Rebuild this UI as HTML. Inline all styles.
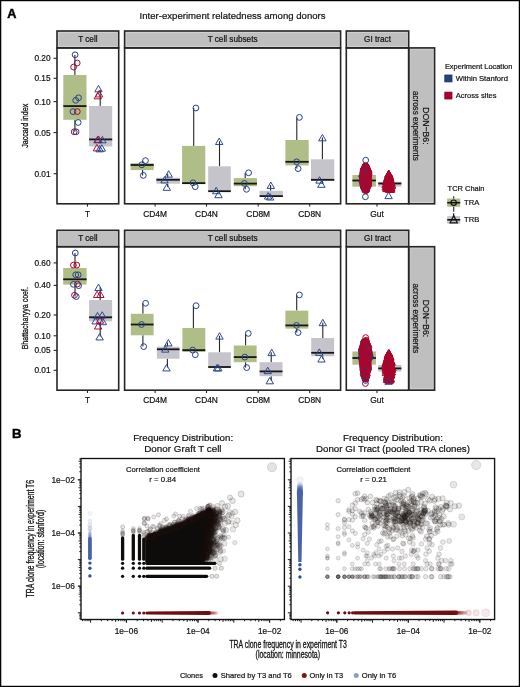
<!DOCTYPE html>
<html><head><meta charset="utf-8"><style>
html,body{margin:0;padding:0;background:#fff;}
svg{display:block;}
text{font-family:'Liberation Sans',sans-serif;}
.c0{fill:rgba(60,90,165,0.06);stroke:rgba(60,90,165,0.11);stroke-width:0.6}
.c1{fill:rgba(60,90,165,0.1);stroke:rgba(60,90,165,0.15);stroke-width:0.6}
.c2{fill:rgba(60,90,165,0.14);stroke:rgba(60,90,165,0.19);stroke-width:0.6}
.c3{fill:rgba(60,90,165,0.18);stroke:rgba(60,90,165,0.23);stroke-width:0.6}
.c4{fill:rgba(30,22,18,0.12);stroke:rgba(30,22,18,0.2);stroke-width:0.6}
.c5{fill:rgba(30,22,18,0.1);stroke:rgba(30,22,18,0.3);stroke-width:0.7}
.c6{fill:rgba(30,22,18,0.12);stroke:rgba(30,22,18,0.3);stroke-width:0.7}
.c7{fill:rgba(30,22,18,0.14);stroke:rgba(30,22,18,0.28);stroke-width:0.6}
.c8{fill:rgba(30,22,18,0.1);stroke:rgba(30,22,18,0.26);stroke-width:0.6}
.c9{fill:rgba(30,22,18,0.12);stroke:rgba(30,22,18,0.3);stroke-width:0.6}
.c10{fill:rgba(30,22,18,0.1);stroke:rgba(30,22,18,0.22);stroke-width:0.6}
.c11{fill:rgba(30,22,18,0.06);stroke:rgba(30,22,18,0.2);stroke-width:0.6}
.c12{fill:rgba(30,22,18,0.1);stroke:rgba(30,22,18,0.3);stroke-width:0.6}
.c13{fill:rgba(30,22,18,0.12);stroke:rgba(30,22,18,0.16);stroke-width:0.8}
.c14{fill:rgba(60,90,165,0.07);stroke:rgba(60,90,165,0.09);stroke-width:0.6}
.c15{fill:rgba(160,40,50,0.15);stroke:rgba(160,40,50,0.2);stroke-width:0.6}
.c16{fill:rgba(160,40,50,0.12);stroke:rgba(160,40,50,0.17);stroke-width:0.6}
.c17{fill:rgba(160,40,50,0.1);stroke:rgba(160,40,50,0.15);stroke-width:0.6}
.c18{fill:rgba(30,22,18,0.1);stroke:rgba(30,22,18,0.28);stroke-width:0.6}
.c19{fill:rgba(30,22,18,0.35);stroke:rgba(30,22,18,0.5);stroke-width:0.7}
.c20{fill:rgba(30,22,18,0.1);stroke:rgba(30,22,18,0.18);stroke-width:0.7}
</style></head><body>
<svg width="520" height="687" viewBox="0 0 520 687" style="font-family:'Liberation Sans',sans-serif;will-change:transform">
<rect x="0.65" y="0.6" width="518.75" height="685.8" fill="#fff" stroke="#000" stroke-width="1.25"/>
<text x="7.3" y="18" font-size="12.7" text-anchor="start" font-weight="bold" fill="#000" stroke="#000" stroke-width="0.45">A</text>
<text x="139.6" y="18.8" font-size="9.6" text-anchor="start" font-weight="normal" fill="#111" textLength="186" lengthAdjust="spacingAndGlyphs" stroke="#111" stroke-width="0.2">Inter-experiment relatedness among donors</text>
<rect x="57" y="31" width="61.7" height="16.9" fill="#bfbfbf"/>
<rect x="58.3" y="32.3" width="59.1" height="14.3" fill="none" stroke="#d8d8d8" stroke-width="0.8"/>
<rect x="57" y="31" width="61.7" height="16.9" fill="none" stroke="#262626" stroke-width="1.6"/>
<text x="87.85" y="42.3" font-size="8.2" text-anchor="middle" font-weight="normal" fill="#111"  stroke="#111" stroke-width="0.2">T cell</text>
<rect x="124.6" y="31" width="216" height="16.9" fill="#bfbfbf"/>
<rect x="125.9" y="32.3" width="213.4" height="14.3" fill="none" stroke="#d8d8d8" stroke-width="0.8"/>
<rect x="124.6" y="31" width="216" height="16.9" fill="none" stroke="#262626" stroke-width="1.6"/>
<text x="232.6" y="42.3" font-size="8.2" text-anchor="middle" font-weight="normal" fill="#111"  stroke="#111" stroke-width="0.2">T cell subsets</text>
<rect x="346.3" y="31" width="62.4" height="16.9" fill="#bfbfbf"/>
<rect x="347.6" y="32.3" width="59.8" height="14.3" fill="none" stroke="#d8d8d8" stroke-width="0.8"/>
<rect x="346.3" y="31" width="62.4" height="16.9" fill="none" stroke="#262626" stroke-width="1.6"/>
<text x="377.5" y="42.3" font-size="8.2" text-anchor="middle" font-weight="normal" fill="#111"  stroke="#111" stroke-width="0.2">GI tract</text>
<rect x="408.7" y="47.9" width="25.9" height="155.9" fill="#bfbfbf"/>
<rect x="410" y="49.2" width="23.3" height="153.3" fill="none" stroke="#d8d8d8" stroke-width="0.8"/>
<rect x="408.7" y="47.9" width="25.9" height="155.9" fill="none" stroke="#262626" stroke-width="1.6"/>
<text transform="translate(423.4,125.85) rotate(90)" font-size="9.3" text-anchor="middle" fill="#111" stroke="#111" stroke-width="0.2" textLength="37.4" lengthAdjust="spacingAndGlyphs">DON−B6:</text>
<text transform="translate(412.8,125.85) rotate(90)" font-size="8.3" text-anchor="middle" fill="#111" stroke="#111" stroke-width="0.2" textLength="69.8" lengthAdjust="spacingAndGlyphs">across experiments</text>
<rect x="57" y="230.3" width="61.7" height="16.4" fill="#bfbfbf"/>
<rect x="58.3" y="231.6" width="59.1" height="13.8" fill="none" stroke="#d8d8d8" stroke-width="0.8"/>
<rect x="57" y="230.3" width="61.7" height="16.4" fill="none" stroke="#262626" stroke-width="1.6"/>
<text x="87.85" y="241.4" font-size="8.2" text-anchor="middle" font-weight="normal" fill="#111"  stroke="#111" stroke-width="0.2">T cell</text>
<rect x="124.6" y="230.3" width="216" height="16.4" fill="#bfbfbf"/>
<rect x="125.9" y="231.6" width="213.4" height="13.8" fill="none" stroke="#d8d8d8" stroke-width="0.8"/>
<rect x="124.6" y="230.3" width="216" height="16.4" fill="none" stroke="#262626" stroke-width="1.6"/>
<text x="232.6" y="241.4" font-size="8.2" text-anchor="middle" font-weight="normal" fill="#111"  stroke="#111" stroke-width="0.2">T cell subsets</text>
<rect x="346.3" y="230.3" width="62.4" height="16.4" fill="#bfbfbf"/>
<rect x="347.6" y="231.6" width="59.8" height="13.8" fill="none" stroke="#d8d8d8" stroke-width="0.8"/>
<rect x="346.3" y="230.3" width="62.4" height="16.4" fill="none" stroke="#262626" stroke-width="1.6"/>
<text x="377.5" y="241.4" font-size="8.2" text-anchor="middle" font-weight="normal" fill="#111"  stroke="#111" stroke-width="0.2">GI tract</text>
<rect x="408.7" y="246.7" width="25.9" height="143.5" fill="#bfbfbf"/>
<rect x="410" y="248" width="23.3" height="140.9" fill="none" stroke="#d8d8d8" stroke-width="0.8"/>
<rect x="408.7" y="246.7" width="25.9" height="143.5" fill="none" stroke="#262626" stroke-width="1.6"/>
<text transform="translate(423.4,318.45) rotate(90)" font-size="9.3" text-anchor="middle" fill="#111" stroke="#111" stroke-width="0.2" textLength="37.4" lengthAdjust="spacingAndGlyphs">DON−B6:</text>
<text transform="translate(412.8,318.45) rotate(90)" font-size="8.3" text-anchor="middle" fill="#111" stroke="#111" stroke-width="0.2" textLength="69.8" lengthAdjust="spacingAndGlyphs">across experiments</text>
<text x="50.6" y="61.2" font-size="8.3" text-anchor="end" font-weight="normal" fill="#111"  stroke="#111" stroke-width="0.2">0.20</text>
<line x1="53.6" y1="58.3" x2="57" y2="58.3" stroke="#262626" stroke-width="1.1"/>
<text x="50.6" y="81.2" font-size="8.3" text-anchor="end" font-weight="normal" fill="#111"  stroke="#111" stroke-width="0.2">0.15</text>
<line x1="53.6" y1="78.3" x2="57" y2="78.3" stroke="#262626" stroke-width="1.1"/>
<text x="50.6" y="104.5" font-size="8.3" text-anchor="end" font-weight="normal" fill="#111"  stroke="#111" stroke-width="0.2">0.10</text>
<line x1="53.6" y1="101.6" x2="57" y2="101.6" stroke="#262626" stroke-width="1.1"/>
<text x="50.6" y="135.5" font-size="8.3" text-anchor="end" font-weight="normal" fill="#111"  stroke="#111" stroke-width="0.2">0.05</text>
<line x1="53.6" y1="132.6" x2="57" y2="132.6" stroke="#262626" stroke-width="1.1"/>
<text x="50.6" y="176.6" font-size="8.3" text-anchor="end" font-weight="normal" fill="#111"  stroke="#111" stroke-width="0.2">0.01</text>
<line x1="53.6" y1="173.7" x2="57" y2="173.7" stroke="#262626" stroke-width="1.1"/>
<text x="50.6" y="265.8" font-size="8.3" text-anchor="end" font-weight="normal" fill="#111"  stroke="#111" stroke-width="0.2">0.60</text>
<line x1="53.6" y1="262.9" x2="57" y2="262.9" stroke="#262626" stroke-width="1.1"/>
<text x="50.6" y="288.3" font-size="8.3" text-anchor="end" font-weight="normal" fill="#111"  stroke="#111" stroke-width="0.2">0.40</text>
<line x1="53.6" y1="285.4" x2="57" y2="285.4" stroke="#262626" stroke-width="1.1"/>
<text x="50.6" y="317.9" font-size="8.3" text-anchor="end" font-weight="normal" fill="#111"  stroke="#111" stroke-width="0.2">0.20</text>
<line x1="53.6" y1="315" x2="57" y2="315" stroke="#262626" stroke-width="1.1"/>
<text x="50.6" y="338.7" font-size="8.3" text-anchor="end" font-weight="normal" fill="#111"  stroke="#111" stroke-width="0.2">0.10</text>
<line x1="53.6" y1="335.8" x2="57" y2="335.8" stroke="#262626" stroke-width="1.1"/>
<text x="50.6" y="353.3" font-size="8.3" text-anchor="end" font-weight="normal" fill="#111"  stroke="#111" stroke-width="0.2">0.05</text>
<line x1="53.6" y1="350.4" x2="57" y2="350.4" stroke="#262626" stroke-width="1.1"/>
<text x="50.6" y="373.2" font-size="8.3" text-anchor="end" font-weight="normal" fill="#111"  stroke="#111" stroke-width="0.2">0.01</text>
<line x1="53.6" y1="370.3" x2="57" y2="370.3" stroke="#262626" stroke-width="1.1"/>
<text transform="translate(28.4,125.8) rotate(-90)" font-size="9.8" text-anchor="middle" fill="#111" stroke="#111" stroke-width="0.3" textLength="44.0" lengthAdjust="spacingAndGlyphs">Jaccard index</text>
<text transform="translate(28.4,318.2) rotate(-90)" font-size="9.8" text-anchor="middle" fill="#111" stroke="#111" stroke-width="0.3" textLength="62.3" lengthAdjust="spacingAndGlyphs">Bhattacharyya coef.</text>
<text x="87.5" y="217.3" font-size="8.4" text-anchor="middle" font-weight="normal" fill="#111"  stroke="#111" stroke-width="0.2">T</text>
<line x1="87.5" y1="203.8" x2="87.5" y2="206.6" stroke="#262626" stroke-width="1.1"/>
<text x="155.1" y="217.3" font-size="8.4" text-anchor="middle" font-weight="normal" fill="#111"  stroke="#111" stroke-width="0.2">CD4M</text>
<line x1="155.1" y1="203.8" x2="155.1" y2="206.6" stroke="#262626" stroke-width="1.1"/>
<text x="206.5" y="217.3" font-size="8.4" text-anchor="middle" font-weight="normal" fill="#111"  stroke="#111" stroke-width="0.2">CD4N</text>
<line x1="206.5" y1="203.8" x2="206.5" y2="206.6" stroke="#262626" stroke-width="1.1"/>
<text x="258.2" y="217.3" font-size="8.4" text-anchor="middle" font-weight="normal" fill="#111"  stroke="#111" stroke-width="0.2">CD8M</text>
<line x1="258.2" y1="203.8" x2="258.2" y2="206.6" stroke="#262626" stroke-width="1.1"/>
<text x="309.7" y="217.3" font-size="8.4" text-anchor="middle" font-weight="normal" fill="#111"  stroke="#111" stroke-width="0.2">CD8N</text>
<line x1="309.7" y1="203.8" x2="309.7" y2="206.6" stroke="#262626" stroke-width="1.1"/>
<text x="377" y="217.3" font-size="8.4" text-anchor="middle" font-weight="normal" fill="#111"  stroke="#111" stroke-width="0.2">Gut</text>
<line x1="377" y1="203.8" x2="377" y2="206.6" stroke="#262626" stroke-width="1.1"/>
<text x="87.5" y="402.9" font-size="8.4" text-anchor="middle" font-weight="normal" fill="#111"  stroke="#111" stroke-width="0.2">T</text>
<line x1="87.5" y1="390.2" x2="87.5" y2="393" stroke="#262626" stroke-width="1.1"/>
<text x="155.1" y="402.9" font-size="8.4" text-anchor="middle" font-weight="normal" fill="#111"  stroke="#111" stroke-width="0.2">CD4M</text>
<line x1="155.1" y1="390.2" x2="155.1" y2="393" stroke="#262626" stroke-width="1.1"/>
<text x="206.5" y="402.9" font-size="8.4" text-anchor="middle" font-weight="normal" fill="#111"  stroke="#111" stroke-width="0.2">CD4N</text>
<line x1="206.5" y1="390.2" x2="206.5" y2="393" stroke="#262626" stroke-width="1.1"/>
<text x="258.2" y="402.9" font-size="8.4" text-anchor="middle" font-weight="normal" fill="#111"  stroke="#111" stroke-width="0.2">CD8M</text>
<line x1="258.2" y1="390.2" x2="258.2" y2="393" stroke="#262626" stroke-width="1.1"/>
<text x="309.7" y="402.9" font-size="8.4" text-anchor="middle" font-weight="normal" fill="#111"  stroke="#111" stroke-width="0.2">CD8N</text>
<line x1="309.7" y1="390.2" x2="309.7" y2="393" stroke="#262626" stroke-width="1.1"/>
<text x="377" y="402.9" font-size="8.4" text-anchor="middle" font-weight="normal" fill="#111"  stroke="#111" stroke-width="0.2">Gut</text>
<line x1="377" y1="390.2" x2="377" y2="393" stroke="#262626" stroke-width="1.1"/>
<line x1="74.9" y1="55" x2="74.9" y2="75" stroke="#262626" stroke-width="1.1"/>
<line x1="74.9" y1="119.8" x2="74.9" y2="131.8" stroke="#262626" stroke-width="1.1"/>
<rect x="63.3" y="75" width="23.2" height="44.8" fill="#afbd86"/>
<line x1="63.3" y1="106.1" x2="86.5" y2="106.1" stroke="#161616" stroke-width="1.8"/>
<circle cx="75.1" cy="54.8" r="2.9" fill="none" stroke="#24418a" stroke-width="1.0"/>
<circle cx="77.2" cy="63" r="2.9" fill="none" stroke="#a9062c" stroke-width="1.0"/>
<circle cx="73.6" cy="67.1" r="2.9" fill="none" stroke="#a9062c" stroke-width="1.0"/>
<circle cx="78.5" cy="97.8" r="2.9" fill="none" stroke="#24418a" stroke-width="1.0"/>
<circle cx="75.7" cy="100.3" r="2.9" fill="none" stroke="#24418a" stroke-width="1.0"/>
<circle cx="73" cy="111.6" r="2.9" fill="none" stroke="#24418a" stroke-width="1.0"/>
<circle cx="77.3" cy="111.6" r="2.9" fill="none" stroke="#a9062c" stroke-width="1.0"/>
<circle cx="78.2" cy="122.5" r="2.9" fill="none" stroke="#24418a" stroke-width="1.0"/>
<circle cx="74.2" cy="131.8" r="2.9" fill="none" stroke="#a9062c" stroke-width="1.0"/>
<circle cx="76.1" cy="131.8" r="2.9" fill="none" stroke="#24418a" stroke-width="1.0"/>
<line x1="100.2" y1="90" x2="100.2" y2="106" stroke="#262626" stroke-width="1.1"/>
<line x1="100.2" y1="146.5" x2="100.2" y2="148.5" stroke="#262626" stroke-width="1.1"/>
<rect x="89.1" y="106" width="23.1" height="40.5" fill="#c6c4cb"/>
<line x1="89.1" y1="139.4" x2="112.2" y2="139.4" stroke="#161616" stroke-width="1.8"/>
<polygon points="98.5,85.43 102.2,91.83 94.8,91.83" fill="none" stroke="#24418a" stroke-width="0.95" stroke-linejoin="miter"/>
<polygon points="99.1,90.53 102.8,96.93 95.4,96.93" fill="none" stroke="#a9062c" stroke-width="0.95" stroke-linejoin="miter"/>
<polygon points="97.8,92.43 101.5,98.83 94.1,98.83" fill="none" stroke="#a9062c" stroke-width="0.95" stroke-linejoin="miter"/>
<polygon points="97.5,136.43 101.2,142.83 93.8,142.83" fill="none" stroke="#24418a" stroke-width="0.95" stroke-linejoin="miter"/>
<polygon points="98.5,135.93 102.2,142.33 94.8,142.33" fill="none" stroke="#a9062c" stroke-width="0.95" stroke-linejoin="miter"/>
<polygon points="102.4,136.43 106.1,142.83 98.7,142.83" fill="none" stroke="#24418a" stroke-width="0.95" stroke-linejoin="miter"/>
<polygon points="96.9,144.43 100.6,150.83 93.2,150.83" fill="none" stroke="#a9062c" stroke-width="0.95" stroke-linejoin="miter"/>
<polygon points="99.6,145.43 103.3,151.83 95.9,151.83" fill="none" stroke="#24418a" stroke-width="0.95" stroke-linejoin="miter"/>
<polygon points="101.8,144.73 105.5,151.13 98.1,151.13" fill="none" stroke="#24418a" stroke-width="0.95" stroke-linejoin="miter"/>
<line x1="142.6" y1="160.6" x2="142.6" y2="163.2" stroke="#262626" stroke-width="1.1"/>
<line x1="142.6" y1="170.1" x2="142.6" y2="175.4" stroke="#262626" stroke-width="1.1"/>
<rect x="130.6" y="163.2" width="23.1" height="6.9" fill="#afbd86"/>
<line x1="130.6" y1="165" x2="153.7" y2="165" stroke="#161616" stroke-width="1.8"/>
<circle cx="145.5" cy="160.6" r="2.9" fill="none" stroke="#24418a" stroke-width="1.0"/>
<circle cx="141.8" cy="164.8" r="2.9" fill="none" stroke="#24418a" stroke-width="1.0"/>
<circle cx="143.3" cy="175.4" r="2.9" fill="none" stroke="#24418a" stroke-width="1.0"/>
<line x1="167.7" y1="173.8" x2="167.7" y2="177.7" stroke="#262626" stroke-width="1.1"/>
<line x1="167.7" y1="183.7" x2="167.7" y2="187" stroke="#262626" stroke-width="1.1"/>
<rect x="156.4" y="177.7" width="23.5" height="6" fill="#c6c4cb"/>
<line x1="156.4" y1="179.8" x2="179.9" y2="179.8" stroke="#161616" stroke-width="1.8"/>
<polygon points="168.7,170.73 172.4,177.13 165,177.13" fill="none" stroke="#24418a" stroke-width="0.95" stroke-linejoin="miter"/>
<polygon points="164.5,176.53 168.2,182.93 160.8,182.93" fill="none" stroke="#24418a" stroke-width="0.95" stroke-linejoin="miter"/>
<polygon points="166.8,183.93 170.5,190.33 163.1,190.33" fill="none" stroke="#24418a" stroke-width="0.95" stroke-linejoin="miter"/>
<line x1="193.7" y1="108" x2="193.7" y2="145.9" stroke="#262626" stroke-width="1.1"/>
<rect x="182.1" y="145.9" width="23.2" height="38.3" fill="#afbd86"/>
<line x1="182.1" y1="183.1" x2="205.3" y2="183.1" stroke="#161616" stroke-width="1.8"/>
<circle cx="195.9" cy="108" r="2.9" fill="none" stroke="#24418a" stroke-width="1.0"/>
<circle cx="193" cy="182.8" r="2.9" fill="none" stroke="#24418a" stroke-width="1.0"/>
<circle cx="195.2" cy="186.7" r="2.9" fill="none" stroke="#24418a" stroke-width="1.0"/>
<line x1="219.5" y1="141.2" x2="219.5" y2="166.3" stroke="#262626" stroke-width="1.1"/>
<rect x="208.2" y="166.3" width="22.6" height="25.3" fill="#c6c4cb"/>
<line x1="208.2" y1="191.2" x2="230.8" y2="191.2" stroke="#161616" stroke-width="1.8"/>
<polygon points="219.2,138.13 222.9,144.53 215.5,144.53" fill="none" stroke="#24418a" stroke-width="0.95" stroke-linejoin="miter"/>
<polygon points="216.2,187.33 219.9,193.73 212.5,193.73" fill="none" stroke="#24418a" stroke-width="0.95" stroke-linejoin="miter"/>
<polygon points="218.5,191.33 222.2,197.73 214.8,197.73" fill="none" stroke="#24418a" stroke-width="0.95" stroke-linejoin="miter"/>
<line x1="245.2" y1="172.8" x2="245.2" y2="178.1" stroke="#262626" stroke-width="1.1"/>
<line x1="245.2" y1="186.2" x2="245.2" y2="189.3" stroke="#262626" stroke-width="1.1"/>
<rect x="233.8" y="178.1" width="23.1" height="8.1" fill="#afbd86"/>
<line x1="233.8" y1="183.6" x2="256.9" y2="183.6" stroke="#161616" stroke-width="1.8"/>
<circle cx="248.6" cy="172.8" r="2.9" fill="none" stroke="#24418a" stroke-width="1.0"/>
<circle cx="244.4" cy="183.4" r="2.9" fill="none" stroke="#24418a" stroke-width="1.0"/>
<circle cx="246.5" cy="189.3" r="2.9" fill="none" stroke="#24418a" stroke-width="1.0"/>
<line x1="270.6" y1="185.1" x2="270.6" y2="190.8" stroke="#262626" stroke-width="1.1"/>
<rect x="259.6" y="190.8" width="23.3" height="5.9" fill="#c6c4cb"/>
<line x1="259.6" y1="196.1" x2="282.9" y2="196.1" stroke="#161616" stroke-width="1.8"/>
<polygon points="270.8,182.03 274.5,188.43 267.1,188.43" fill="none" stroke="#24418a" stroke-width="0.95" stroke-linejoin="miter"/>
<polygon points="268.1,192.63 271.8,199.03 264.4,199.03" fill="none" stroke="#24418a" stroke-width="0.95" stroke-linejoin="miter"/>
<polygon points="270.2,193.63 273.9,200.03 266.5,200.03" fill="none" stroke="#24418a" stroke-width="0.95" stroke-linejoin="miter"/>
<line x1="296.8" y1="117.4" x2="296.8" y2="140" stroke="#262626" stroke-width="1.1"/>
<line x1="296.8" y1="165.4" x2="296.8" y2="168.6" stroke="#262626" stroke-width="1.1"/>
<rect x="285.4" y="140" width="23.3" height="25.4" fill="#afbd86"/>
<line x1="285.4" y1="161.8" x2="308.7" y2="161.8" stroke="#161616" stroke-width="1.8"/>
<circle cx="299.4" cy="117.4" r="2.9" fill="none" stroke="#24418a" stroke-width="1.0"/>
<circle cx="296.6" cy="161.8" r="2.9" fill="none" stroke="#24418a" stroke-width="1.0"/>
<circle cx="298.1" cy="168.6" r="2.9" fill="none" stroke="#24418a" stroke-width="1.0"/>
<line x1="322.4" y1="137.5" x2="322.4" y2="159.3" stroke="#262626" stroke-width="1.1"/>
<line x1="322.4" y1="180.9" x2="322.4" y2="184" stroke="#262626" stroke-width="1.1"/>
<rect x="311" y="159.3" width="23.3" height="21.6" fill="#c6c4cb"/>
<line x1="311" y1="179.8" x2="334.3" y2="179.8" stroke="#161616" stroke-width="1.8"/>
<polygon points="322.4,134.43 326.1,140.83 318.7,140.83" fill="none" stroke="#24418a" stroke-width="0.95" stroke-linejoin="miter"/>
<polygon points="319.5,176.73 323.2,183.13 315.8,183.13" fill="none" stroke="#24418a" stroke-width="0.95" stroke-linejoin="miter"/>
<polygon points="321.4,180.93 325.1,187.33 317.7,187.33" fill="none" stroke="#24418a" stroke-width="0.95" stroke-linejoin="miter"/>
<rect x="352.4" y="175" width="23.5" height="11.7" fill="#afbd86"/>
<line x1="352.4" y1="180.5" x2="375.9" y2="180.5" stroke="#161616" stroke-width="1.8"/>
<circle cx="365.7" cy="160.2" r="2.9" fill="none" stroke="#24418a" stroke-width="1.0"/>
<circle cx="365.4" cy="196.8" r="2.9" fill="none" stroke="#24418a" stroke-width="1.0"/>
<circle cx="365.09" cy="180" r="2.9" fill="none" stroke="#24418a" stroke-width="1.0"/>
<circle cx="363.19" cy="180.16" r="2.9" fill="none" stroke="#24418a" stroke-width="1.0"/>
<circle cx="367.97" cy="185.93" r="2.9" fill="none" stroke="#24418a" stroke-width="1.0"/>
<circle cx="362.78" cy="182.01" r="2.9" fill="none" stroke="#24418a" stroke-width="1.0"/>
<circle cx="364.23" cy="178.76" r="2.9" fill="none" stroke="#24418a" stroke-width="1.0"/>
<circle cx="368.98" cy="172.12" r="2.9" fill="none" stroke="#24418a" stroke-width="1.0"/>
<circle cx="364.74" cy="190.42" r="2.9" fill="none" stroke="#24418a" stroke-width="1.0"/>
<circle cx="366.37" cy="187.07" r="2.9" fill="none" stroke="#24418a" stroke-width="1.0"/>
<circle cx="363.88" cy="175.35" r="2.9" fill="none" stroke="#24418a" stroke-width="1.0"/>
<circle cx="365.34" cy="182.54" r="2.9" fill="none" stroke="#24418a" stroke-width="1.0"/>
<circle cx="367.04" cy="182.8" r="2.9" fill="none" stroke="#24418a" stroke-width="1.0"/>
<circle cx="367.2" cy="169.26" r="2.9" fill="none" stroke="#24418a" stroke-width="1.0"/>
<circle cx="366.9" cy="190.07" r="2.9" fill="none" stroke="#24418a" stroke-width="1.0"/>
<circle cx="361.79" cy="181.03" r="2.9" fill="none" stroke="#24418a" stroke-width="1.0"/>
<circle cx="364.93" cy="166.1" r="2.9" fill="none" stroke="#24418a" stroke-width="1.0"/>
<circle cx="364.93" cy="189.05" r="2.9" fill="none" stroke="#24418a" stroke-width="1.0"/>
<circle cx="369.04" cy="174.97" r="2.9" fill="none" stroke="#24418a" stroke-width="1.0"/>
<circle cx="366.09" cy="173.7" r="2.9" fill="none" stroke="#24418a" stroke-width="1.0"/>
<circle cx="362.03" cy="176.68" r="2.9" fill="none" stroke="#24418a" stroke-width="1.0"/>
<circle cx="368.64" cy="180.32" r="2.9" fill="none" stroke="#24418a" stroke-width="1.0"/>
<circle cx="363.99" cy="169.83" r="2.9" fill="none" stroke="#24418a" stroke-width="1.0"/>
<circle cx="361.8" cy="176.12" r="2.9" fill="none" stroke="#24418a" stroke-width="1.0"/>
<circle cx="368.4" cy="178.17" r="2.9" fill="none" stroke="#24418a" stroke-width="1.0"/>
<circle cx="365.99" cy="182.12" r="2.9" fill="none" stroke="#24418a" stroke-width="1.0"/>
<circle cx="363.38" cy="186.95" r="2.9" fill="none" stroke="#24418a" stroke-width="1.0"/>
<circle cx="364.63" cy="179.9" r="2.9" fill="none" stroke="#24418a" stroke-width="1.0"/>
<circle cx="362.39" cy="180.73" r="2.9" fill="none" stroke="#24418a" stroke-width="1.0"/>
<circle cx="362.71" cy="185" r="2.9" fill="none" stroke="#24418a" stroke-width="1.0"/>
<circle cx="367.68" cy="170.08" r="2.9" fill="none" stroke="#24418a" stroke-width="1.0"/>
<circle cx="365.45" cy="189.22" r="2.9" fill="none" stroke="#24418a" stroke-width="1.0"/>
<circle cx="363.55" cy="176.14" r="2.9" fill="none" stroke="#24418a" stroke-width="1.0"/>
<circle cx="366.58" cy="172.73" r="2.9" fill="none" stroke="#24418a" stroke-width="1.0"/>
<circle cx="363.21" cy="170.37" r="2.9" fill="none" stroke="#24418a" stroke-width="1.0"/>
<circle cx="362.86" cy="177.17" r="2.9" fill="none" stroke="#24418a" stroke-width="1.0"/>
<circle cx="368.46" cy="181.89" r="2.9" fill="none" stroke="#24418a" stroke-width="1.0"/>
<circle cx="365.55" cy="185.05" r="2.9" fill="none" stroke="#24418a" stroke-width="1.0"/>
<circle cx="365.16" cy="174.52" r="2.9" fill="none" stroke="#24418a" stroke-width="1.0"/>
<circle cx="366.15" cy="166.12" r="2.9" fill="none" stroke="#24418a" stroke-width="1.0"/>
<circle cx="364.25" cy="174.13" r="2.9" fill="none" stroke="#24418a" stroke-width="1.0"/>
<circle cx="365.48" cy="167.96" r="2.9" fill="none" stroke="#24418a" stroke-width="1.0"/>
<circle cx="366.12" cy="177.08" r="2.9" fill="none" stroke="#a9062c" stroke-width="1.0"/>
<circle cx="365.6" cy="188.64" r="2.9" fill="none" stroke="#a9062c" stroke-width="1.0"/>
<circle cx="366.32" cy="178.44" r="2.9" fill="none" stroke="#a9062c" stroke-width="1.0"/>
<circle cx="365.76" cy="170.52" r="2.9" fill="none" stroke="#a9062c" stroke-width="1.0"/>
<circle cx="367.8" cy="181.43" r="2.9" fill="none" stroke="#a9062c" stroke-width="1.0"/>
<circle cx="365.08" cy="168.31" r="2.9" fill="none" stroke="#a9062c" stroke-width="1.0"/>
<circle cx="366.64" cy="168.22" r="2.9" fill="none" stroke="#a9062c" stroke-width="1.0"/>
<circle cx="362.58" cy="182.99" r="2.9" fill="none" stroke="#a9062c" stroke-width="1.0"/>
<circle cx="366.25" cy="190.06" r="2.9" fill="none" stroke="#a9062c" stroke-width="1.0"/>
<circle cx="366.53" cy="182.02" r="2.9" fill="none" stroke="#a9062c" stroke-width="1.0"/>
<circle cx="363.35" cy="169.86" r="2.9" fill="none" stroke="#a9062c" stroke-width="1.0"/>
<circle cx="362.57" cy="178.95" r="2.9" fill="none" stroke="#a9062c" stroke-width="1.0"/>
<circle cx="364.34" cy="170.66" r="2.9" fill="none" stroke="#a9062c" stroke-width="1.0"/>
<circle cx="365.65" cy="166.74" r="2.9" fill="none" stroke="#a9062c" stroke-width="1.0"/>
<circle cx="368.11" cy="176.79" r="2.9" fill="none" stroke="#a9062c" stroke-width="1.0"/>
<circle cx="366.7" cy="178.72" r="2.9" fill="none" stroke="#a9062c" stroke-width="1.0"/>
<circle cx="366.85" cy="178.24" r="2.9" fill="none" stroke="#a9062c" stroke-width="1.0"/>
<circle cx="364.13" cy="177.2" r="2.9" fill="none" stroke="#a9062c" stroke-width="1.0"/>
<circle cx="366.03" cy="190.44" r="2.9" fill="none" stroke="#a9062c" stroke-width="1.0"/>
<circle cx="366.82" cy="186.59" r="2.9" fill="none" stroke="#a9062c" stroke-width="1.0"/>
<circle cx="363.95" cy="173.72" r="2.9" fill="none" stroke="#a9062c" stroke-width="1.0"/>
<circle cx="363.02" cy="173.08" r="2.9" fill="none" stroke="#a9062c" stroke-width="1.0"/>
<circle cx="365.09" cy="184.77" r="2.9" fill="none" stroke="#a9062c" stroke-width="1.0"/>
<circle cx="365.1" cy="186.74" r="2.9" fill="none" stroke="#a9062c" stroke-width="1.0"/>
<circle cx="366.38" cy="189.47" r="2.9" fill="none" stroke="#a9062c" stroke-width="1.0"/>
<circle cx="365.52" cy="166.01" r="2.9" fill="none" stroke="#a9062c" stroke-width="1.0"/>
<circle cx="365.6" cy="188.3" r="2.9" fill="none" stroke="#a9062c" stroke-width="1.0"/>
<circle cx="365.57" cy="190.02" r="2.9" fill="none" stroke="#a9062c" stroke-width="1.0"/>
<circle cx="366.03" cy="167.79" r="2.9" fill="none" stroke="#a9062c" stroke-width="1.0"/>
<circle cx="364.33" cy="185.07" r="2.9" fill="none" stroke="#a9062c" stroke-width="1.0"/>
<circle cx="365.21" cy="168.14" r="2.9" fill="none" stroke="#a9062c" stroke-width="1.0"/>
<circle cx="366.15" cy="189.62" r="2.9" fill="none" stroke="#a9062c" stroke-width="1.0"/>
<circle cx="364.74" cy="168.89" r="2.9" fill="none" stroke="#a9062c" stroke-width="1.0"/>
<circle cx="364.24" cy="168.48" r="2.9" fill="none" stroke="#a9062c" stroke-width="1.0"/>
<circle cx="363.83" cy="185.53" r="2.9" fill="none" stroke="#a9062c" stroke-width="1.0"/>
<circle cx="365.32" cy="179.7" r="2.9" fill="none" stroke="#a9062c" stroke-width="1.0"/>
<circle cx="366.92" cy="170.67" r="2.9" fill="none" stroke="#a9062c" stroke-width="1.0"/>
<circle cx="366.29" cy="169.21" r="2.9" fill="none" stroke="#a9062c" stroke-width="1.0"/>
<circle cx="365.4" cy="168.85" r="2.9" fill="none" stroke="#a9062c" stroke-width="1.0"/>
<circle cx="364.44" cy="171.22" r="2.9" fill="none" stroke="#a9062c" stroke-width="1.0"/>
<circle cx="366.17" cy="189.79" r="2.9" fill="none" stroke="#a9062c" stroke-width="1.0"/>
<circle cx="368.16" cy="173.45" r="2.9" fill="none" stroke="#a9062c" stroke-width="1.0"/>
<circle cx="365.12" cy="171.16" r="2.9" fill="none" stroke="#a9062c" stroke-width="1.0"/>
<circle cx="366.44" cy="186.93" r="2.9" fill="none" stroke="#a9062c" stroke-width="1.0"/>
<circle cx="367.32" cy="168.46" r="2.9" fill="none" stroke="#a9062c" stroke-width="1.0"/>
<circle cx="364.37" cy="171.22" r="2.9" fill="none" stroke="#a9062c" stroke-width="1.0"/>
<circle cx="364.67" cy="184.93" r="2.9" fill="none" stroke="#a9062c" stroke-width="1.0"/>
<circle cx="363.01" cy="173.26" r="2.9" fill="none" stroke="#a9062c" stroke-width="1.0"/>
<circle cx="365.95" cy="168.21" r="2.9" fill="none" stroke="#a9062c" stroke-width="1.0"/>
<circle cx="366.29" cy="171.95" r="2.9" fill="none" stroke="#a9062c" stroke-width="1.0"/>
<circle cx="365.37" cy="175.11" r="2.9" fill="none" stroke="#a9062c" stroke-width="1.0"/>
<circle cx="365.67" cy="189.5" r="2.9" fill="none" stroke="#a9062c" stroke-width="1.0"/>
<circle cx="368.32" cy="180.08" r="2.9" fill="none" stroke="#a9062c" stroke-width="1.0"/>
<circle cx="363.9" cy="170.48" r="2.9" fill="none" stroke="#a9062c" stroke-width="1.0"/>
<circle cx="366.83" cy="188.26" r="2.9" fill="none" stroke="#a9062c" stroke-width="1.0"/>
<circle cx="363.89" cy="172.11" r="2.9" fill="none" stroke="#a9062c" stroke-width="1.0"/>
<circle cx="368.5" cy="184.12" r="2.9" fill="none" stroke="#a9062c" stroke-width="1.0"/>
<circle cx="368.1" cy="170.82" r="2.9" fill="none" stroke="#a9062c" stroke-width="1.0"/>
<circle cx="366.15" cy="187.61" r="2.9" fill="none" stroke="#a9062c" stroke-width="1.0"/>
<circle cx="362.91" cy="176.33" r="2.9" fill="none" stroke="#a9062c" stroke-width="1.0"/>
<circle cx="366.46" cy="166.95" r="2.9" fill="none" stroke="#a9062c" stroke-width="1.0"/>
<circle cx="366.87" cy="171.84" r="2.9" fill="none" stroke="#a9062c" stroke-width="1.0"/>
<circle cx="367.62" cy="172.3" r="2.9" fill="none" stroke="#a9062c" stroke-width="1.0"/>
<circle cx="364.22" cy="180.61" r="2.9" fill="none" stroke="#a9062c" stroke-width="1.0"/>
<circle cx="366.83" cy="170.3" r="2.9" fill="none" stroke="#a9062c" stroke-width="1.0"/>
<circle cx="365.03" cy="167.69" r="2.9" fill="none" stroke="#a9062c" stroke-width="1.0"/>
<circle cx="368.21" cy="179.7" r="2.9" fill="none" stroke="#a9062c" stroke-width="1.0"/>
<circle cx="364.12" cy="181.05" r="2.9" fill="none" stroke="#a9062c" stroke-width="1.0"/>
<circle cx="364.73" cy="188.48" r="2.9" fill="none" stroke="#a9062c" stroke-width="1.0"/>
<circle cx="365.46" cy="166.41" r="2.9" fill="none" stroke="#a9062c" stroke-width="1.0"/>
<circle cx="362.6" cy="176.92" r="2.9" fill="none" stroke="#a9062c" stroke-width="1.0"/>
<circle cx="365.03" cy="170.32" r="2.9" fill="none" stroke="#a9062c" stroke-width="1.0"/>
<circle cx="363.07" cy="180.02" r="2.9" fill="none" stroke="#a9062c" stroke-width="1.0"/>
<circle cx="368.42" cy="174.87" r="2.9" fill="none" stroke="#a9062c" stroke-width="1.0"/>
<circle cx="365.89" cy="190.02" r="2.9" fill="none" stroke="#a9062c" stroke-width="1.0"/>
<circle cx="366.28" cy="182.93" r="2.9" fill="none" stroke="#a9062c" stroke-width="1.0"/>
<circle cx="363.66" cy="169.44" r="2.9" fill="none" stroke="#a9062c" stroke-width="1.0"/>
<circle cx="366.14" cy="166.44" r="2.9" fill="none" stroke="#a9062c" stroke-width="1.0"/>
<circle cx="368.81" cy="183.17" r="2.9" fill="none" stroke="#a9062c" stroke-width="1.0"/>
<circle cx="365.86" cy="166.52" r="2.9" fill="none" stroke="#a9062c" stroke-width="1.0"/>
<circle cx="367.33" cy="177.81" r="2.9" fill="none" stroke="#a9062c" stroke-width="1.0"/>
<circle cx="368.96" cy="173.81" r="2.9" fill="none" stroke="#a9062c" stroke-width="1.0"/>
<circle cx="365.82" cy="167.84" r="2.9" fill="none" stroke="#a9062c" stroke-width="1.0"/>
<circle cx="368.25" cy="184.06" r="2.9" fill="none" stroke="#a9062c" stroke-width="1.0"/>
<circle cx="367" cy="184.06" r="2.9" fill="none" stroke="#a9062c" stroke-width="1.0"/>
<circle cx="368.12" cy="185.44" r="2.9" fill="none" stroke="#a9062c" stroke-width="1.0"/>
<circle cx="366.97" cy="174.62" r="2.9" fill="none" stroke="#a9062c" stroke-width="1.0"/>
<circle cx="367.11" cy="188.07" r="2.9" fill="none" stroke="#a9062c" stroke-width="1.0"/>
<circle cx="367.74" cy="176.22" r="2.9" fill="none" stroke="#a9062c" stroke-width="1.0"/>
<circle cx="366.06" cy="187.16" r="2.9" fill="none" stroke="#a9062c" stroke-width="1.0"/>
<circle cx="364.86" cy="181.31" r="2.9" fill="none" stroke="#a9062c" stroke-width="1.0"/>
<circle cx="366.48" cy="180.28" r="2.9" fill="none" stroke="#a9062c" stroke-width="1.0"/>
<circle cx="366.08" cy="167.96" r="2.9" fill="none" stroke="#a9062c" stroke-width="1.0"/>
<circle cx="366.01" cy="190.34" r="2.9" fill="none" stroke="#a9062c" stroke-width="1.0"/>
<circle cx="364.98" cy="183.84" r="2.9" fill="none" stroke="#a9062c" stroke-width="1.0"/>
<circle cx="366.22" cy="184.01" r="2.9" fill="none" stroke="#a9062c" stroke-width="1.0"/>
<circle cx="368.09" cy="176.79" r="2.9" fill="none" stroke="#a9062c" stroke-width="1.0"/>
<circle cx="366.42" cy="168.05" r="2.9" fill="none" stroke="#a9062c" stroke-width="1.0"/>
<circle cx="365.84" cy="166.73" r="2.9" fill="none" stroke="#a9062c" stroke-width="1.0"/>
<circle cx="363.79" cy="177.78" r="2.9" fill="none" stroke="#a9062c" stroke-width="1.0"/>
<circle cx="365.68" cy="183.11" r="2.9" fill="none" stroke="#a9062c" stroke-width="1.0"/>
<circle cx="368.72" cy="181.06" r="2.9" fill="none" stroke="#a9062c" stroke-width="1.0"/>
<circle cx="362.81" cy="172.27" r="2.9" fill="none" stroke="#a9062c" stroke-width="1.0"/>
<circle cx="366.83" cy="173.38" r="2.9" fill="none" stroke="#a9062c" stroke-width="1.0"/>
<circle cx="363.92" cy="170.96" r="2.9" fill="none" stroke="#a9062c" stroke-width="1.0"/>
<circle cx="366.28" cy="188.19" r="2.9" fill="none" stroke="#a9062c" stroke-width="1.0"/>
<circle cx="368.46" cy="176.83" r="2.9" fill="none" stroke="#a9062c" stroke-width="1.0"/>
<circle cx="366.8" cy="174.01" r="2.9" fill="none" stroke="#a9062c" stroke-width="1.0"/>
<circle cx="365.33" cy="170.86" r="2.9" fill="none" stroke="#a9062c" stroke-width="1.0"/>
<circle cx="368.06" cy="185.75" r="2.9" fill="none" stroke="#a9062c" stroke-width="1.0"/>
<circle cx="365.19" cy="187.57" r="2.9" fill="none" stroke="#a9062c" stroke-width="1.0"/>
<circle cx="364.39" cy="180.29" r="2.9" fill="none" stroke="#a9062c" stroke-width="1.0"/>
<circle cx="365.68" cy="169.34" r="2.9" fill="none" stroke="#a9062c" stroke-width="1.0"/>
<circle cx="367.58" cy="186.51" r="2.9" fill="none" stroke="#a9062c" stroke-width="1.0"/>
<circle cx="368.68" cy="183.42" r="2.9" fill="none" stroke="#a9062c" stroke-width="1.0"/>
<circle cx="363.68" cy="172.78" r="2.9" fill="none" stroke="#a9062c" stroke-width="1.0"/>
<circle cx="364.11" cy="177.04" r="2.9" fill="none" stroke="#a9062c" stroke-width="1.0"/>
<circle cx="365.23" cy="171.24" r="2.9" fill="none" stroke="#a9062c" stroke-width="1.0"/>
<circle cx="365.66" cy="181.33" r="2.9" fill="none" stroke="#a9062c" stroke-width="1.0"/>
<circle cx="367.9" cy="173.73" r="2.9" fill="none" stroke="#a9062c" stroke-width="1.0"/>
<circle cx="365.64" cy="190.06" r="2.9" fill="none" stroke="#a9062c" stroke-width="1.0"/>
<circle cx="364.48" cy="167.83" r="2.9" fill="none" stroke="#a9062c" stroke-width="1.0"/>
<circle cx="363.55" cy="187.38" r="2.9" fill="none" stroke="#a9062c" stroke-width="1.0"/>
<circle cx="366.17" cy="183.36" r="2.9" fill="none" stroke="#a9062c" stroke-width="1.0"/>
<circle cx="367.57" cy="173.57" r="2.9" fill="none" stroke="#a9062c" stroke-width="1.0"/>
<circle cx="365.29" cy="166.47" r="2.9" fill="none" stroke="#a9062c" stroke-width="1.0"/>
<circle cx="362.34" cy="177.14" r="2.9" fill="none" stroke="#a9062c" stroke-width="1.0"/>
<circle cx="364.26" cy="186.33" r="2.9" fill="none" stroke="#a9062c" stroke-width="1.0"/>
<circle cx="363.71" cy="169.45" r="2.9" fill="none" stroke="#a9062c" stroke-width="1.0"/>
<circle cx="365.32" cy="181.41" r="2.9" fill="none" stroke="#a9062c" stroke-width="1.0"/>
<circle cx="366.81" cy="181.43" r="2.9" fill="none" stroke="#a9062c" stroke-width="1.0"/>
<circle cx="368.31" cy="185.78" r="2.9" fill="none" stroke="#a9062c" stroke-width="1.0"/>
<circle cx="363.63" cy="182.77" r="2.9" fill="none" stroke="#a9062c" stroke-width="1.0"/>
<circle cx="363.43" cy="177.64" r="2.9" fill="none" stroke="#a9062c" stroke-width="1.0"/>
<circle cx="365.68" cy="166.26" r="2.9" fill="none" stroke="#a9062c" stroke-width="1.0"/>
<circle cx="363.58" cy="183.5" r="2.9" fill="none" stroke="#a9062c" stroke-width="1.0"/>
<circle cx="364.76" cy="172.67" r="2.9" fill="none" stroke="#a9062c" stroke-width="1.0"/>
<circle cx="365.84" cy="183.08" r="2.9" fill="none" stroke="#a9062c" stroke-width="1.0"/>
<circle cx="367.54" cy="181.05" r="2.9" fill="none" stroke="#a9062c" stroke-width="1.0"/>
<circle cx="367.75" cy="175.64" r="2.9" fill="none" stroke="#a9062c" stroke-width="1.0"/>
<circle cx="364.21" cy="188.2" r="2.9" fill="none" stroke="#a9062c" stroke-width="1.0"/>
<circle cx="366.32" cy="188.85" r="2.9" fill="none" stroke="#a9062c" stroke-width="1.0"/>
<circle cx="365.51" cy="169.18" r="2.9" fill="none" stroke="#a9062c" stroke-width="1.0"/>
<circle cx="368.64" cy="181.33" r="2.9" fill="none" stroke="#a9062c" stroke-width="1.0"/>
<circle cx="366.18" cy="175.23" r="2.9" fill="none" stroke="#a9062c" stroke-width="1.0"/>
<circle cx="367.03" cy="187.54" r="2.9" fill="none" stroke="#a9062c" stroke-width="1.0"/>
<circle cx="365.61" cy="189.13" r="2.9" fill="none" stroke="#a9062c" stroke-width="1.0"/>
<circle cx="363.58" cy="181.96" r="2.9" fill="none" stroke="#a9062c" stroke-width="1.0"/>
<circle cx="367.78" cy="183.69" r="2.9" fill="none" stroke="#a9062c" stroke-width="1.0"/>
<circle cx="367.27" cy="181.72" r="2.9" fill="none" stroke="#a9062c" stroke-width="1.0"/>
<circle cx="367.9" cy="171.23" r="2.9" fill="none" stroke="#a9062c" stroke-width="1.0"/>
<circle cx="366.29" cy="190.02" r="2.9" fill="none" stroke="#a9062c" stroke-width="1.0"/>
<circle cx="367.77" cy="179.16" r="2.9" fill="none" stroke="#a9062c" stroke-width="1.0"/>
<circle cx="368.38" cy="173.85" r="2.9" fill="none" stroke="#a9062c" stroke-width="1.0"/>
<circle cx="364.91" cy="186.97" r="2.9" fill="none" stroke="#a9062c" stroke-width="1.0"/>
<circle cx="365.53" cy="168.03" r="2.9" fill="none" stroke="#a9062c" stroke-width="1.0"/>
<circle cx="367.61" cy="179.48" r="2.9" fill="none" stroke="#a9062c" stroke-width="1.0"/>
<circle cx="362.36" cy="177.94" r="2.9" fill="none" stroke="#a9062c" stroke-width="1.0"/>
<circle cx="363.23" cy="185.82" r="2.9" fill="none" stroke="#a9062c" stroke-width="1.0"/>
<circle cx="363.82" cy="185.6" r="2.9" fill="none" stroke="#a9062c" stroke-width="1.0"/>
<circle cx="367.62" cy="174.21" r="2.9" fill="none" stroke="#a9062c" stroke-width="1.0"/>
<circle cx="364.16" cy="169.44" r="2.9" fill="none" stroke="#a9062c" stroke-width="1.0"/>
<circle cx="367.29" cy="178.65" r="2.9" fill="none" stroke="#a9062c" stroke-width="1.0"/>
<circle cx="366.72" cy="186.58" r="2.9" fill="none" stroke="#a9062c" stroke-width="1.0"/>
<circle cx="365.68" cy="189.17" r="2.9" fill="none" stroke="#a9062c" stroke-width="1.0"/>
<circle cx="364.77" cy="189.25" r="2.9" fill="none" stroke="#a9062c" stroke-width="1.0"/>
<circle cx="365.85" cy="171.42" r="2.9" fill="none" stroke="#a9062c" stroke-width="1.0"/>
<circle cx="367.13" cy="173.11" r="2.9" fill="none" stroke="#a9062c" stroke-width="1.0"/>
<circle cx="365.86" cy="181.65" r="2.9" fill="none" stroke="#a9062c" stroke-width="1.0"/>
<circle cx="366.02" cy="186.67" r="2.9" fill="none" stroke="#a9062c" stroke-width="1.0"/>
<circle cx="366.69" cy="172.35" r="0.7" fill="#24418a"/>
<circle cx="367.9" cy="182.76" r="0.7" fill="#24418a"/>
<circle cx="364.46" cy="170.55" r="0.7" fill="#24418a"/>
<circle cx="364.61" cy="169.61" r="0.7" fill="#24418a"/>
<circle cx="363.55" cy="183.98" r="0.7" fill="#24418a"/>
<circle cx="363.84" cy="179.02" r="0.7" fill="#24418a"/>
<circle cx="365.31" cy="173.22" r="0.7" fill="#24418a"/>
<circle cx="366.22" cy="186.52" r="0.7" fill="#24418a"/>
<circle cx="365.61" cy="166.35" r="0.7" fill="#24418a"/>
<circle cx="367.17" cy="169.59" r="0.7" fill="#24418a"/>
<rect x="378.2" y="181.8" width="23.2" height="4.9" fill="#c6c4cb"/>
<line x1="378.2" y1="183.5" x2="401.4" y2="183.5" stroke="#161616" stroke-width="1.8"/>
<polygon points="388.6,192.23 392.3,198.63 384.9,198.63" fill="none" stroke="#24418a" stroke-width="0.95" stroke-linejoin="miter"/>
<polygon points="389.62,177.78 393.32,184.18 385.92,184.18" fill="none" stroke="#a9062c" stroke-width="0.95" stroke-linejoin="miter"/>
<polygon points="386.16,180.83 389.86,187.23 382.46,187.23" fill="none" stroke="#a9062c" stroke-width="0.95" stroke-linejoin="miter"/>
<polygon points="388.79,170.4 392.49,176.8 385.09,176.8" fill="none" stroke="#a9062c" stroke-width="0.95" stroke-linejoin="miter"/>
<polygon points="389.73,174.59 393.43,180.99 386.03,180.99" fill="none" stroke="#a9062c" stroke-width="0.95" stroke-linejoin="miter"/>
<polygon points="389.54,181.21 393.24,187.61 385.84,187.61" fill="none" stroke="#a9062c" stroke-width="0.95" stroke-linejoin="miter"/>
<polygon points="389.8,179.11 393.5,185.51 386.1,185.51" fill="none" stroke="#a9062c" stroke-width="0.95" stroke-linejoin="miter"/>
<polygon points="388.71,172.54 392.41,178.94 385.01,178.94" fill="none" stroke="#a9062c" stroke-width="0.95" stroke-linejoin="miter"/>
<polygon points="389.52,172.81 393.22,179.21 385.82,179.21" fill="none" stroke="#a9062c" stroke-width="0.95" stroke-linejoin="miter"/>
<polygon points="389,171.17 392.7,177.57 385.3,177.57" fill="none" stroke="#a9062c" stroke-width="0.95" stroke-linejoin="miter"/>
<polygon points="388.95,171.42 392.65,177.82 385.25,177.82" fill="none" stroke="#a9062c" stroke-width="0.95" stroke-linejoin="miter"/>
<polygon points="388.45,175.59 392.15,181.99 384.75,181.99" fill="none" stroke="#a9062c" stroke-width="0.95" stroke-linejoin="miter"/>
<polygon points="385.61,183.63 389.31,190.03 381.91,190.03" fill="none" stroke="#a9062c" stroke-width="0.95" stroke-linejoin="miter"/>
<polygon points="389.08,171.2 392.78,177.6 385.38,177.6" fill="none" stroke="#a9062c" stroke-width="0.95" stroke-linejoin="miter"/>
<polygon points="386.5,178.32 390.2,184.72 382.8,184.72" fill="none" stroke="#a9062c" stroke-width="0.95" stroke-linejoin="miter"/>
<polygon points="390.69,185.93 394.39,192.33 386.99,192.33" fill="none" stroke="#a9062c" stroke-width="0.95" stroke-linejoin="miter"/>
<polygon points="388.71,172.02 392.41,178.42 385.01,178.42" fill="none" stroke="#a9062c" stroke-width="0.95" stroke-linejoin="miter"/>
<polygon points="388.52,172.38 392.22,178.78 384.82,178.78" fill="none" stroke="#a9062c" stroke-width="0.95" stroke-linejoin="miter"/>
<polygon points="386.46,180.11 390.16,186.51 382.76,186.51" fill="none" stroke="#a9062c" stroke-width="0.95" stroke-linejoin="miter"/>
<polygon points="385.55,181.31 389.25,187.71 381.85,187.71" fill="none" stroke="#a9062c" stroke-width="0.95" stroke-linejoin="miter"/>
<polygon points="389.39,172.95 393.09,179.35 385.69,179.35" fill="none" stroke="#a9062c" stroke-width="0.95" stroke-linejoin="miter"/>
<polygon points="388.44,176.6 392.14,183 384.74,183" fill="none" stroke="#a9062c" stroke-width="0.95" stroke-linejoin="miter"/>
<polygon points="388.65,179.71 392.35,186.11 384.95,186.11" fill="none" stroke="#a9062c" stroke-width="0.95" stroke-linejoin="miter"/>
<polygon points="386.81,176.35 390.51,182.75 383.11,182.75" fill="none" stroke="#a9062c" stroke-width="0.95" stroke-linejoin="miter"/>
<polygon points="392.13,181.78 395.83,188.18 388.43,188.18" fill="none" stroke="#a9062c" stroke-width="0.95" stroke-linejoin="miter"/>
<polygon points="389.52,185.76 393.22,192.16 385.82,192.16" fill="none" stroke="#a9062c" stroke-width="0.95" stroke-linejoin="miter"/>
<polygon points="388.26,175.9 391.96,182.3 384.56,182.3" fill="none" stroke="#a9062c" stroke-width="0.95" stroke-linejoin="miter"/>
<polygon points="390.06,181.2 393.76,187.6 386.36,187.6" fill="none" stroke="#a9062c" stroke-width="0.95" stroke-linejoin="miter"/>
<polygon points="388.47,172.04 392.17,178.44 384.77,178.44" fill="none" stroke="#a9062c" stroke-width="0.95" stroke-linejoin="miter"/>
<polygon points="388.85,176.01 392.55,182.41 385.15,182.41" fill="none" stroke="#a9062c" stroke-width="0.95" stroke-linejoin="miter"/>
<polygon points="388.8,183.11 392.5,189.51 385.1,189.51" fill="none" stroke="#a9062c" stroke-width="0.95" stroke-linejoin="miter"/>
<polygon points="388.9,170.68 392.6,177.08 385.2,177.08" fill="none" stroke="#a9062c" stroke-width="0.95" stroke-linejoin="miter"/>
<polygon points="388.89,177.07 392.59,183.47 385.19,183.47" fill="none" stroke="#a9062c" stroke-width="0.95" stroke-linejoin="miter"/>
<polygon points="388.62,173.76 392.32,180.16 384.92,180.16" fill="none" stroke="#a9062c" stroke-width="0.95" stroke-linejoin="miter"/>
<polygon points="389.96,176.41 393.66,182.81 386.26,182.81" fill="none" stroke="#a9062c" stroke-width="0.95" stroke-linejoin="miter"/>
<polygon points="388.86,171.86 392.56,178.26 385.16,178.26" fill="none" stroke="#a9062c" stroke-width="0.95" stroke-linejoin="miter"/>
<polygon points="389.18,173.06 392.88,179.46 385.48,179.46" fill="none" stroke="#a9062c" stroke-width="0.95" stroke-linejoin="miter"/>
<polygon points="388.71,170.82 392.41,177.22 385.01,177.22" fill="none" stroke="#a9062c" stroke-width="0.95" stroke-linejoin="miter"/>
<polygon points="389.32,175.7 393.02,182.1 385.62,182.1" fill="none" stroke="#a9062c" stroke-width="0.95" stroke-linejoin="miter"/>
<polygon points="388.78,171.06 392.48,177.46 385.08,177.46" fill="none" stroke="#a9062c" stroke-width="0.95" stroke-linejoin="miter"/>
<polygon points="388.3,173.55 392,179.95 384.6,179.95" fill="none" stroke="#a9062c" stroke-width="0.95" stroke-linejoin="miter"/>
<polygon points="391.21,177.8 394.91,184.2 387.51,184.2" fill="none" stroke="#a9062c" stroke-width="0.95" stroke-linejoin="miter"/>
<polygon points="391.22,177.88 394.92,184.28 387.52,184.28" fill="none" stroke="#a9062c" stroke-width="0.95" stroke-linejoin="miter"/>
<polygon points="389.58,172.9 393.28,179.3 385.88,179.3" fill="none" stroke="#a9062c" stroke-width="0.95" stroke-linejoin="miter"/>
<polygon points="387.56,176.02 391.26,182.42 383.86,182.42" fill="none" stroke="#a9062c" stroke-width="0.95" stroke-linejoin="miter"/>
<polygon points="391.7,182.13 395.4,188.53 388,188.53" fill="none" stroke="#a9062c" stroke-width="0.95" stroke-linejoin="miter"/>
<polygon points="388.78,170.34 392.48,176.74 385.08,176.74" fill="none" stroke="#a9062c" stroke-width="0.95" stroke-linejoin="miter"/>
<polygon points="387.7,182.49 391.4,188.89 384,188.89" fill="none" stroke="#a9062c" stroke-width="0.95" stroke-linejoin="miter"/>
<polygon points="387.5,174.07 391.2,180.47 383.8,180.47" fill="none" stroke="#a9062c" stroke-width="0.95" stroke-linejoin="miter"/>
<polygon points="388.85,170.87 392.55,177.27 385.15,177.27" fill="none" stroke="#a9062c" stroke-width="0.95" stroke-linejoin="miter"/>
<polygon points="390.93,185.87 394.63,192.27 387.23,192.27" fill="none" stroke="#a9062c" stroke-width="0.95" stroke-linejoin="miter"/>
<polygon points="386.15,178.24 389.85,184.64 382.45,184.64" fill="none" stroke="#a9062c" stroke-width="0.95" stroke-linejoin="miter"/>
<polygon points="389.82,175.36 393.52,181.76 386.12,181.76" fill="none" stroke="#a9062c" stroke-width="0.95" stroke-linejoin="miter"/>
<polygon points="389.73,183.46 393.43,189.86 386.03,189.86" fill="none" stroke="#a9062c" stroke-width="0.95" stroke-linejoin="miter"/>
<polygon points="388.87,173.88 392.57,180.28 385.17,180.28" fill="none" stroke="#a9062c" stroke-width="0.95" stroke-linejoin="miter"/>
<polygon points="389.47,177.82 393.17,184.22 385.77,184.22" fill="none" stroke="#a9062c" stroke-width="0.95" stroke-linejoin="miter"/>
<polygon points="390.08,174.41 393.78,180.81 386.38,180.81" fill="none" stroke="#a9062c" stroke-width="0.95" stroke-linejoin="miter"/>
<polygon points="386.83,184.45 390.53,190.85 383.13,190.85" fill="none" stroke="#a9062c" stroke-width="0.95" stroke-linejoin="miter"/>
<polygon points="389.99,174.86 393.69,181.26 386.29,181.26" fill="none" stroke="#a9062c" stroke-width="0.95" stroke-linejoin="miter"/>
<polygon points="390.15,174.66 393.85,181.06 386.45,181.06" fill="none" stroke="#a9062c" stroke-width="0.95" stroke-linejoin="miter"/>
<polygon points="389.92,178.42 393.62,184.82 386.22,184.82" fill="none" stroke="#a9062c" stroke-width="0.95" stroke-linejoin="miter"/>
<polygon points="386.74,181.44 390.44,187.84 383.04,187.84" fill="none" stroke="#a9062c" stroke-width="0.95" stroke-linejoin="miter"/>
<polygon points="388.03,174.76 391.73,181.16 384.33,181.16" fill="none" stroke="#a9062c" stroke-width="0.95" stroke-linejoin="miter"/>
<polygon points="390.22,181.1 393.92,187.5 386.52,187.5" fill="none" stroke="#a9062c" stroke-width="0.95" stroke-linejoin="miter"/>
<polygon points="389.36,172.33 393.06,178.73 385.66,178.73" fill="none" stroke="#a9062c" stroke-width="0.95" stroke-linejoin="miter"/>
<polygon points="387.6,176.92 391.3,183.32 383.9,183.32" fill="none" stroke="#a9062c" stroke-width="0.95" stroke-linejoin="miter"/>
<polygon points="391.1,177.15 394.8,183.55 387.4,183.55" fill="none" stroke="#a9062c" stroke-width="0.95" stroke-linejoin="miter"/>
<polygon points="389.58,179.13 393.28,185.53 385.88,185.53" fill="none" stroke="#a9062c" stroke-width="0.95" stroke-linejoin="miter"/>
<polygon points="391.29,184.86 394.99,191.26 387.59,191.26" fill="none" stroke="#a9062c" stroke-width="0.95" stroke-linejoin="miter"/>
<polygon points="388.23,182.32 391.93,188.72 384.53,188.72" fill="none" stroke="#a9062c" stroke-width="0.95" stroke-linejoin="miter"/>
<polygon points="391.43,179.59 395.13,185.99 387.73,185.99" fill="none" stroke="#a9062c" stroke-width="0.95" stroke-linejoin="miter"/>
<polygon points="389.35,182.78 393.05,189.18 385.65,189.18" fill="none" stroke="#a9062c" stroke-width="0.95" stroke-linejoin="miter"/>
<polygon points="388.3,175.76 392,182.16 384.6,182.16" fill="none" stroke="#a9062c" stroke-width="0.95" stroke-linejoin="miter"/>
<polygon points="389.25,181.93 392.95,188.33 385.55,188.33" fill="none" stroke="#a9062c" stroke-width="0.95" stroke-linejoin="miter"/>
<polygon points="388.84,170.5 392.54,176.9 385.14,176.9" fill="none" stroke="#a9062c" stroke-width="0.95" stroke-linejoin="miter"/>
<polygon points="390.48,184.6 394.18,191 386.78,191" fill="none" stroke="#a9062c" stroke-width="0.95" stroke-linejoin="miter"/>
<polygon points="391.17,184.5 394.87,190.9 387.47,190.9" fill="none" stroke="#a9062c" stroke-width="0.95" stroke-linejoin="miter"/>
<polygon points="390.52,178.74 394.22,185.14 386.82,185.14" fill="none" stroke="#a9062c" stroke-width="0.95" stroke-linejoin="miter"/>
<polygon points="387.12,176.27 390.82,182.67 383.42,182.67" fill="none" stroke="#a9062c" stroke-width="0.95" stroke-linejoin="miter"/>
<polygon points="388.07,175.85 391.77,182.25 384.37,182.25" fill="none" stroke="#a9062c" stroke-width="0.95" stroke-linejoin="miter"/>
<polygon points="389.77,185.08 393.47,191.48 386.07,191.48" fill="none" stroke="#a9062c" stroke-width="0.95" stroke-linejoin="miter"/>
<polygon points="389.53,178.84 393.23,185.24 385.83,185.24" fill="none" stroke="#a9062c" stroke-width="0.95" stroke-linejoin="miter"/>
<polygon points="388.85,172.22 392.55,178.62 385.15,178.62" fill="none" stroke="#a9062c" stroke-width="0.95" stroke-linejoin="miter"/>
<polygon points="388.03,181.37 391.73,187.77 384.33,187.77" fill="none" stroke="#a9062c" stroke-width="0.95" stroke-linejoin="miter"/>
<polygon points="388.55,174.14 392.25,180.54 384.85,180.54" fill="none" stroke="#a9062c" stroke-width="0.95" stroke-linejoin="miter"/>
<polygon points="389.46,175.38 393.16,181.78 385.76,181.78" fill="none" stroke="#a9062c" stroke-width="0.95" stroke-linejoin="miter"/>
<polygon points="388.17,172.49 391.87,178.89 384.47,178.89" fill="none" stroke="#a9062c" stroke-width="0.95" stroke-linejoin="miter"/>
<polygon points="389.47,175.2 393.17,181.6 385.77,181.6" fill="none" stroke="#a9062c" stroke-width="0.95" stroke-linejoin="miter"/>
<polygon points="389.91,182.31 393.61,188.71 386.21,188.71" fill="none" stroke="#a9062c" stroke-width="0.95" stroke-linejoin="miter"/>
<polygon points="388.11,185.09 391.81,191.49 384.41,191.49" fill="none" stroke="#a9062c" stroke-width="0.95" stroke-linejoin="miter"/>
<polygon points="388.8,170.7 392.5,177.1 385.1,177.1" fill="none" stroke="#a9062c" stroke-width="0.95" stroke-linejoin="miter"/>
<polygon points="387.23,177.29 390.93,183.69 383.53,183.69" fill="none" stroke="#a9062c" stroke-width="0.95" stroke-linejoin="miter"/>
<polygon points="387.63,180.84 391.33,187.24 383.93,187.24" fill="none" stroke="#a9062c" stroke-width="0.95" stroke-linejoin="miter"/>
<polygon points="388.35,174.02 392.05,180.42 384.65,180.42" fill="none" stroke="#a9062c" stroke-width="0.95" stroke-linejoin="miter"/>
<polygon points="386.35,185.24 390.05,191.64 382.65,191.64" fill="none" stroke="#a9062c" stroke-width="0.95" stroke-linejoin="miter"/>
<polygon points="387.93,175.96 391.63,182.36 384.23,182.36" fill="none" stroke="#a9062c" stroke-width="0.95" stroke-linejoin="miter"/>
<polygon points="388.65,173.43 392.35,179.83 384.95,179.83" fill="none" stroke="#a9062c" stroke-width="0.95" stroke-linejoin="miter"/>
<polygon points="389.81,173.74 393.51,180.14 386.11,180.14" fill="none" stroke="#a9062c" stroke-width="0.95" stroke-linejoin="miter"/>
<polygon points="389.9,178.2 393.6,184.6 386.2,184.6" fill="none" stroke="#a9062c" stroke-width="0.95" stroke-linejoin="miter"/>
<polygon points="388.74,172.81 392.44,179.21 385.04,179.21" fill="none" stroke="#a9062c" stroke-width="0.95" stroke-linejoin="miter"/>
<polygon points="391.12,179.88 394.82,186.28 387.42,186.28" fill="none" stroke="#a9062c" stroke-width="0.95" stroke-linejoin="miter"/>
<polygon points="388.69,174.21 392.39,180.61 384.99,180.61" fill="none" stroke="#a9062c" stroke-width="0.95" stroke-linejoin="miter"/>
<polygon points="390.96,183.82 394.66,190.22 387.26,190.22" fill="none" stroke="#a9062c" stroke-width="0.95" stroke-linejoin="miter"/>
<polygon points="388.89,173.85 392.59,180.25 385.19,180.25" fill="none" stroke="#a9062c" stroke-width="0.95" stroke-linejoin="miter"/>
<polygon points="388.07,182.34 391.77,188.74 384.37,188.74" fill="none" stroke="#a9062c" stroke-width="0.95" stroke-linejoin="miter"/>
<polygon points="390,180.94 393.7,187.34 386.3,187.34" fill="none" stroke="#a9062c" stroke-width="0.95" stroke-linejoin="miter"/>
<polygon points="389.04,185.69 392.74,192.09 385.34,192.09" fill="none" stroke="#a9062c" stroke-width="0.95" stroke-linejoin="miter"/>
<polygon points="387.7,181.06 391.4,187.46 384,187.46" fill="none" stroke="#a9062c" stroke-width="0.95" stroke-linejoin="miter"/>
<polygon points="387.54,181.87 391.24,188.27 383.84,188.27" fill="none" stroke="#a9062c" stroke-width="0.95" stroke-linejoin="miter"/>
<polygon points="388.03,178.18 391.73,184.58 384.33,184.58" fill="none" stroke="#a9062c" stroke-width="0.95" stroke-linejoin="miter"/>
<polygon points="387.57,175.12 391.27,181.52 383.87,181.52" fill="none" stroke="#a9062c" stroke-width="0.95" stroke-linejoin="miter"/>
<polygon points="388.91,173.82 392.61,180.22 385.21,180.22" fill="none" stroke="#a9062c" stroke-width="0.95" stroke-linejoin="miter"/>
<polygon points="387.55,174.24 391.25,180.64 383.85,180.64" fill="none" stroke="#a9062c" stroke-width="0.95" stroke-linejoin="miter"/>
<polygon points="387.34,183.01 391.04,189.41 383.64,189.41" fill="none" stroke="#a9062c" stroke-width="0.95" stroke-linejoin="miter"/>
<polygon points="389.3,185.12 393,191.52 385.6,191.52" fill="none" stroke="#a9062c" stroke-width="0.95" stroke-linejoin="miter"/>
<polygon points="390.4,176.42 394.1,182.82 386.7,182.82" fill="none" stroke="#a9062c" stroke-width="0.95" stroke-linejoin="miter"/>
<polygon points="387.77,184.5 391.47,190.9 384.07,190.9" fill="none" stroke="#a9062c" stroke-width="0.95" stroke-linejoin="miter"/>
<polygon points="388.99,172.23 392.69,178.63 385.29,178.63" fill="none" stroke="#a9062c" stroke-width="0.95" stroke-linejoin="miter"/>
<polygon points="389.52,183.63 393.22,190.03 385.82,190.03" fill="none" stroke="#a9062c" stroke-width="0.95" stroke-linejoin="miter"/>
<polygon points="388.2,182.7 391.9,189.1 384.5,189.1" fill="none" stroke="#a9062c" stroke-width="0.95" stroke-linejoin="miter"/>
<polygon points="387.17,180.06 390.87,186.46 383.47,186.46" fill="none" stroke="#a9062c" stroke-width="0.95" stroke-linejoin="miter"/>
<polygon points="388.26,176.7 391.96,183.1 384.56,183.1" fill="none" stroke="#a9062c" stroke-width="0.95" stroke-linejoin="miter"/>
<polygon points="388.37,176.35 392.07,182.75 384.67,182.75" fill="none" stroke="#a9062c" stroke-width="0.95" stroke-linejoin="miter"/>
<polygon points="386.56,183.07 390.26,189.47 382.86,189.47" fill="none" stroke="#a9062c" stroke-width="0.95" stroke-linejoin="miter"/>
<polygon points="388.25,173.49 391.95,179.89 384.55,179.89" fill="none" stroke="#a9062c" stroke-width="0.95" stroke-linejoin="miter"/>
<polygon points="388.9,185.67 392.6,192.07 385.2,192.07" fill="none" stroke="#a9062c" stroke-width="0.95" stroke-linejoin="miter"/>
<polygon points="388.99,171.07 392.69,177.47 385.29,177.47" fill="none" stroke="#a9062c" stroke-width="0.95" stroke-linejoin="miter"/>
<polygon points="390.78,184.12 394.48,190.52 387.08,190.52" fill="none" stroke="#a9062c" stroke-width="0.95" stroke-linejoin="miter"/>
<polygon points="389.73,175.94 393.43,182.34 386.03,182.34" fill="none" stroke="#a9062c" stroke-width="0.95" stroke-linejoin="miter"/>
<polygon points="387.58,175.09 391.28,181.49 383.88,181.49" fill="none" stroke="#a9062c" stroke-width="0.95" stroke-linejoin="miter"/>
<polygon points="390.9,183.99 394.6,190.39 387.2,190.39" fill="none" stroke="#a9062c" stroke-width="0.95" stroke-linejoin="miter"/>
<polygon points="389.67,173.59 393.37,179.99 385.97,179.99" fill="none" stroke="#a9062c" stroke-width="0.95" stroke-linejoin="miter"/>
<polygon points="388.75,170.62 392.45,177.02 385.05,177.02" fill="none" stroke="#a9062c" stroke-width="0.95" stroke-linejoin="miter"/>
<polygon points="388.75,170.44 392.45,176.84 385.05,176.84" fill="none" stroke="#a9062c" stroke-width="0.95" stroke-linejoin="miter"/>
<polygon points="389.18,172.83 392.88,179.23 385.48,179.23" fill="none" stroke="#a9062c" stroke-width="0.95" stroke-linejoin="miter"/>
<polygon points="387.79,174.95 391.49,181.35 384.09,181.35" fill="none" stroke="#a9062c" stroke-width="0.95" stroke-linejoin="miter"/>
<polygon points="388.42,173.16 392.12,179.56 384.72,179.56" fill="none" stroke="#a9062c" stroke-width="0.95" stroke-linejoin="miter"/>
<polygon points="389.48,183.94 393.18,190.34 385.78,190.34" fill="none" stroke="#a9062c" stroke-width="0.95" stroke-linejoin="miter"/>
<polygon points="389.01,171.86 392.71,178.26 385.31,178.26" fill="none" stroke="#a9062c" stroke-width="0.95" stroke-linejoin="miter"/>
<polygon points="388.49,178.76 392.19,185.16 384.79,185.16" fill="none" stroke="#a9062c" stroke-width="0.95" stroke-linejoin="miter"/>
<polygon points="389.69,178.62 393.39,185.02 385.99,185.02" fill="none" stroke="#a9062c" stroke-width="0.95" stroke-linejoin="miter"/>
<polygon points="388.84,182.96 392.54,189.36 385.14,189.36" fill="none" stroke="#a9062c" stroke-width="0.95" stroke-linejoin="miter"/>
<polygon points="388.57,180.34 392.27,186.74 384.87,186.74" fill="none" stroke="#a9062c" stroke-width="0.95" stroke-linejoin="miter"/>
<polygon points="388.01,180.31 391.71,186.71 384.31,186.71" fill="none" stroke="#a9062c" stroke-width="0.95" stroke-linejoin="miter"/>
<polygon points="388.88,176.83 392.58,183.23 385.18,183.23" fill="none" stroke="#a9062c" stroke-width="0.95" stroke-linejoin="miter"/>
<polygon points="387.21,181.6 390.91,188 383.51,188" fill="none" stroke="#a9062c" stroke-width="0.95" stroke-linejoin="miter"/>
<polygon points="388.76,184.94 392.46,191.34 385.06,191.34" fill="none" stroke="#a9062c" stroke-width="0.95" stroke-linejoin="miter"/>
<polygon points="390.04,183.83 393.74,190.23 386.34,190.23" fill="none" stroke="#a9062c" stroke-width="0.95" stroke-linejoin="miter"/>
<polygon points="389.67,185.44 393.37,191.84 385.97,191.84" fill="none" stroke="#a9062c" stroke-width="0.95" stroke-linejoin="miter"/>
<polygon points="388.36,177.02 392.06,183.42 384.66,183.42" fill="none" stroke="#a9062c" stroke-width="0.95" stroke-linejoin="miter"/>
<polygon points="390.52,179.89 394.22,186.29 386.82,186.29" fill="none" stroke="#a9062c" stroke-width="0.95" stroke-linejoin="miter"/>
<line x1="75" y1="253" x2="75" y2="268" stroke="#262626" stroke-width="1.1"/>
<line x1="75" y1="284.6" x2="75" y2="296.6" stroke="#262626" stroke-width="1.1"/>
<rect x="63.2" y="268" width="23.4" height="16.6" fill="#afbd86"/>
<line x1="63.2" y1="279.3" x2="86.6" y2="279.3" stroke="#161616" stroke-width="1.8"/>
<circle cx="75.3" cy="253" r="2.9" fill="none" stroke="#24418a" stroke-width="1.0"/>
<circle cx="73.4" cy="265.1" r="2.9" fill="none" stroke="#a9062c" stroke-width="1.0"/>
<circle cx="76.7" cy="265.1" r="2.9" fill="none" stroke="#a9062c" stroke-width="1.0"/>
<circle cx="75.7" cy="274.8" r="2.9" fill="none" stroke="#24418a" stroke-width="1.0"/>
<circle cx="78.2" cy="274.8" r="2.9" fill="none" stroke="#24418a" stroke-width="1.0"/>
<circle cx="73.4" cy="284.3" r="2.9" fill="none" stroke="#24418a" stroke-width="1.0"/>
<circle cx="77.5" cy="284" r="2.9" fill="none" stroke="#a9062c" stroke-width="1.0"/>
<circle cx="78.6" cy="285.7" r="2.9" fill="none" stroke="#24418a" stroke-width="1.0"/>
<circle cx="74.5" cy="295.2" r="2.9" fill="none" stroke="#a9062c" stroke-width="1.0"/>
<circle cx="76.3" cy="296.6" r="2.9" fill="none" stroke="#24418a" stroke-width="1.0"/>
<line x1="100.2" y1="287.2" x2="100.2" y2="300" stroke="#262626" stroke-width="1.1"/>
<line x1="100.2" y1="321.4" x2="100.2" y2="336.6" stroke="#262626" stroke-width="1.1"/>
<rect x="89.1" y="300" width="23" height="21.4" fill="#c6c4cb"/>
<line x1="89.1" y1="317.3" x2="112.1" y2="317.3" stroke="#161616" stroke-width="1.8"/>
<polygon points="98.5,284.13 102.2,290.53 94.8,290.53" fill="none" stroke="#24418a" stroke-width="0.95" stroke-linejoin="miter"/>
<polygon points="97.1,291.13 100.8,297.53 93.4,297.53" fill="none" stroke="#a9062c" stroke-width="0.95" stroke-linejoin="miter"/>
<polygon points="100.4,291.13 104.1,297.53 96.7,297.53" fill="none" stroke="#a9062c" stroke-width="0.95" stroke-linejoin="miter"/>
<polygon points="97.5,312.43 101.2,318.83 93.8,318.83" fill="none" stroke="#24418a" stroke-width="0.95" stroke-linejoin="miter"/>
<polygon points="102.2,311.73 105.9,318.13 98.5,318.13" fill="none" stroke="#24418a" stroke-width="0.95" stroke-linejoin="miter"/>
<polygon points="95.6,317.53 99.3,323.93 91.9,323.93" fill="none" stroke="#24418a" stroke-width="0.95" stroke-linejoin="miter"/>
<polygon points="100,316.83 103.7,323.23 96.3,323.23" fill="none" stroke="#a9062c" stroke-width="0.95" stroke-linejoin="miter"/>
<polygon points="102.9,318.33 106.6,324.73 99.2,324.73" fill="none" stroke="#24418a" stroke-width="0.95" stroke-linejoin="miter"/>
<polygon points="98.1,322.63 101.8,329.03 94.4,329.03" fill="none" stroke="#a9062c" stroke-width="0.95" stroke-linejoin="miter"/>
<polygon points="99.6,333.53 103.3,339.93 95.9,339.93" fill="none" stroke="#24418a" stroke-width="0.95" stroke-linejoin="miter"/>
<line x1="142.9" y1="303.3" x2="142.9" y2="313.8" stroke="#262626" stroke-width="1.1"/>
<line x1="142.9" y1="335.3" x2="142.9" y2="346.6" stroke="#262626" stroke-width="1.1"/>
<rect x="130.8" y="313.8" width="22.8" height="21.5" fill="#afbd86"/>
<line x1="130.8" y1="324.5" x2="153.6" y2="324.5" stroke="#161616" stroke-width="1.8"/>
<circle cx="145.6" cy="303.3" r="2.9" fill="none" stroke="#24418a" stroke-width="1.0"/>
<circle cx="141.5" cy="324.5" r="2.9" fill="none" stroke="#24418a" stroke-width="1.0"/>
<circle cx="143.7" cy="346.6" r="2.9" fill="none" stroke="#24418a" stroke-width="1.0"/>
<line x1="167.4" y1="342.6" x2="167.4" y2="346.6" stroke="#262626" stroke-width="1.1"/>
<line x1="167.4" y1="358.7" x2="167.4" y2="367.6" stroke="#262626" stroke-width="1.1"/>
<rect x="156.9" y="346.6" width="22.6" height="12.1" fill="#c6c4cb"/>
<line x1="156.9" y1="349.3" x2="179.5" y2="349.3" stroke="#161616" stroke-width="1.8"/>
<polygon points="168.4,339.53 172.1,345.93 164.7,345.93" fill="none" stroke="#24418a" stroke-width="0.95" stroke-linejoin="miter"/>
<polygon points="165.2,345.73 168.9,352.13 161.5,352.13" fill="none" stroke="#24418a" stroke-width="0.95" stroke-linejoin="miter"/>
<polygon points="166.5,364.53 170.2,370.93 162.8,370.93" fill="none" stroke="#24418a" stroke-width="0.95" stroke-linejoin="miter"/>
<line x1="193.4" y1="305.7" x2="193.4" y2="328" stroke="#262626" stroke-width="1.1"/>
<rect x="182.4" y="328" width="22.9" height="24" fill="#afbd86"/>
<line x1="182.4" y1="350.1" x2="205.3" y2="350.1" stroke="#161616" stroke-width="1.8"/>
<circle cx="196.1" cy="305.7" r="2.9" fill="none" stroke="#24418a" stroke-width="1.0"/>
<circle cx="192.6" cy="350.1" r="2.9" fill="none" stroke="#24418a" stroke-width="1.0"/>
<circle cx="195.3" cy="354.7" r="2.9" fill="none" stroke="#24418a" stroke-width="1.0"/>
<line x1="219.5" y1="335.8" x2="219.5" y2="352.3" stroke="#262626" stroke-width="1.1"/>
<rect x="208.2" y="352.3" width="22.6" height="15.8" fill="#c6c4cb"/>
<line x1="208.2" y1="367" x2="230.8" y2="367" stroke="#161616" stroke-width="1.8"/>
<polygon points="219.5,332.73 223.2,339.13 215.8,339.13" fill="none" stroke="#24418a" stroke-width="0.95" stroke-linejoin="miter"/>
<polygon points="216.9,364.53 220.6,370.93 213.2,370.93" fill="none" stroke="#24418a" stroke-width="0.95" stroke-linejoin="miter"/>
<polygon points="218.3,364.53 222,370.93 214.6,370.93" fill="none" stroke="#24418a" stroke-width="0.95" stroke-linejoin="miter"/>
<line x1="245.6" y1="333.4" x2="245.6" y2="345.5" stroke="#262626" stroke-width="1.1"/>
<line x1="245.6" y1="362.2" x2="245.6" y2="367.6" stroke="#262626" stroke-width="1.1"/>
<rect x="233.8" y="345.5" width="22.8" height="16.7" fill="#afbd86"/>
<line x1="233.8" y1="357.1" x2="256.6" y2="357.1" stroke="#161616" stroke-width="1.8"/>
<circle cx="248.3" cy="333.4" r="2.9" fill="none" stroke="#24418a" stroke-width="1.0"/>
<circle cx="244.8" cy="357.1" r="2.9" fill="none" stroke="#24418a" stroke-width="1.0"/>
<circle cx="246.7" cy="367.6" r="2.9" fill="none" stroke="#24418a" stroke-width="1.0"/>
<line x1="271.2" y1="352.3" x2="271.2" y2="362.2" stroke="#262626" stroke-width="1.1"/>
<line x1="271.2" y1="376.2" x2="271.2" y2="380.5" stroke="#262626" stroke-width="1.1"/>
<rect x="259.6" y="362.2" width="22.9" height="14" fill="#c6c4cb"/>
<line x1="259.6" y1="371.4" x2="282.5" y2="371.4" stroke="#161616" stroke-width="1.8"/>
<polygon points="271.7,349.23 275.4,355.63 268,355.63" fill="none" stroke="#24418a" stroke-width="0.95" stroke-linejoin="miter"/>
<polygon points="267.7,367.23 271.4,373.63 264,373.63" fill="none" stroke="#24418a" stroke-width="0.95" stroke-linejoin="miter"/>
<polygon points="269.8,377.43 273.5,383.83 266.1,383.83" fill="none" stroke="#24418a" stroke-width="0.95" stroke-linejoin="miter"/>
<line x1="296.7" y1="294.9" x2="296.7" y2="310.6" stroke="#262626" stroke-width="1.1"/>
<line x1="296.7" y1="328.6" x2="296.7" y2="332.6" stroke="#262626" stroke-width="1.1"/>
<rect x="285.4" y="310.6" width="22.9" height="18" fill="#afbd86"/>
<line x1="285.4" y1="325.4" x2="308.3" y2="325.4" stroke="#161616" stroke-width="1.8"/>
<circle cx="299.4" cy="294.9" r="2.9" fill="none" stroke="#24418a" stroke-width="1.0"/>
<circle cx="296.5" cy="325.4" r="2.9" fill="none" stroke="#24418a" stroke-width="1.0"/>
<circle cx="298.1" cy="332.6" r="2.9" fill="none" stroke="#24418a" stroke-width="1.0"/>
<line x1="322.8" y1="322.4" x2="322.8" y2="338" stroke="#262626" stroke-width="1.1"/>
<line x1="322.8" y1="356.3" x2="322.8" y2="358.7" stroke="#262626" stroke-width="1.1"/>
<rect x="311.2" y="338" width="22.9" height="18.3" fill="#c6c4cb"/>
<line x1="311.2" y1="352.8" x2="334.1" y2="352.8" stroke="#161616" stroke-width="1.8"/>
<polygon points="322.8,319.33 326.5,325.73 319.1,325.73" fill="none" stroke="#24418a" stroke-width="0.95" stroke-linejoin="miter"/>
<polygon points="319.3,348.93 323,355.33 315.6,355.33" fill="none" stroke="#24418a" stroke-width="0.95" stroke-linejoin="miter"/>
<polygon points="321.5,355.63 325.2,362.03 317.8,362.03" fill="none" stroke="#24418a" stroke-width="0.95" stroke-linejoin="miter"/>
<rect x="352.4" y="351.5" width="23.5" height="13.2" fill="#afbd86"/>
<line x1="352.4" y1="358" x2="375.9" y2="358" stroke="#161616" stroke-width="1.8"/>
<circle cx="366.32" cy="375.41" r="2.9" fill="none" stroke="#24418a" stroke-width="1.0"/>
<circle cx="368.09" cy="370.13" r="2.9" fill="none" stroke="#24418a" stroke-width="1.0"/>
<circle cx="366.72" cy="350.87" r="2.9" fill="none" stroke="#24418a" stroke-width="1.0"/>
<circle cx="367.15" cy="375.39" r="2.9" fill="none" stroke="#24418a" stroke-width="1.0"/>
<circle cx="362.64" cy="362.77" r="2.9" fill="none" stroke="#24418a" stroke-width="1.0"/>
<circle cx="370.14" cy="356.64" r="2.9" fill="none" stroke="#24418a" stroke-width="1.0"/>
<circle cx="364.33" cy="344.92" r="2.9" fill="none" stroke="#24418a" stroke-width="1.0"/>
<circle cx="365.32" cy="377.1" r="2.9" fill="none" stroke="#24418a" stroke-width="1.0"/>
<circle cx="363.97" cy="348.93" r="2.9" fill="none" stroke="#24418a" stroke-width="1.0"/>
<circle cx="364.78" cy="375.53" r="2.9" fill="none" stroke="#24418a" stroke-width="1.0"/>
<circle cx="366.7" cy="357.24" r="2.9" fill="none" stroke="#24418a" stroke-width="1.0"/>
<circle cx="365.45" cy="371.61" r="2.9" fill="none" stroke="#24418a" stroke-width="1.0"/>
<circle cx="365.92" cy="344.1" r="2.9" fill="none" stroke="#24418a" stroke-width="1.0"/>
<circle cx="363.76" cy="342.33" r="2.9" fill="none" stroke="#24418a" stroke-width="1.0"/>
<circle cx="367.08" cy="348.23" r="2.9" fill="none" stroke="#24418a" stroke-width="1.0"/>
<circle cx="367.27" cy="351.77" r="2.9" fill="none" stroke="#24418a" stroke-width="1.0"/>
<circle cx="362.52" cy="347.21" r="2.9" fill="none" stroke="#24418a" stroke-width="1.0"/>
<circle cx="366.28" cy="341.89" r="2.9" fill="none" stroke="#24418a" stroke-width="1.0"/>
<circle cx="364.07" cy="373.65" r="2.9" fill="none" stroke="#24418a" stroke-width="1.0"/>
<circle cx="361.24" cy="350.03" r="2.9" fill="none" stroke="#24418a" stroke-width="1.0"/>
<circle cx="363.93" cy="365.5" r="2.9" fill="none" stroke="#24418a" stroke-width="1.0"/>
<circle cx="366.6" cy="346.2" r="2.9" fill="none" stroke="#24418a" stroke-width="1.0"/>
<circle cx="365.06" cy="363.79" r="2.9" fill="none" stroke="#24418a" stroke-width="1.0"/>
<circle cx="366.56" cy="346.81" r="2.9" fill="none" stroke="#24418a" stroke-width="1.0"/>
<circle cx="364.91" cy="362.12" r="2.9" fill="none" stroke="#24418a" stroke-width="1.0"/>
<circle cx="368.85" cy="347.26" r="2.9" fill="none" stroke="#24418a" stroke-width="1.0"/>
<circle cx="366.46" cy="373.8" r="2.9" fill="none" stroke="#24418a" stroke-width="1.0"/>
<circle cx="365.73" cy="378.85" r="2.9" fill="none" stroke="#24418a" stroke-width="1.0"/>
<circle cx="361.89" cy="354.1" r="2.9" fill="none" stroke="#24418a" stroke-width="1.0"/>
<circle cx="365.66" cy="364.09" r="2.9" fill="none" stroke="#24418a" stroke-width="1.0"/>
<circle cx="370.13" cy="357.58" r="2.9" fill="none" stroke="#24418a" stroke-width="1.0"/>
<circle cx="363.43" cy="372.9" r="2.9" fill="none" stroke="#24418a" stroke-width="1.0"/>
<circle cx="363.14" cy="374.6" r="2.9" fill="none" stroke="#24418a" stroke-width="1.0"/>
<circle cx="364.06" cy="365.76" r="2.9" fill="none" stroke="#24418a" stroke-width="1.0"/>
<circle cx="368.64" cy="368.73" r="2.9" fill="none" stroke="#24418a" stroke-width="1.0"/>
<circle cx="367.89" cy="361.15" r="2.9" fill="none" stroke="#24418a" stroke-width="1.0"/>
<circle cx="366.32" cy="343.07" r="2.9" fill="none" stroke="#24418a" stroke-width="1.0"/>
<circle cx="365.19" cy="345.47" r="2.9" fill="none" stroke="#24418a" stroke-width="1.0"/>
<circle cx="361.49" cy="353.67" r="2.9" fill="none" stroke="#24418a" stroke-width="1.0"/>
<circle cx="362.78" cy="369.4" r="2.9" fill="none" stroke="#24418a" stroke-width="1.0"/>
<circle cx="361.78" cy="350.78" r="2.9" fill="none" stroke="#24418a" stroke-width="1.0"/>
<circle cx="363.97" cy="366.17" r="2.9" fill="none" stroke="#24418a" stroke-width="1.0"/>
<circle cx="363.33" cy="342.68" r="2.9" fill="none" stroke="#24418a" stroke-width="1.0"/>
<circle cx="365.56" cy="349.35" r="2.9" fill="none" stroke="#24418a" stroke-width="1.0"/>
<circle cx="364.06" cy="341.46" r="2.9" fill="none" stroke="#24418a" stroke-width="1.0"/>
<circle cx="365.71" cy="366.33" r="2.9" fill="none" stroke="#24418a" stroke-width="1.0"/>
<circle cx="364.1" cy="346.13" r="2.9" fill="none" stroke="#24418a" stroke-width="1.0"/>
<circle cx="363.88" cy="345.79" r="2.9" fill="none" stroke="#24418a" stroke-width="1.0"/>
<circle cx="362.85" cy="355.75" r="2.9" fill="none" stroke="#24418a" stroke-width="1.0"/>
<circle cx="363.25" cy="348.51" r="2.9" fill="none" stroke="#24418a" stroke-width="1.0"/>
<circle cx="366.02" cy="352.45" r="2.9" fill="none" stroke="#24418a" stroke-width="1.0"/>
<circle cx="366.2" cy="374.67" r="2.9" fill="none" stroke="#24418a" stroke-width="1.0"/>
<circle cx="360.83" cy="358.04" r="2.9" fill="none" stroke="#24418a" stroke-width="1.0"/>
<circle cx="366.59" cy="348.17" r="2.9" fill="none" stroke="#24418a" stroke-width="1.0"/>
<circle cx="368.76" cy="356.39" r="2.9" fill="none" stroke="#24418a" stroke-width="1.0"/>
<circle cx="364.61" cy="375.54" r="2.9" fill="none" stroke="#24418a" stroke-width="1.0"/>
<circle cx="363.6" cy="354.85" r="2.9" fill="none" stroke="#24418a" stroke-width="1.0"/>
<circle cx="362.47" cy="366.71" r="2.9" fill="none" stroke="#24418a" stroke-width="1.0"/>
<circle cx="368.99" cy="351.5" r="2.9" fill="none" stroke="#24418a" stroke-width="1.0"/>
<circle cx="369.92" cy="355.18" r="2.9" fill="none" stroke="#24418a" stroke-width="1.0"/>
<circle cx="366.68" cy="347.27" r="2.9" fill="none" stroke="#a9062c" stroke-width="1.0"/>
<circle cx="365.37" cy="365.13" r="2.9" fill="none" stroke="#a9062c" stroke-width="1.0"/>
<circle cx="367.51" cy="349.21" r="2.9" fill="none" stroke="#a9062c" stroke-width="1.0"/>
<circle cx="365.55" cy="371.7" r="2.9" fill="none" stroke="#a9062c" stroke-width="1.0"/>
<circle cx="363.46" cy="360.19" r="2.9" fill="none" stroke="#a9062c" stroke-width="1.0"/>
<circle cx="365.39" cy="341.12" r="2.9" fill="none" stroke="#a9062c" stroke-width="1.0"/>
<circle cx="362.52" cy="363.24" r="2.9" fill="none" stroke="#a9062c" stroke-width="1.0"/>
<circle cx="364.32" cy="371.16" r="2.9" fill="none" stroke="#a9062c" stroke-width="1.0"/>
<circle cx="362.26" cy="349.84" r="2.9" fill="none" stroke="#a9062c" stroke-width="1.0"/>
<circle cx="365.8" cy="378.91" r="2.9" fill="none" stroke="#a9062c" stroke-width="1.0"/>
<circle cx="365.88" cy="374.25" r="2.9" fill="none" stroke="#a9062c" stroke-width="1.0"/>
<circle cx="365.05" cy="342.29" r="2.9" fill="none" stroke="#a9062c" stroke-width="1.0"/>
<circle cx="362.5" cy="359.91" r="2.9" fill="none" stroke="#a9062c" stroke-width="1.0"/>
<circle cx="365.23" cy="377.17" r="2.9" fill="none" stroke="#a9062c" stroke-width="1.0"/>
<circle cx="367.43" cy="346.88" r="2.9" fill="none" stroke="#a9062c" stroke-width="1.0"/>
<circle cx="367.89" cy="345.75" r="2.9" fill="none" stroke="#a9062c" stroke-width="1.0"/>
<circle cx="365.91" cy="358.22" r="2.9" fill="none" stroke="#a9062c" stroke-width="1.0"/>
<circle cx="365.38" cy="354.03" r="2.9" fill="none" stroke="#a9062c" stroke-width="1.0"/>
<circle cx="362.49" cy="348.1" r="2.9" fill="none" stroke="#a9062c" stroke-width="1.0"/>
<circle cx="364.6" cy="373.9" r="2.9" fill="none" stroke="#a9062c" stroke-width="1.0"/>
<circle cx="364.15" cy="370.65" r="2.9" fill="none" stroke="#a9062c" stroke-width="1.0"/>
<circle cx="366.18" cy="377.81" r="2.9" fill="none" stroke="#a9062c" stroke-width="1.0"/>
<circle cx="366.81" cy="369.68" r="2.9" fill="none" stroke="#a9062c" stroke-width="1.0"/>
<circle cx="367.1" cy="363.07" r="2.9" fill="none" stroke="#a9062c" stroke-width="1.0"/>
<circle cx="365.37" cy="345.65" r="2.9" fill="none" stroke="#a9062c" stroke-width="1.0"/>
<circle cx="364.32" cy="372.43" r="2.9" fill="none" stroke="#a9062c" stroke-width="1.0"/>
<circle cx="366.47" cy="376.08" r="2.9" fill="none" stroke="#a9062c" stroke-width="1.0"/>
<circle cx="364.45" cy="356.56" r="2.9" fill="none" stroke="#a9062c" stroke-width="1.0"/>
<circle cx="364.61" cy="358.15" r="2.9" fill="none" stroke="#a9062c" stroke-width="1.0"/>
<circle cx="365.35" cy="378.8" r="2.9" fill="none" stroke="#a9062c" stroke-width="1.0"/>
<circle cx="364.52" cy="342.02" r="2.9" fill="none" stroke="#a9062c" stroke-width="1.0"/>
<circle cx="368.21" cy="368.29" r="2.9" fill="none" stroke="#a9062c" stroke-width="1.0"/>
<circle cx="365.43" cy="359.85" r="2.9" fill="none" stroke="#a9062c" stroke-width="1.0"/>
<circle cx="367.3" cy="361.92" r="2.9" fill="none" stroke="#a9062c" stroke-width="1.0"/>
<circle cx="366.26" cy="349.44" r="2.9" fill="none" stroke="#a9062c" stroke-width="1.0"/>
<circle cx="366.38" cy="362.15" r="2.9" fill="none" stroke="#a9062c" stroke-width="1.0"/>
<circle cx="363.38" cy="347.87" r="2.9" fill="none" stroke="#a9062c" stroke-width="1.0"/>
<circle cx="368.83" cy="354.23" r="2.9" fill="none" stroke="#a9062c" stroke-width="1.0"/>
<circle cx="366.26" cy="354.17" r="2.9" fill="none" stroke="#a9062c" stroke-width="1.0"/>
<circle cx="362.41" cy="352.65" r="2.9" fill="none" stroke="#a9062c" stroke-width="1.0"/>
<circle cx="366.65" cy="343.49" r="2.9" fill="none" stroke="#a9062c" stroke-width="1.0"/>
<circle cx="364.92" cy="370.53" r="2.9" fill="none" stroke="#a9062c" stroke-width="1.0"/>
<circle cx="366.54" cy="366.97" r="2.9" fill="none" stroke="#a9062c" stroke-width="1.0"/>
<circle cx="366.84" cy="375.15" r="2.9" fill="none" stroke="#a9062c" stroke-width="1.0"/>
<circle cx="369.32" cy="356.47" r="2.9" fill="none" stroke="#a9062c" stroke-width="1.0"/>
<circle cx="365.67" cy="377.53" r="2.9" fill="none" stroke="#a9062c" stroke-width="1.0"/>
<circle cx="365.47" cy="374.56" r="2.9" fill="none" stroke="#a9062c" stroke-width="1.0"/>
<circle cx="363.53" cy="355.27" r="2.9" fill="none" stroke="#a9062c" stroke-width="1.0"/>
<circle cx="364.4" cy="374.29" r="2.9" fill="none" stroke="#a9062c" stroke-width="1.0"/>
<circle cx="366.66" cy="343.63" r="2.9" fill="none" stroke="#a9062c" stroke-width="1.0"/>
<circle cx="365.42" cy="370.41" r="2.9" fill="none" stroke="#a9062c" stroke-width="1.0"/>
<circle cx="363.79" cy="372.81" r="2.9" fill="none" stroke="#a9062c" stroke-width="1.0"/>
<circle cx="363.94" cy="350.8" r="2.9" fill="none" stroke="#a9062c" stroke-width="1.0"/>
<circle cx="362.93" cy="356.94" r="2.9" fill="none" stroke="#a9062c" stroke-width="1.0"/>
<circle cx="364.89" cy="343.64" r="2.9" fill="none" stroke="#a9062c" stroke-width="1.0"/>
<circle cx="366.91" cy="375.17" r="2.9" fill="none" stroke="#a9062c" stroke-width="1.0"/>
<circle cx="365.39" cy="369.34" r="2.9" fill="none" stroke="#a9062c" stroke-width="1.0"/>
<circle cx="368.86" cy="350.58" r="2.9" fill="none" stroke="#a9062c" stroke-width="1.0"/>
<circle cx="367.22" cy="360.97" r="2.9" fill="none" stroke="#a9062c" stroke-width="1.0"/>
<circle cx="364.79" cy="342.08" r="2.9" fill="none" stroke="#a9062c" stroke-width="1.0"/>
<circle cx="366.62" cy="372.85" r="2.9" fill="none" stroke="#a9062c" stroke-width="1.0"/>
<circle cx="365.82" cy="374.5" r="2.9" fill="none" stroke="#a9062c" stroke-width="1.0"/>
<circle cx="366.13" cy="357.19" r="2.9" fill="none" stroke="#a9062c" stroke-width="1.0"/>
<circle cx="364.8" cy="373.27" r="2.9" fill="none" stroke="#a9062c" stroke-width="1.0"/>
<circle cx="363.83" cy="361.3" r="2.9" fill="none" stroke="#a9062c" stroke-width="1.0"/>
<circle cx="363.16" cy="370.19" r="2.9" fill="none" stroke="#a9062c" stroke-width="1.0"/>
<circle cx="368.16" cy="367.04" r="2.9" fill="none" stroke="#a9062c" stroke-width="1.0"/>
<circle cx="365.71" cy="341.89" r="2.9" fill="none" stroke="#a9062c" stroke-width="1.0"/>
<circle cx="367.71" cy="365.47" r="2.9" fill="none" stroke="#a9062c" stroke-width="1.0"/>
<circle cx="363.82" cy="363.2" r="2.9" fill="none" stroke="#a9062c" stroke-width="1.0"/>
<circle cx="369.08" cy="356.41" r="2.9" fill="none" stroke="#a9062c" stroke-width="1.0"/>
<circle cx="364.47" cy="375.41" r="2.9" fill="none" stroke="#a9062c" stroke-width="1.0"/>
<circle cx="363.63" cy="344.6" r="2.9" fill="none" stroke="#a9062c" stroke-width="1.0"/>
<circle cx="365.38" cy="341.96" r="2.9" fill="none" stroke="#a9062c" stroke-width="1.0"/>
<circle cx="367.67" cy="346.35" r="2.9" fill="none" stroke="#a9062c" stroke-width="1.0"/>
<circle cx="363.19" cy="365.9" r="2.9" fill="none" stroke="#a9062c" stroke-width="1.0"/>
<circle cx="364.2" cy="361.47" r="2.9" fill="none" stroke="#a9062c" stroke-width="1.0"/>
<circle cx="363.31" cy="359.77" r="2.9" fill="none" stroke="#a9062c" stroke-width="1.0"/>
<circle cx="363.53" cy="347.31" r="2.9" fill="none" stroke="#a9062c" stroke-width="1.0"/>
<circle cx="367.14" cy="355.36" r="2.9" fill="none" stroke="#a9062c" stroke-width="1.0"/>
<circle cx="362.2" cy="361.9" r="2.9" fill="none" stroke="#a9062c" stroke-width="1.0"/>
<circle cx="367.59" cy="368.01" r="2.9" fill="none" stroke="#a9062c" stroke-width="1.0"/>
<circle cx="366.87" cy="370.42" r="2.9" fill="none" stroke="#a9062c" stroke-width="1.0"/>
<circle cx="365.46" cy="341.3" r="2.9" fill="none" stroke="#a9062c" stroke-width="1.0"/>
<circle cx="366.45" cy="343.41" r="2.9" fill="none" stroke="#a9062c" stroke-width="1.0"/>
<circle cx="366.84" cy="347.66" r="2.9" fill="none" stroke="#a9062c" stroke-width="1.0"/>
<circle cx="366.94" cy="350.61" r="2.9" fill="none" stroke="#a9062c" stroke-width="1.0"/>
<circle cx="361.93" cy="352.92" r="2.9" fill="none" stroke="#a9062c" stroke-width="1.0"/>
<circle cx="364.01" cy="355.78" r="2.9" fill="none" stroke="#a9062c" stroke-width="1.0"/>
<circle cx="364.91" cy="375.23" r="2.9" fill="none" stroke="#a9062c" stroke-width="1.0"/>
<circle cx="365.88" cy="360.12" r="2.9" fill="none" stroke="#a9062c" stroke-width="1.0"/>
<circle cx="364.66" cy="377.03" r="2.9" fill="none" stroke="#a9062c" stroke-width="1.0"/>
<circle cx="365.56" cy="363.84" r="2.9" fill="none" stroke="#a9062c" stroke-width="1.0"/>
<circle cx="367.96" cy="368.91" r="2.9" fill="none" stroke="#a9062c" stroke-width="1.0"/>
<circle cx="367.06" cy="352.79" r="2.9" fill="none" stroke="#a9062c" stroke-width="1.0"/>
<circle cx="365.96" cy="360.98" r="2.9" fill="none" stroke="#a9062c" stroke-width="1.0"/>
<circle cx="366.64" cy="343.42" r="2.9" fill="none" stroke="#a9062c" stroke-width="1.0"/>
<circle cx="365.27" cy="378.12" r="2.9" fill="none" stroke="#a9062c" stroke-width="1.0"/>
<circle cx="369.35" cy="353.09" r="2.9" fill="none" stroke="#a9062c" stroke-width="1.0"/>
<circle cx="363.37" cy="345.09" r="2.9" fill="none" stroke="#a9062c" stroke-width="1.0"/>
<circle cx="366.73" cy="343.79" r="2.9" fill="none" stroke="#a9062c" stroke-width="1.0"/>
<circle cx="365.25" cy="369.88" r="2.9" fill="none" stroke="#a9062c" stroke-width="1.0"/>
<circle cx="362.36" cy="364.61" r="2.9" fill="none" stroke="#a9062c" stroke-width="1.0"/>
<circle cx="365.14" cy="365.5" r="2.9" fill="none" stroke="#a9062c" stroke-width="1.0"/>
<circle cx="364.66" cy="360.66" r="2.9" fill="none" stroke="#a9062c" stroke-width="1.0"/>
<circle cx="363.36" cy="356.26" r="2.9" fill="none" stroke="#a9062c" stroke-width="1.0"/>
<circle cx="365.29" cy="342.86" r="2.9" fill="none" stroke="#a9062c" stroke-width="1.0"/>
<circle cx="366.98" cy="350.39" r="2.9" fill="none" stroke="#a9062c" stroke-width="1.0"/>
<circle cx="366.42" cy="372.06" r="2.9" fill="none" stroke="#a9062c" stroke-width="1.0"/>
<circle cx="363.44" cy="358.33" r="2.9" fill="none" stroke="#a9062c" stroke-width="1.0"/>
<circle cx="365.4" cy="355.65" r="2.9" fill="none" stroke="#a9062c" stroke-width="1.0"/>
<circle cx="368.47" cy="365.01" r="2.9" fill="none" stroke="#a9062c" stroke-width="1.0"/>
<circle cx="365.41" cy="344.25" r="2.9" fill="none" stroke="#a9062c" stroke-width="1.0"/>
<circle cx="367.19" cy="359.69" r="2.9" fill="none" stroke="#a9062c" stroke-width="1.0"/>
<circle cx="366.36" cy="374.84" r="2.9" fill="none" stroke="#a9062c" stroke-width="1.0"/>
<circle cx="367.17" cy="364.82" r="2.9" fill="none" stroke="#a9062c" stroke-width="1.0"/>
<circle cx="367.67" cy="366.39" r="2.9" fill="none" stroke="#a9062c" stroke-width="1.0"/>
<circle cx="366.55" cy="367.56" r="2.9" fill="none" stroke="#a9062c" stroke-width="1.0"/>
<circle cx="368.52" cy="350.32" r="2.9" fill="none" stroke="#a9062c" stroke-width="1.0"/>
<circle cx="366.39" cy="355.67" r="2.9" fill="none" stroke="#a9062c" stroke-width="1.0"/>
<circle cx="367.35" cy="372.34" r="2.9" fill="none" stroke="#a9062c" stroke-width="1.0"/>
<circle cx="364.82" cy="378.59" r="2.9" fill="none" stroke="#a9062c" stroke-width="1.0"/>
<circle cx="364.03" cy="352.88" r="2.9" fill="none" stroke="#a9062c" stroke-width="1.0"/>
<circle cx="362.73" cy="355.87" r="2.9" fill="none" stroke="#a9062c" stroke-width="1.0"/>
<circle cx="362.45" cy="362.02" r="2.9" fill="none" stroke="#a9062c" stroke-width="1.0"/>
<circle cx="368.96" cy="352.5" r="2.9" fill="none" stroke="#a9062c" stroke-width="1.0"/>
<circle cx="365.31" cy="369.21" r="2.9" fill="none" stroke="#a9062c" stroke-width="1.0"/>
<circle cx="367.8" cy="345.11" r="2.9" fill="none" stroke="#a9062c" stroke-width="1.0"/>
<circle cx="363.83" cy="367.75" r="2.9" fill="none" stroke="#a9062c" stroke-width="1.0"/>
<circle cx="366.6" cy="353.74" r="2.9" fill="none" stroke="#a9062c" stroke-width="1.0"/>
<circle cx="364.09" cy="366.9" r="2.9" fill="none" stroke="#a9062c" stroke-width="1.0"/>
<circle cx="365.14" cy="377.15" r="2.9" fill="none" stroke="#a9062c" stroke-width="1.0"/>
<circle cx="368.04" cy="350.66" r="2.9" fill="none" stroke="#a9062c" stroke-width="1.0"/>
<circle cx="366.6" cy="346.83" r="2.9" fill="none" stroke="#a9062c" stroke-width="1.0"/>
<circle cx="366.15" cy="348.6" r="2.9" fill="none" stroke="#a9062c" stroke-width="1.0"/>
<circle cx="364.57" cy="351.54" r="2.9" fill="none" stroke="#a9062c" stroke-width="1.0"/>
<circle cx="365.43" cy="376.75" r="2.9" fill="none" stroke="#a9062c" stroke-width="1.0"/>
<circle cx="366.41" cy="357.6" r="2.9" fill="none" stroke="#a9062c" stroke-width="1.0"/>
<circle cx="363" cy="351.66" r="2.9" fill="none" stroke="#a9062c" stroke-width="1.0"/>
<circle cx="363.72" cy="355.62" r="2.9" fill="none" stroke="#a9062c" stroke-width="1.0"/>
<circle cx="368.5" cy="348.16" r="2.9" fill="none" stroke="#a9062c" stroke-width="1.0"/>
<circle cx="366.33" cy="342.31" r="2.9" fill="none" stroke="#a9062c" stroke-width="1.0"/>
<circle cx="365.97" cy="376.52" r="2.9" fill="none" stroke="#a9062c" stroke-width="1.0"/>
<circle cx="365.5" cy="341.72" r="2.9" fill="none" stroke="#a9062c" stroke-width="1.0"/>
<circle cx="365.8" cy="342.49" r="2.9" fill="none" stroke="#a9062c" stroke-width="1.0"/>
<circle cx="364.02" cy="367.62" r="2.9" fill="none" stroke="#a9062c" stroke-width="1.0"/>
<circle cx="365.55" cy="341.29" r="2.9" fill="none" stroke="#a9062c" stroke-width="1.0"/>
<circle cx="364.62" cy="344.59" r="2.9" fill="none" stroke="#a9062c" stroke-width="1.0"/>
<circle cx="368.58" cy="358.26" r="2.9" fill="none" stroke="#a9062c" stroke-width="1.0"/>
<circle cx="362.65" cy="355.06" r="2.9" fill="none" stroke="#a9062c" stroke-width="1.0"/>
<circle cx="366.94" cy="371.09" r="2.9" fill="none" stroke="#a9062c" stroke-width="1.0"/>
<circle cx="362.12" cy="361.12" r="2.9" fill="none" stroke="#a9062c" stroke-width="1.0"/>
<circle cx="364.87" cy="348.13" r="2.9" fill="none" stroke="#a9062c" stroke-width="1.0"/>
<circle cx="363.51" cy="361.97" r="2.9" fill="none" stroke="#a9062c" stroke-width="1.0"/>
<circle cx="366.98" cy="371.49" r="2.9" fill="none" stroke="#a9062c" stroke-width="1.0"/>
<circle cx="366.45" cy="376.16" r="2.9" fill="none" stroke="#a9062c" stroke-width="1.0"/>
<circle cx="365.65" cy="341.67" r="2.9" fill="none" stroke="#a9062c" stroke-width="1.0"/>
<circle cx="367.16" cy="344.06" r="2.9" fill="none" stroke="#a9062c" stroke-width="1.0"/>
<circle cx="366.82" cy="369.38" r="2.9" fill="none" stroke="#a9062c" stroke-width="1.0"/>
<circle cx="362.63" cy="348.16" r="2.9" fill="none" stroke="#a9062c" stroke-width="1.0"/>
<circle cx="365.94" cy="371.98" r="2.9" fill="none" stroke="#a9062c" stroke-width="1.0"/>
<circle cx="365.31" cy="364.57" r="2.9" fill="none" stroke="#a9062c" stroke-width="1.0"/>
<circle cx="364.8" cy="371.4" r="2.9" fill="none" stroke="#a9062c" stroke-width="1.0"/>
<circle cx="364.39" cy="351.25" r="2.9" fill="none" stroke="#a9062c" stroke-width="1.0"/>
<circle cx="366.49" cy="352.32" r="2.9" fill="none" stroke="#a9062c" stroke-width="1.0"/>
<circle cx="364.19" cy="374.83" r="2.9" fill="none" stroke="#a9062c" stroke-width="1.0"/>
<circle cx="365.54" cy="343.57" r="2.9" fill="none" stroke="#a9062c" stroke-width="1.0"/>
<circle cx="363.66" cy="366.76" r="2.9" fill="none" stroke="#a9062c" stroke-width="1.0"/>
<circle cx="362.17" cy="351.25" r="2.9" fill="none" stroke="#a9062c" stroke-width="1.0"/>
<circle cx="365.49" cy="342.41" r="2.9" fill="none" stroke="#a9062c" stroke-width="1.0"/>
<circle cx="366.41" cy="366.87" r="2.9" fill="none" stroke="#a9062c" stroke-width="1.0"/>
<circle cx="363.07" cy="347.01" r="2.9" fill="none" stroke="#a9062c" stroke-width="1.0"/>
<circle cx="365.59" cy="376.37" r="2.9" fill="none" stroke="#a9062c" stroke-width="1.0"/>
<circle cx="366.99" cy="356.52" r="2.9" fill="none" stroke="#a9062c" stroke-width="1.0"/>
<circle cx="365.63" cy="368.66" r="2.9" fill="none" stroke="#a9062c" stroke-width="1.0"/>
<circle cx="366.84" cy="343.98" r="2.9" fill="none" stroke="#a9062c" stroke-width="1.0"/>
<circle cx="362.36" cy="349.12" r="2.9" fill="none" stroke="#a9062c" stroke-width="1.0"/>
<circle cx="365.75" cy="354.39" r="2.9" fill="none" stroke="#a9062c" stroke-width="1.0"/>
<circle cx="363.39" cy="364.87" r="2.9" fill="none" stroke="#a9062c" stroke-width="1.0"/>
<circle cx="365.47" cy="367.97" r="2.9" fill="none" stroke="#a9062c" stroke-width="1.0"/>
<circle cx="367.67" cy="347.16" r="2.9" fill="none" stroke="#a9062c" stroke-width="1.0"/>
<circle cx="367.22" cy="371.66" r="2.9" fill="none" stroke="#a9062c" stroke-width="1.0"/>
<circle cx="363.83" cy="366.82" r="2.9" fill="none" stroke="#a9062c" stroke-width="1.0"/>
<circle cx="367.37" cy="370.55" r="2.9" fill="none" stroke="#a9062c" stroke-width="1.0"/>
<circle cx="368.54" cy="361.26" r="2.9" fill="none" stroke="#a9062c" stroke-width="1.0"/>
<circle cx="365.31" cy="377.87" r="2.9" fill="none" stroke="#a9062c" stroke-width="1.0"/>
<circle cx="366.46" cy="376.79" r="2.9" fill="none" stroke="#a9062c" stroke-width="1.0"/>
<circle cx="363.34" cy="371.17" r="2.9" fill="none" stroke="#a9062c" stroke-width="1.0"/>
<circle cx="366.39" cy="354.37" r="2.9" fill="none" stroke="#a9062c" stroke-width="1.0"/>
<circle cx="367.21" cy="364.07" r="2.9" fill="none" stroke="#a9062c" stroke-width="1.0"/>
<circle cx="363.38" cy="365.58" r="2.9" fill="none" stroke="#a9062c" stroke-width="1.0"/>
<circle cx="365.59" cy="376.37" r="2.9" fill="none" stroke="#a9062c" stroke-width="1.0"/>
<circle cx="364.57" cy="374.5" r="2.9" fill="none" stroke="#a9062c" stroke-width="1.0"/>
<circle cx="365.57" cy="378.93" r="2.9" fill="none" stroke="#a9062c" stroke-width="1.0"/>
<circle cx="366.62" cy="370.47" r="2.9" fill="none" stroke="#a9062c" stroke-width="1.0"/>
<circle cx="365.06" cy="374.55" r="2.9" fill="none" stroke="#a9062c" stroke-width="1.0"/>
<circle cx="365.1" cy="344.15" r="2.9" fill="none" stroke="#a9062c" stroke-width="1.0"/>
<circle cx="365.75" cy="347.77" r="2.9" fill="none" stroke="#a9062c" stroke-width="1.0"/>
<circle cx="364.93" cy="371.97" r="2.9" fill="none" stroke="#a9062c" stroke-width="1.0"/>
<circle cx="362.76" cy="345.98" r="2.9" fill="none" stroke="#a9062c" stroke-width="1.0"/>
<circle cx="366.13" cy="357.07" r="2.9" fill="none" stroke="#a9062c" stroke-width="1.0"/>
<circle cx="365.9" cy="342" r="2.9" fill="none" stroke="#a9062c" stroke-width="1.0"/>
<circle cx="362.83" cy="349.01" r="2.9" fill="none" stroke="#a9062c" stroke-width="1.0"/>
<circle cx="365.56" cy="376.25" r="2.9" fill="none" stroke="#a9062c" stroke-width="1.0"/>
<circle cx="365.54" cy="375.01" r="2.9" fill="none" stroke="#a9062c" stroke-width="1.0"/>
<circle cx="364.07" cy="345.67" r="2.9" fill="none" stroke="#a9062c" stroke-width="1.0"/>
<circle cx="366.6" cy="357.12" r="2.9" fill="none" stroke="#a9062c" stroke-width="1.0"/>
<circle cx="366.69" cy="370.29" r="2.9" fill="none" stroke="#a9062c" stroke-width="1.0"/>
<circle cx="363.96" cy="365.73" r="2.9" fill="none" stroke="#a9062c" stroke-width="1.0"/>
<circle cx="364.55" cy="357.34" r="2.9" fill="none" stroke="#a9062c" stroke-width="1.0"/>
<circle cx="367.19" cy="368.07" r="0.7" fill="#24418a"/>
<circle cx="368.41" cy="347.94" r="0.7" fill="#24418a"/>
<circle cx="366.52" cy="348.38" r="0.7" fill="#24418a"/>
<circle cx="366.51" cy="344.49" r="0.7" fill="#24418a"/>
<circle cx="366.63" cy="346.75" r="0.7" fill="#24418a"/>
<circle cx="366.78" cy="368.53" r="0.7" fill="#24418a"/>
<circle cx="368.13" cy="357.77" r="0.7" fill="#24418a"/>
<circle cx="365.19" cy="378.54" r="0.7" fill="#24418a"/>
<circle cx="368.72" cy="360.64" r="0.7" fill="#24418a"/>
<circle cx="365.24" cy="369.09" r="0.7" fill="#24418a"/>
<circle cx="368.76" cy="352.57" r="0.7" fill="#24418a"/>
<circle cx="366.46" cy="344.23" r="0.7" fill="#24418a"/>
<circle cx="364.43" cy="373.04" r="0.7" fill="#24418a"/>
<circle cx="364.1" cy="353.42" r="0.7" fill="#24418a"/>
<circle cx="365.7" cy="337.6" r="2.9" fill="none" stroke="#a9062c" stroke-width="1.0"/>
<circle cx="365.4" cy="383.5" r="2.9" fill="none" stroke="#a9062c" stroke-width="1.0"/>
<circle cx="365.6" cy="380.5" r="2.9" fill="none" stroke="#24418a" stroke-width="1.0"/>
<circle cx="364.8" cy="377.5" r="2.9" fill="none" stroke="#a9062c" stroke-width="1.0"/>
<circle cx="366.2" cy="340.2" r="2.9" fill="none" stroke="#a9062c" stroke-width="1.0"/>
<rect x="378.2" y="365" width="23.2" height="6.6" fill="#c6c4cb"/>
<line x1="378.2" y1="368.4" x2="401.4" y2="368.4" stroke="#161616" stroke-width="1.8"/>
<polygon points="390.49,375.02 394.19,381.42 386.79,381.42" fill="none" stroke="#a9062c" stroke-width="0.95" stroke-linejoin="miter"/>
<polygon points="387.12,374.11 390.82,380.51 383.42,380.51" fill="none" stroke="#a9062c" stroke-width="0.95" stroke-linejoin="miter"/>
<polygon points="388.26,365.67 391.96,372.07 384.56,372.07" fill="none" stroke="#a9062c" stroke-width="0.95" stroke-linejoin="miter"/>
<polygon points="386.01,363.93 389.71,370.33 382.31,370.33" fill="none" stroke="#a9062c" stroke-width="0.95" stroke-linejoin="miter"/>
<polygon points="388.6,354.43 392.3,360.83 384.9,360.83" fill="none" stroke="#a9062c" stroke-width="0.95" stroke-linejoin="miter"/>
<polygon points="388.62,355.24 392.32,361.64 384.92,361.64" fill="none" stroke="#a9062c" stroke-width="0.95" stroke-linejoin="miter"/>
<polygon points="388.6,349.73 392.3,356.13 384.9,356.13" fill="none" stroke="#a9062c" stroke-width="0.95" stroke-linejoin="miter"/>
<polygon points="388.32,368.98 392.02,375.38 384.62,375.38" fill="none" stroke="#a9062c" stroke-width="0.95" stroke-linejoin="miter"/>
<polygon points="390.6,363.44 394.3,369.84 386.9,369.84" fill="none" stroke="#a9062c" stroke-width="0.95" stroke-linejoin="miter"/>
<polygon points="385.99,359.12 389.69,365.52 382.29,365.52" fill="none" stroke="#a9062c" stroke-width="0.95" stroke-linejoin="miter"/>
<polygon points="389.26,371.04 392.96,377.44 385.56,377.44" fill="none" stroke="#a9062c" stroke-width="0.95" stroke-linejoin="miter"/>
<polygon points="389.6,367.52 393.3,373.92 385.9,373.92" fill="none" stroke="#a9062c" stroke-width="0.95" stroke-linejoin="miter"/>
<polygon points="388.33,376.31 392.03,382.71 384.63,382.71" fill="none" stroke="#a9062c" stroke-width="0.95" stroke-linejoin="miter"/>
<polygon points="388.09,370.38 391.79,376.78 384.39,376.78" fill="none" stroke="#a9062c" stroke-width="0.95" stroke-linejoin="miter"/>
<polygon points="389.96,365.11 393.66,371.51 386.26,371.51" fill="none" stroke="#a9062c" stroke-width="0.95" stroke-linejoin="miter"/>
<polygon points="386.45,357.87 390.15,364.27 382.75,364.27" fill="none" stroke="#a9062c" stroke-width="0.95" stroke-linejoin="miter"/>
<polygon points="390.53,362.35 394.23,368.75 386.83,368.75" fill="none" stroke="#a9062c" stroke-width="0.95" stroke-linejoin="miter"/>
<polygon points="388.43,365.63 392.13,372.03 384.73,372.03" fill="none" stroke="#a9062c" stroke-width="0.95" stroke-linejoin="miter"/>
<polygon points="386.65,367.08 390.35,373.48 382.95,373.48" fill="none" stroke="#a9062c" stroke-width="0.95" stroke-linejoin="miter"/>
<polygon points="388.2,354.05 391.9,360.45 384.5,360.45" fill="none" stroke="#a9062c" stroke-width="0.95" stroke-linejoin="miter"/>
<polygon points="387.36,371.96 391.06,378.36 383.66,378.36" fill="none" stroke="#a9062c" stroke-width="0.95" stroke-linejoin="miter"/>
<polygon points="387.89,352.24 391.59,358.64 384.19,358.64" fill="none" stroke="#a9062c" stroke-width="0.95" stroke-linejoin="miter"/>
<polygon points="388.63,350.13 392.33,356.53 384.93,356.53" fill="none" stroke="#a9062c" stroke-width="0.95" stroke-linejoin="miter"/>
<polygon points="391.13,365.13 394.83,371.53 387.43,371.53" fill="none" stroke="#a9062c" stroke-width="0.95" stroke-linejoin="miter"/>
<polygon points="388.03,358.33 391.73,364.73 384.33,364.73" fill="none" stroke="#a9062c" stroke-width="0.95" stroke-linejoin="miter"/>
<polygon points="387.78,357.14 391.48,363.54 384.08,363.54" fill="none" stroke="#a9062c" stroke-width="0.95" stroke-linejoin="miter"/>
<polygon points="389.06,370.88 392.76,377.28 385.36,377.28" fill="none" stroke="#a9062c" stroke-width="0.95" stroke-linejoin="miter"/>
<polygon points="386.94,356.29 390.64,362.69 383.24,362.69" fill="none" stroke="#a9062c" stroke-width="0.95" stroke-linejoin="miter"/>
<polygon points="389.86,371.06 393.56,377.46 386.16,377.46" fill="none" stroke="#a9062c" stroke-width="0.95" stroke-linejoin="miter"/>
<polygon points="387.6,372.31 391.3,378.71 383.9,378.71" fill="none" stroke="#a9062c" stroke-width="0.95" stroke-linejoin="miter"/>
<polygon points="391.92,364.36 395.62,370.76 388.22,370.76" fill="none" stroke="#a9062c" stroke-width="0.95" stroke-linejoin="miter"/>
<polygon points="391.97,365.69 395.67,372.09 388.27,372.09" fill="none" stroke="#a9062c" stroke-width="0.95" stroke-linejoin="miter"/>
<polygon points="390.32,353.73 394.02,360.13 386.62,360.13" fill="none" stroke="#a9062c" stroke-width="0.95" stroke-linejoin="miter"/>
<polygon points="388.71,350.6 392.41,357 385.01,357" fill="none" stroke="#a9062c" stroke-width="0.95" stroke-linejoin="miter"/>
<polygon points="388.94,349.69 392.64,356.09 385.24,356.09" fill="none" stroke="#a9062c" stroke-width="0.95" stroke-linejoin="miter"/>
<polygon points="391.8,368.34 395.5,374.74 388.1,374.74" fill="none" stroke="#a9062c" stroke-width="0.95" stroke-linejoin="miter"/>
<polygon points="390.99,371.65 394.69,378.05 387.29,378.05" fill="none" stroke="#a9062c" stroke-width="0.95" stroke-linejoin="miter"/>
<polygon points="392.46,364.17 396.16,370.57 388.76,370.57" fill="none" stroke="#a9062c" stroke-width="0.95" stroke-linejoin="miter"/>
<polygon points="387.94,370.08 391.64,376.48 384.24,376.48" fill="none" stroke="#a9062c" stroke-width="0.95" stroke-linejoin="miter"/>
<polygon points="388.38,376.41 392.08,382.81 384.68,382.81" fill="none" stroke="#a9062c" stroke-width="0.95" stroke-linejoin="miter"/>
<polygon points="387.26,354.46 390.96,360.86 383.56,360.86" fill="none" stroke="#a9062c" stroke-width="0.95" stroke-linejoin="miter"/>
<polygon points="386.37,362.13 390.07,368.53 382.67,368.53" fill="none" stroke="#a9062c" stroke-width="0.95" stroke-linejoin="miter"/>
<polygon points="390.47,375.27 394.17,381.67 386.77,381.67" fill="none" stroke="#a9062c" stroke-width="0.95" stroke-linejoin="miter"/>
<polygon points="387.21,355.1 390.91,361.5 383.51,361.5" fill="none" stroke="#a9062c" stroke-width="0.95" stroke-linejoin="miter"/>
<polygon points="386.3,363.9 390,370.3 382.6,370.3" fill="none" stroke="#a9062c" stroke-width="0.95" stroke-linejoin="miter"/>
<polygon points="391.13,364.31 394.83,370.71 387.43,370.71" fill="none" stroke="#a9062c" stroke-width="0.95" stroke-linejoin="miter"/>
<polygon points="388.44,356.14 392.14,362.54 384.74,362.54" fill="none" stroke="#a9062c" stroke-width="0.95" stroke-linejoin="miter"/>
<polygon points="388.58,374.35 392.28,380.75 384.88,380.75" fill="none" stroke="#a9062c" stroke-width="0.95" stroke-linejoin="miter"/>
<polygon points="391.2,358.66 394.9,365.06 387.5,365.06" fill="none" stroke="#a9062c" stroke-width="0.95" stroke-linejoin="miter"/>
<polygon points="390.68,371.9 394.38,378.3 386.98,378.3" fill="none" stroke="#a9062c" stroke-width="0.95" stroke-linejoin="miter"/>
<polygon points="388.25,368.36 391.95,374.76 384.55,374.76" fill="none" stroke="#a9062c" stroke-width="0.95" stroke-linejoin="miter"/>
<polygon points="390.86,368.51 394.56,374.91 387.16,374.91" fill="none" stroke="#a9062c" stroke-width="0.95" stroke-linejoin="miter"/>
<polygon points="387.03,367 390.73,373.4 383.33,373.4" fill="none" stroke="#a9062c" stroke-width="0.95" stroke-linejoin="miter"/>
<polygon points="388.32,357.33 392.02,363.73 384.62,363.73" fill="none" stroke="#a9062c" stroke-width="0.95" stroke-linejoin="miter"/>
<polygon points="389.1,370.72 392.8,377.12 385.4,377.12" fill="none" stroke="#a9062c" stroke-width="0.95" stroke-linejoin="miter"/>
<polygon points="391.22,364.49 394.92,370.89 387.52,370.89" fill="none" stroke="#a9062c" stroke-width="0.95" stroke-linejoin="miter"/>
<polygon points="389.08,352.08 392.78,358.48 385.38,358.48" fill="none" stroke="#a9062c" stroke-width="0.95" stroke-linejoin="miter"/>
<polygon points="389.15,358.38 392.85,364.78 385.45,364.78" fill="none" stroke="#a9062c" stroke-width="0.95" stroke-linejoin="miter"/>
<polygon points="387.67,372.51 391.37,378.91 383.97,378.91" fill="none" stroke="#a9062c" stroke-width="0.95" stroke-linejoin="miter"/>
<polygon points="387.29,375.77 390.99,382.17 383.59,382.17" fill="none" stroke="#a9062c" stroke-width="0.95" stroke-linejoin="miter"/>
<polygon points="389.11,364.82 392.81,371.22 385.41,371.22" fill="none" stroke="#a9062c" stroke-width="0.95" stroke-linejoin="miter"/>
<polygon points="389.06,355.64 392.76,362.04 385.36,362.04" fill="none" stroke="#a9062c" stroke-width="0.95" stroke-linejoin="miter"/>
<polygon points="388.4,362.26 392.1,368.66 384.7,368.66" fill="none" stroke="#a9062c" stroke-width="0.95" stroke-linejoin="miter"/>
<polygon points="385.85,369.22 389.55,375.62 382.15,375.62" fill="none" stroke="#a9062c" stroke-width="0.95" stroke-linejoin="miter"/>
<polygon points="390.7,359.63 394.4,366.03 387,366.03" fill="none" stroke="#a9062c" stroke-width="0.95" stroke-linejoin="miter"/>
<polygon points="389.82,353.02 393.52,359.42 386.12,359.42" fill="none" stroke="#a9062c" stroke-width="0.95" stroke-linejoin="miter"/>
<polygon points="389.49,354.75 393.19,361.15 385.79,361.15" fill="none" stroke="#a9062c" stroke-width="0.95" stroke-linejoin="miter"/>
<polygon points="388.63,353.9 392.33,360.3 384.93,360.3" fill="none" stroke="#a9062c" stroke-width="0.95" stroke-linejoin="miter"/>
<polygon points="385.73,360.91 389.43,367.31 382.03,367.31" fill="none" stroke="#a9062c" stroke-width="0.95" stroke-linejoin="miter"/>
<polygon points="388.68,368.69 392.38,375.09 384.98,375.09" fill="none" stroke="#a9062c" stroke-width="0.95" stroke-linejoin="miter"/>
<polygon points="389.05,368.39 392.75,374.79 385.35,374.79" fill="none" stroke="#a9062c" stroke-width="0.95" stroke-linejoin="miter"/>
<polygon points="388.99,364.65 392.69,371.05 385.29,371.05" fill="none" stroke="#a9062c" stroke-width="0.95" stroke-linejoin="miter"/>
<polygon points="390.95,357.4 394.65,363.8 387.25,363.8" fill="none" stroke="#a9062c" stroke-width="0.95" stroke-linejoin="miter"/>
<polygon points="389.44,351.46 393.14,357.86 385.74,357.86" fill="none" stroke="#a9062c" stroke-width="0.95" stroke-linejoin="miter"/>
<polygon points="388.79,373.3 392.49,379.7 385.09,379.7" fill="none" stroke="#a9062c" stroke-width="0.95" stroke-linejoin="miter"/>
<polygon points="389.71,370.86 393.41,377.26 386.01,377.26" fill="none" stroke="#a9062c" stroke-width="0.95" stroke-linejoin="miter"/>
<polygon points="387.34,366.03 391.04,372.43 383.64,372.43" fill="none" stroke="#a9062c" stroke-width="0.95" stroke-linejoin="miter"/>
<polygon points="387.93,358.01 391.63,364.41 384.23,364.41" fill="none" stroke="#a9062c" stroke-width="0.95" stroke-linejoin="miter"/>
<polygon points="391.32,357.52 395.02,363.92 387.62,363.92" fill="none" stroke="#a9062c" stroke-width="0.95" stroke-linejoin="miter"/>
<polygon points="388.12,358.62 391.82,365.02 384.42,365.02" fill="none" stroke="#a9062c" stroke-width="0.95" stroke-linejoin="miter"/>
<polygon points="391.11,360.82 394.81,367.22 387.41,367.22" fill="none" stroke="#a9062c" stroke-width="0.95" stroke-linejoin="miter"/>
<polygon points="389.23,362.46 392.93,368.86 385.53,368.86" fill="none" stroke="#a9062c" stroke-width="0.95" stroke-linejoin="miter"/>
<polygon points="387.76,356.21 391.46,362.61 384.06,362.61" fill="none" stroke="#a9062c" stroke-width="0.95" stroke-linejoin="miter"/>
<polygon points="388.3,351.54 392,357.94 384.6,357.94" fill="none" stroke="#a9062c" stroke-width="0.95" stroke-linejoin="miter"/>
<polygon points="390.5,356.45 394.2,362.85 386.8,362.85" fill="none" stroke="#a9062c" stroke-width="0.95" stroke-linejoin="miter"/>
<polygon points="385.78,363.15 389.48,369.55 382.08,369.55" fill="none" stroke="#a9062c" stroke-width="0.95" stroke-linejoin="miter"/>
<polygon points="385.79,362.03 389.49,368.43 382.09,368.43" fill="none" stroke="#a9062c" stroke-width="0.95" stroke-linejoin="miter"/>
<polygon points="388.38,364.94 392.08,371.34 384.68,371.34" fill="none" stroke="#a9062c" stroke-width="0.95" stroke-linejoin="miter"/>
<polygon points="387.77,373.15 391.47,379.55 384.07,379.55" fill="none" stroke="#a9062c" stroke-width="0.95" stroke-linejoin="miter"/>
<polygon points="387.7,372.94 391.4,379.34 384,379.34" fill="none" stroke="#a9062c" stroke-width="0.95" stroke-linejoin="miter"/>
<polygon points="389.25,376.64 392.95,383.04 385.55,383.04" fill="none" stroke="#a9062c" stroke-width="0.95" stroke-linejoin="miter"/>
<polygon points="389.06,350.23 392.76,356.63 385.36,356.63" fill="none" stroke="#a9062c" stroke-width="0.95" stroke-linejoin="miter"/>
<polygon points="388.11,356.78 391.81,363.18 384.41,363.18" fill="none" stroke="#a9062c" stroke-width="0.95" stroke-linejoin="miter"/>
<polygon points="389.76,353.15 393.46,359.55 386.06,359.55" fill="none" stroke="#a9062c" stroke-width="0.95" stroke-linejoin="miter"/>
<polygon points="389.23,351.57 392.93,357.97 385.53,357.97" fill="none" stroke="#a9062c" stroke-width="0.95" stroke-linejoin="miter"/>
<polygon points="390.04,360.15 393.74,366.55 386.34,366.55" fill="none" stroke="#a9062c" stroke-width="0.95" stroke-linejoin="miter"/>
<polygon points="386.56,357.27 390.26,363.67 382.86,363.67" fill="none" stroke="#a9062c" stroke-width="0.95" stroke-linejoin="miter"/>
<polygon points="389.4,374.75 393.1,381.15 385.7,381.15" fill="none" stroke="#a9062c" stroke-width="0.95" stroke-linejoin="miter"/>
<polygon points="390.34,353.8 394.04,360.2 386.64,360.2" fill="none" stroke="#a9062c" stroke-width="0.95" stroke-linejoin="miter"/>
<polygon points="387.57,374.65 391.27,381.05 383.87,381.05" fill="none" stroke="#a9062c" stroke-width="0.95" stroke-linejoin="miter"/>
<polygon points="388.84,349.57 392.54,355.97 385.14,355.97" fill="none" stroke="#a9062c" stroke-width="0.95" stroke-linejoin="miter"/>
<polygon points="389.43,352.94 393.13,359.34 385.73,359.34" fill="none" stroke="#a9062c" stroke-width="0.95" stroke-linejoin="miter"/>
<polygon points="390.47,362.21 394.17,368.61 386.77,368.61" fill="none" stroke="#a9062c" stroke-width="0.95" stroke-linejoin="miter"/>
<polygon points="390.77,365.04 394.47,371.44 387.07,371.44" fill="none" stroke="#a9062c" stroke-width="0.95" stroke-linejoin="miter"/>
<polygon points="389.28,372.12 392.98,378.52 385.58,378.52" fill="none" stroke="#a9062c" stroke-width="0.95" stroke-linejoin="miter"/>
<polygon points="387.57,365.65 391.27,372.05 383.87,372.05" fill="none" stroke="#a9062c" stroke-width="0.95" stroke-linejoin="miter"/>
<polygon points="387.72,352.8 391.42,359.2 384.02,359.2" fill="none" stroke="#a9062c" stroke-width="0.95" stroke-linejoin="miter"/>
<polygon points="387.54,373.11 391.24,379.51 383.84,379.51" fill="none" stroke="#a9062c" stroke-width="0.95" stroke-linejoin="miter"/>
<polygon points="387.45,361.02 391.15,367.42 383.75,367.42" fill="none" stroke="#a9062c" stroke-width="0.95" stroke-linejoin="miter"/>
<polygon points="389.03,366.44 392.73,372.84 385.33,372.84" fill="none" stroke="#a9062c" stroke-width="0.95" stroke-linejoin="miter"/>
<polygon points="388.53,373.17 392.23,379.57 384.83,379.57" fill="none" stroke="#a9062c" stroke-width="0.95" stroke-linejoin="miter"/>
<polygon points="389.77,359.2 393.47,365.6 386.07,365.6" fill="none" stroke="#a9062c" stroke-width="0.95" stroke-linejoin="miter"/>
<polygon points="391.19,369.96 394.89,376.36 387.49,376.36" fill="none" stroke="#a9062c" stroke-width="0.95" stroke-linejoin="miter"/>
<polygon points="390.98,357.79 394.68,364.19 387.28,364.19" fill="none" stroke="#a9062c" stroke-width="0.95" stroke-linejoin="miter"/>
<polygon points="390.41,376.61 394.11,383.01 386.71,383.01" fill="none" stroke="#a9062c" stroke-width="0.95" stroke-linejoin="miter"/>
<polygon points="388.49,352.66 392.19,359.06 384.79,359.06" fill="none" stroke="#a9062c" stroke-width="0.95" stroke-linejoin="miter"/>
<polygon points="390.54,370.78 394.24,377.18 386.84,377.18" fill="none" stroke="#a9062c" stroke-width="0.95" stroke-linejoin="miter"/>
<polygon points="388.72,350.14 392.42,356.54 385.02,356.54" fill="none" stroke="#a9062c" stroke-width="0.95" stroke-linejoin="miter"/>
<polygon points="390.32,369.38 394.02,375.78 386.62,375.78" fill="none" stroke="#a9062c" stroke-width="0.95" stroke-linejoin="miter"/>
<polygon points="386.62,364.07 390.32,370.47 382.92,370.47" fill="none" stroke="#a9062c" stroke-width="0.95" stroke-linejoin="miter"/>
<polygon points="385.67,360.46 389.37,366.86 381.97,366.86" fill="none" stroke="#a9062c" stroke-width="0.95" stroke-linejoin="miter"/>
<polygon points="388.39,357.9 392.09,364.3 384.69,364.3" fill="none" stroke="#a9062c" stroke-width="0.95" stroke-linejoin="miter"/>
<polygon points="389.22,372.16 392.92,378.56 385.52,378.56" fill="none" stroke="#a9062c" stroke-width="0.95" stroke-linejoin="miter"/>
<polygon points="386.97,360.68 390.67,367.08 383.27,367.08" fill="none" stroke="#a9062c" stroke-width="0.95" stroke-linejoin="miter"/>
<polygon points="389.77,357.89 393.47,364.29 386.07,364.29" fill="none" stroke="#a9062c" stroke-width="0.95" stroke-linejoin="miter"/>
<polygon points="386.29,361.55 389.99,367.95 382.59,367.95" fill="none" stroke="#a9062c" stroke-width="0.95" stroke-linejoin="miter"/>
<polygon points="389.15,372.12 392.85,378.52 385.45,378.52" fill="none" stroke="#a9062c" stroke-width="0.95" stroke-linejoin="miter"/>
<polygon points="388.93,376.22 392.63,382.62 385.23,382.62" fill="none" stroke="#a9062c" stroke-width="0.95" stroke-linejoin="miter"/>
<polygon points="388.3,366.54 392,372.94 384.6,372.94" fill="none" stroke="#a9062c" stroke-width="0.95" stroke-linejoin="miter"/>
<polygon points="391.73,366.12 395.43,372.52 388.03,372.52" fill="none" stroke="#a9062c" stroke-width="0.95" stroke-linejoin="miter"/>
<polygon points="389.34,376.61 393.04,383.01 385.64,383.01" fill="none" stroke="#a9062c" stroke-width="0.95" stroke-linejoin="miter"/>
<polygon points="385.54,361.12 389.24,367.52 381.84,367.52" fill="none" stroke="#a9062c" stroke-width="0.95" stroke-linejoin="miter"/>
<polygon points="388.32,372.64 392.02,379.04 384.62,379.04" fill="none" stroke="#a9062c" stroke-width="0.95" stroke-linejoin="miter"/>
<polygon points="385.83,359.78 389.53,366.18 382.13,366.18" fill="none" stroke="#a9062c" stroke-width="0.95" stroke-linejoin="miter"/>
<polygon points="388.73,349.99 392.43,356.39 385.03,356.39" fill="none" stroke="#a9062c" stroke-width="0.95" stroke-linejoin="miter"/>
<polygon points="389.62,376.42 393.32,382.82 385.92,382.82" fill="none" stroke="#a9062c" stroke-width="0.95" stroke-linejoin="miter"/>
<polygon points="389.82,368.95 393.52,375.35 386.12,375.35" fill="none" stroke="#a9062c" stroke-width="0.95" stroke-linejoin="miter"/>
<polygon points="387.15,356.7 390.85,363.1 383.45,363.1" fill="none" stroke="#a9062c" stroke-width="0.95" stroke-linejoin="miter"/>
<polygon points="385.73,365.96 389.43,372.36 382.03,372.36" fill="none" stroke="#a9062c" stroke-width="0.95" stroke-linejoin="miter"/>
<polygon points="388.9,365.56 392.6,371.96 385.2,371.96" fill="none" stroke="#a9062c" stroke-width="0.95" stroke-linejoin="miter"/>
<polygon points="385.97,364.28 389.67,370.68 382.27,370.68" fill="none" stroke="#a9062c" stroke-width="0.95" stroke-linejoin="miter"/>
<polygon points="388.76,350.93 392.46,357.33 385.06,357.33" fill="none" stroke="#a9062c" stroke-width="0.95" stroke-linejoin="miter"/>
<polygon points="389.2,353.12 392.9,359.52 385.5,359.52" fill="none" stroke="#a9062c" stroke-width="0.95" stroke-linejoin="miter"/>
<polygon points="389.48,357.73 393.18,364.13 385.78,364.13" fill="none" stroke="#a9062c" stroke-width="0.95" stroke-linejoin="miter"/>
<polygon points="389.39,370.11 393.09,376.51 385.69,376.51" fill="none" stroke="#a9062c" stroke-width="0.95" stroke-linejoin="miter"/>
<polygon points="386.52,363.97 390.22,370.37 382.82,370.37" fill="none" stroke="#a9062c" stroke-width="0.95" stroke-linejoin="miter"/>
<polygon points="391.75,358.79 395.45,365.19 388.05,365.19" fill="none" stroke="#a9062c" stroke-width="0.95" stroke-linejoin="miter"/>
<polygon points="387.74,356.58 391.44,362.98 384.04,362.98" fill="none" stroke="#a9062c" stroke-width="0.95" stroke-linejoin="miter"/>
<polygon points="389.16,362.89 392.86,369.29 385.46,369.29" fill="none" stroke="#a9062c" stroke-width="0.95" stroke-linejoin="miter"/>
<polygon points="387.77,371.25 391.47,377.65 384.07,377.65" fill="none" stroke="#a9062c" stroke-width="0.95" stroke-linejoin="miter"/>
<polygon points="387.14,376.09 390.84,382.49 383.44,382.49" fill="none" stroke="#a9062c" stroke-width="0.95" stroke-linejoin="miter"/>
<polygon points="389.15,371.24 392.85,377.64 385.45,377.64" fill="none" stroke="#a9062c" stroke-width="0.95" stroke-linejoin="miter"/>
<polygon points="387.43,374.35 391.13,380.75 383.73,380.75" fill="none" stroke="#a9062c" stroke-width="0.95" stroke-linejoin="miter"/>
<polygon points="391.62,368.4 395.32,374.8 387.92,374.8" fill="none" stroke="#a9062c" stroke-width="0.95" stroke-linejoin="miter"/>
<polygon points="386.25,367.78 389.95,374.18 382.55,374.18" fill="none" stroke="#a9062c" stroke-width="0.95" stroke-linejoin="miter"/>
<polygon points="390.59,374.91 394.29,381.31 386.89,381.31" fill="none" stroke="#a9062c" stroke-width="0.95" stroke-linejoin="miter"/>
<polygon points="389.52,352.15 393.22,358.55 385.82,358.55" fill="none" stroke="#a9062c" stroke-width="0.95" stroke-linejoin="miter"/>
<polygon points="388.14,351.26 391.84,357.66 384.44,357.66" fill="none" stroke="#a9062c" stroke-width="0.95" stroke-linejoin="miter"/>
<polygon points="389.9,371.38 393.6,377.78 386.2,377.78" fill="none" stroke="#a9062c" stroke-width="0.95" stroke-linejoin="miter"/>
<polygon points="389.27,375.93 392.97,382.33 385.57,382.33" fill="none" stroke="#a9062c" stroke-width="0.95" stroke-linejoin="miter"/>
<polygon points="388.6,377.93 392.3,384.33 384.9,384.33" fill="none" stroke="#24418a" stroke-width="0.95" stroke-linejoin="miter"/>
<rect x="57" y="47.9" width="61.7" height="155.9" fill="none" stroke="#262626" stroke-width="1.6"/>
<rect x="124.6" y="47.9" width="216" height="155.9" fill="none" stroke="#262626" stroke-width="1.6"/>
<rect x="346.3" y="47.9" width="62.4" height="155.9" fill="none" stroke="#262626" stroke-width="1.6"/>
<rect x="57" y="246.7" width="61.7" height="143.5" fill="none" stroke="#262626" stroke-width="1.6"/>
<rect x="124.6" y="246.7" width="216" height="143.5" fill="none" stroke="#262626" stroke-width="1.6"/>
<rect x="346.3" y="246.7" width="62.4" height="143.5" fill="none" stroke="#262626" stroke-width="1.6"/>
<text x="444.9" y="69.2" font-size="7.45" text-anchor="start" font-weight="normal" fill="#111" textLength="67.4" lengthAdjust="spacingAndGlyphs" stroke="#111" stroke-width="0.2">Experiment Location</text>
<rect x="444.8" y="75.0" width="7.2" height="6.9" fill="#27427f" stroke="#16306e" stroke-width="0.8"/>
<text x="455.7" y="80.8" font-size="7.6" text-anchor="start" font-weight="normal" fill="#111" textLength="52.2" lengthAdjust="spacingAndGlyphs" stroke="#111" stroke-width="0.2">Within Stanford</text>
<rect x="444.8" y="92.1" width="7.2" height="6.9" fill="#a6022b" stroke="#950022" stroke-width="0.8"/>
<text x="455.7" y="97.8" font-size="7.6" text-anchor="start" font-weight="normal" fill="#111" textLength="40.9" lengthAdjust="spacingAndGlyphs" stroke="#111" stroke-width="0.2">Across sites</text>
<text x="447.6" y="190.5" font-size="7.5" text-anchor="start" font-weight="normal" fill="#111" textLength="36.9" lengthAdjust="spacingAndGlyphs" stroke="#111" stroke-width="0.2">TCR Chain</text>
<line x1="453.7" y1="196.2" x2="453.7" y2="211.8" stroke="#262626" stroke-width="1.1"/>
<rect x="447.2" y="198.5" width="13" height="8.3" fill="#afbd86"/>
<line x1="447.2" y1="202.7" x2="460.2" y2="202.7" stroke="#111" stroke-width="1.6"/>
<circle cx="453.7" cy="202.7" r="2.7" fill="none" stroke="#111" stroke-width="1.2"/>
<text x="464.1" y="205" font-size="7.6" text-anchor="start" font-weight="normal" fill="#111"  stroke="#111" stroke-width="0.2">TRA</text>
<line x1="453.7" y1="213.2" x2="453.7" y2="216.2" stroke="#262626" stroke-width="1.1"/>
<rect x="447.2" y="216.1" width="13" height="7.5" fill="#c6c4cb"/>
<line x1="447.2" y1="219.8" x2="460.2" y2="219.8" stroke="#111" stroke-width="1.6"/>
<polygon points="453.7,215.64 457.3,222.84 450.1,222.84" fill="none" stroke="#111" stroke-width="1.2" stroke-linejoin="miter"/>
<text x="464.1" y="222" font-size="7.6" text-anchor="start" font-weight="normal" fill="#111"  stroke="#111" stroke-width="0.2">TRB</text>
<text x="12" y="437.8" font-size="13.2" text-anchor="start" font-weight="bold" fill="#000" stroke="#000" stroke-width="0.45">B</text>
<text x="183.15" y="440.7" font-size="9.7" text-anchor="middle" font-weight="normal" fill="#111" textLength="99.9" lengthAdjust="spacingAndGlyphs" stroke="#111" stroke-width="0.2">Frequency Distribution:</text>
<text x="182.9" y="452.2" font-size="9.7" text-anchor="middle" font-weight="normal" fill="#111" textLength="77.3" lengthAdjust="spacingAndGlyphs" stroke="#111" stroke-width="0.2">Donor Graft T cell</text>
<text x="393" y="440.7" font-size="9.7" text-anchor="middle" font-weight="normal" fill="#111" textLength="99.9" lengthAdjust="spacingAndGlyphs" stroke="#111" stroke-width="0.2">Frequency Distribution:</text>
<text x="393" y="452.2" font-size="9.7" text-anchor="middle" font-weight="normal" fill="#111"  stroke="#111" stroke-width="0.2">Donor GI Tract (pooled TRA clones)</text>
<circle class="c0" cx="89.9" cy="513.4" r="2"/>
<circle class="c1" cx="89.9" cy="521.3" r="2"/>
<circle class="c2" cx="89.9" cy="525.3" r="2"/>
<circle class="c3" cx="89.9" cy="528.5" r="2"/>
<circle cx="89.9" cy="530" r="1.75" fill="rgba(60,88,160,0.02)"/>
<circle cx="89.9" cy="530.42" r="1.75" fill="rgba(60,88,160,0.02)"/>
<circle cx="89.9" cy="530.84" r="1.75" fill="rgba(60,88,160,0.03)"/>
<circle cx="89.9" cy="531.26" r="1.75" fill="rgba(60,88,160,0.04)"/>
<circle cx="89.9" cy="531.68" r="1.75" fill="rgba(60,88,160,0.05)"/>
<circle cx="89.9" cy="532.1" r="1.75" fill="rgba(60,88,160,0.05)"/>
<circle cx="89.9" cy="532.52" r="1.75" fill="rgba(60,88,160,0.06)"/>
<circle cx="89.9" cy="532.94" r="1.75" fill="rgba(60,88,160,0.07)"/>
<circle cx="89.9" cy="533.36" r="1.75" fill="rgba(60,88,160,0.08)"/>
<circle cx="89.9" cy="533.78" r="1.75" fill="rgba(60,88,160,0.08)"/>
<circle cx="89.9" cy="534.2" r="1.75" fill="rgba(60,88,160,0.09)"/>
<circle cx="89.9" cy="534.62" r="1.75" fill="rgba(60,88,160,0.1)"/>
<circle cx="89.9" cy="535.04" r="1.75" fill="rgba(60,88,160,0.11)"/>
<circle cx="89.9" cy="535.46" r="1.75" fill="rgba(60,88,160,0.11)"/>
<circle cx="89.9" cy="535.88" r="1.75" fill="rgba(60,88,160,0.12)"/>
<circle cx="89.9" cy="536.3" r="1.75" fill="rgba(60,88,160,0.13)"/>
<circle cx="89.9" cy="536.72" r="1.75" fill="rgba(60,88,160,0.14)"/>
<circle cx="89.9" cy="537.14" r="1.75" fill="rgba(60,88,160,0.14)"/>
<circle cx="89.9" cy="537.56" r="1.75" fill="rgba(60,88,160,0.15)"/>
<circle cx="89.9" cy="537.98" r="1.75" fill="rgba(60,88,160,0.16)"/>
<circle cx="89.9" cy="538.4" r="1.75" fill="rgba(60,88,160,0.16)"/>
<circle cx="89.9" cy="538.82" r="1.75" fill="rgba(60,88,160,0.17)"/>
<circle cx="89.9" cy="539.24" r="1.75" fill="rgba(60,88,160,0.18)"/>
<circle cx="89.9" cy="539.66" r="1.75" fill="rgba(60,88,160,0.19)"/>
<circle cx="89.9" cy="540.08" r="1.75" fill="rgba(60,88,160,0.19)"/>
<circle cx="89.9" cy="540.5" r="1.75" fill="rgba(60,88,160,0.19)"/>
<circle cx="89.9" cy="540.92" r="1.75" fill="rgba(60,88,160,0.19)"/>
<circle cx="89.9" cy="541.34" r="1.75" fill="rgba(60,88,160,0.19)"/>
<circle cx="89.9" cy="541.76" r="1.75" fill="rgba(60,88,160,0.19)"/>
<circle cx="89.9" cy="542.18" r="1.75" fill="rgba(60,88,160,0.19)"/>
<circle cx="89.9" cy="542.6" r="1.75" fill="rgba(60,88,160,0.19)"/>
<circle cx="89.9" cy="543.02" r="1.75" fill="rgba(60,88,160,0.19)"/>
<circle cx="89.9" cy="543.44" r="1.75" fill="rgba(60,88,160,0.19)"/>
<circle cx="89.9" cy="543.86" r="1.75" fill="rgba(60,88,160,0.19)"/>
<circle cx="89.9" cy="544.28" r="1.75" fill="rgba(60,88,160,0.19)"/>
<circle cx="89.9" cy="544.7" r="1.75" fill="rgba(60,88,160,0.19)"/>
<circle cx="89.9" cy="545.12" r="1.75" fill="rgba(60,88,160,0.19)"/>
<circle cx="89.9" cy="545.54" r="1.75" fill="rgba(60,88,160,0.19)"/>
<circle cx="89.9" cy="545.96" r="1.75" fill="rgba(60,88,160,0.19)"/>
<circle cx="89.9" cy="546.38" r="1.75" fill="rgba(60,88,160,0.19)"/>
<circle cx="89.9" cy="546.8" r="1.75" fill="rgba(60,88,160,0.19)"/>
<circle cx="89.9" cy="547.22" r="1.75" fill="rgba(60,88,160,0.19)"/>
<circle cx="89.9" cy="547.64" r="1.75" fill="rgba(60,88,160,0.19)"/>
<circle cx="89.9" cy="548.06" r="1.75" fill="rgba(60,88,160,0.19)"/>
<circle cx="89.9" cy="548.48" r="1.75" fill="rgba(60,88,160,0.19)"/>
<circle cx="89.9" cy="548.9" r="1.75" fill="rgba(60,88,160,0.19)"/>
<circle cx="89.9" cy="549.32" r="1.75" fill="rgba(60,88,160,0.19)"/>
<circle cx="89.9" cy="549.74" r="1.75" fill="rgba(60,88,160,0.19)"/>
<circle cx="89.9" cy="550.16" r="1.75" fill="rgba(60,88,160,0.19)"/>
<circle cx="89.9" cy="550.58" r="1.75" fill="rgba(60,88,160,0.19)"/>
<circle cx="89.9" cy="551" r="1.75" fill="rgba(60,88,160,0.19)"/>
<circle cx="89.9" cy="551.42" r="1.75" fill="rgba(60,88,160,0.19)"/>
<circle cx="89.9" cy="551.84" r="1.75" fill="rgba(60,88,160,0.19)"/>
<circle cx="89.9" cy="552.26" r="1.75" fill="rgba(60,88,160,0.19)"/>
<circle cx="89.9" cy="552.68" r="1.75" fill="rgba(60,88,160,0.19)"/>
<circle cx="89.9" cy="553.1" r="1.75" fill="rgba(60,88,160,0.19)"/>
<circle cx="89.9" cy="553.52" r="1.75" fill="rgba(60,88,160,0.19)"/>
<circle cx="89.9" cy="553.94" r="1.75" fill="rgba(60,88,160,0.19)"/>
<circle cx="89.9" cy="554.36" r="1.75" fill="rgba(60,88,160,0.19)"/>
<circle cx="89.9" cy="554.78" r="1.75" fill="rgba(60,88,160,0.19)"/>
<circle cx="89.9" cy="555.2" r="1.75" fill="rgba(60,88,160,0.19)"/>
<circle cx="89.9" cy="555.62" r="1.75" fill="rgba(60,88,160,0.19)"/>
<circle cx="89.9" cy="556.04" r="1.75" fill="rgba(60,88,160,0.19)"/>
<circle cx="89.9" cy="556.46" r="1.75" fill="rgba(60,88,160,0.19)"/>
<circle cx="89.9" cy="556.88" r="1.75" fill="rgba(60,88,160,0.19)"/>
<circle cx="89.9" cy="557.3" r="1.75" fill="rgba(60,88,160,0.19)"/>
<circle cx="89.9" cy="557.72" r="1.75" fill="rgba(60,88,160,0.19)"/>
<circle cx="89.9" cy="558.14" r="1.75" fill="rgba(60,88,160,0.19)"/>
<circle cx="89.9" cy="558.56" r="1.75" fill="rgba(60,88,160,0.19)"/>
<circle cx="89.9" cy="558.98" r="1.75" fill="rgba(60,88,160,0.19)"/>
<rect x="88.15" y="537" width="3.5" height="23" rx="1.7" fill="#4861a3"/>
<circle cx="89.9" cy="563.1" r="1.7" fill="#304d98"/>
<circle cx="89.9" cy="568.3" r="1.7" fill="#304d98"/>
<circle cx="89.9" cy="575.9" r="1.7" fill="#304d98"/>
<circle cx="122.6" cy="613" r="1.6" fill="#6f0d10"/>
<circle cx="133.3" cy="613" r="1.6" fill="#6f0d10"/>
<circle cx="139.5" cy="613" r="1.6" fill="#6f0d10"/>
<circle cx="143.8" cy="613" r="1.6" fill="#6f0d10"/>
<circle cx="146.9" cy="613" r="1.6" fill="#6f0d10"/>
<path d="M148.5,611.4 L209,611 A2.0,2.0 0 0 1 209,615 L148.5,614.6 A1.6,1.6 0 0 1 148.5,611.4 Z" fill="#720c10"/>
<circle cx="210" cy="613.0" r="1.8" fill="rgba(140,20,25,0.3)"/>
<circle cx="210.8" cy="613.0" r="1.8" fill="rgba(140,20,25,0.27)"/>
<circle cx="211.6" cy="613.0" r="1.8" fill="rgba(140,20,25,0.25)"/>
<circle cx="212.4" cy="613.0" r="1.8" fill="rgba(140,20,25,0.22)"/>
<circle cx="213.2" cy="613.0" r="1.8" fill="rgba(140,20,25,0.2)"/>
<circle cx="214" cy="613.0" r="1.8" fill="rgba(140,20,25,0.17)"/>
<circle cx="214.8" cy="613.0" r="1.8" fill="rgba(140,20,25,0.15)"/>
<circle cx="215.6" cy="613.0" r="1.8" fill="rgba(140,20,25,0.12)"/>
<circle cx="216.4" cy="613.0" r="1.8" fill="rgba(140,20,25,0.1)"/>
<circle cx="217.2" cy="613.0" r="1.8" fill="rgba(140,20,25,0.07)"/>
<rect x="120.95" y="536.3" width="3.3" height="24.5" rx="1.6" fill="#0e0c0b"/>
<circle cx="122.6" cy="563.3" r="1.65" fill="#0e0c0b"/>
<circle cx="122.6" cy="568.2" r="1.65" fill="#0e0c0b"/>
<circle cx="122.6" cy="576.3" r="1.65" fill="#0e0c0b"/>
<circle class="c4" cx="122.6" cy="535.3" r="1.9"/>
<circle class="c4" cx="122.6" cy="533.8" r="1.9"/>
<circle class="c4" cx="122.6" cy="532.3" r="1.9"/>
<circle class="c4" cx="122.6" cy="530.8" r="1.9"/>
<rect x="131.65" y="533.8" width="3.3" height="27" rx="1.6" fill="#0e0c0b"/>
<circle cx="133.3" cy="563.3" r="1.65" fill="#0e0c0b"/>
<circle cx="133.3" cy="568.2" r="1.65" fill="#0e0c0b"/>
<circle cx="133.3" cy="576.3" r="1.65" fill="#0e0c0b"/>
<circle class="c4" cx="133.3" cy="532.8" r="1.9"/>
<circle class="c4" cx="133.3" cy="531.3" r="1.9"/>
<circle class="c4" cx="133.3" cy="529.8" r="1.9"/>
<circle class="c4" cx="133.3" cy="528.3" r="1.9"/>
<rect x="137.85" y="533.8" width="3.3" height="27" rx="1.6" fill="#0e0c0b"/>
<circle cx="139.5" cy="563.3" r="1.65" fill="#0e0c0b"/>
<circle cx="139.5" cy="568.2" r="1.65" fill="#0e0c0b"/>
<circle cx="139.5" cy="576.3" r="1.65" fill="#0e0c0b"/>
<circle class="c4" cx="139.5" cy="532.8" r="1.9"/>
<circle class="c4" cx="139.5" cy="531.3" r="1.9"/>
<circle class="c4" cx="139.5" cy="529.8" r="1.9"/>
<circle class="c4" cx="139.5" cy="528.3" r="1.9"/>
<rect x="142.15" y="537.5" width="3.3" height="23.3" rx="1.6" fill="#0e0c0b"/>
<circle cx="143.8" cy="563.3" r="1.65" fill="#0e0c0b"/>
<circle cx="143.8" cy="568.2" r="1.65" fill="#0e0c0b"/>
<circle cx="143.8" cy="576.3" r="1.65" fill="#0e0c0b"/>
<circle class="c4" cx="143.8" cy="536.5" r="1.9"/>
<circle class="c4" cx="143.8" cy="535" r="1.9"/>
<circle class="c4" cx="143.8" cy="533.5" r="1.9"/>
<circle class="c4" cx="143.8" cy="532" r="1.9"/>
<circle class="c5" cx="122.7" cy="526.9" r="2"/>
<circle class="c5" cx="122.7" cy="533.6" r="2"/>
<circle class="c5" cx="133.4" cy="531" r="2"/>
<circle class="c5" cx="139.5" cy="530.5" r="2"/>
<circle class="c5" cx="144.5" cy="518.3" r="2"/>
<circle class="c5" cx="147.7" cy="518.3" r="2"/>
<circle class="c5" cx="144.2" cy="523" r="2"/>
<circle class="c5" cx="147" cy="526" r="2"/>
<circle class="c5" cx="158.5" cy="514.8" r="2"/>
<circle class="c5" cx="166.5" cy="519" r="2"/>
<circle class="c5" cx="179.5" cy="516" r="2"/>
<circle class="c5" cx="149.7" cy="530" r="2"/>
<rect x="145.2" y="574.65" width="63.1" height="3.3" rx="1.6" fill="#0e0c0b"/>
<rect x="145.2" y="566.55" width="66.1" height="3.3" rx="1.6" fill="#0e0c0b"/>
<rect x="145.2" y="561.65" width="71.3" height="3.3" rx="1.6" fill="#0e0c0b"/>
<circle class="c6" cx="212" cy="576.3" r="2.1"/>
<circle class="c6" cx="216.7" cy="576.3" r="2.1"/>
<circle class="c6" cx="215" cy="568.2" r="2.1"/>
<circle class="c6" cx="221.3" cy="568.2" r="2.1"/>
<circle class="c6" cx="219.5" cy="563.3" r="2.1"/>
<polygon points="145.2,562.2 145.2,540 150,537.4 155,535.6 160,533 165,531.6 170,529.8 175,528 180,526.3 185,524.4 190,521.4 195,519 200,516.6 205,513.8 209,512 211,512.6 211.5,518 210,525 208,535 206.5,545 205.5,555 204.5,562.2" fill="#0e0c0b"/>
<circle class="c7" cx="189.48" cy="521.28" r="1.91"/>
<circle class="c7" cx="196.08" cy="518.92" r="2.14"/>
<circle class="c7" cx="206.67" cy="512.49" r="1.81"/>
<circle class="c7" cx="160.87" cy="532.65" r="2.05"/>
<circle class="c7" cx="147.8" cy="538.59" r="2.07"/>
<circle class="c7" cx="160.99" cy="531.54" r="2.09"/>
<circle class="c7" cx="201.04" cy="514.27" r="2.15"/>
<circle class="c7" cx="169.14" cy="530.61" r="1.88"/>
<circle class="c7" cx="211.09" cy="513.88" r="1.85"/>
<circle class="c7" cx="203.63" cy="514.68" r="2.1"/>
<circle class="c7" cx="200.88" cy="516.5" r="2.29"/>
<circle class="c7" cx="171.74" cy="528.17" r="2.08"/>
<circle class="c7" cx="202.4" cy="513.95" r="2.09"/>
<circle class="c7" cx="193.91" cy="518.37" r="1.82"/>
<circle class="c7" cx="161.5" cy="533.05" r="1.92"/>
<circle class="c7" cx="152.87" cy="536.45" r="1.94"/>
<circle class="c7" cx="189.23" cy="521.64" r="1.9"/>
<circle class="c7" cx="164.15" cy="531.5" r="2.27"/>
<circle class="c7" cx="190.07" cy="521.35" r="2.16"/>
<circle class="c7" cx="157.11" cy="534.6" r="1.99"/>
<circle class="c7" cx="189.52" cy="520.44" r="2.22"/>
<circle class="c7" cx="198.77" cy="517.1" r="1.91"/>
<circle class="c7" cx="148.18" cy="538.57" r="1.91"/>
<circle class="c7" cx="210.12" cy="511.99" r="2.24"/>
<circle class="c7" cx="167.4" cy="530.61" r="2.26"/>
<circle class="c7" cx="177.2" cy="526.77" r="1.93"/>
<circle class="c7" cx="162.77" cy="531.88" r="2.09"/>
<circle class="c7" cx="207.05" cy="513.09" r="2"/>
<circle class="c7" cx="160.91" cy="531.79" r="1.85"/>
<circle class="c7" cx="149.2" cy="538.41" r="1.85"/>
<circle class="c7" cx="188.67" cy="522.44" r="1.83"/>
<circle class="c7" cx="171.95" cy="528.38" r="2.3"/>
<circle class="c7" cx="181.98" cy="523.61" r="1.81"/>
<circle class="c7" cx="195.01" cy="519.13" r="2.14"/>
<circle class="c7" cx="182.51" cy="525.75" r="1.86"/>
<circle class="c7" cx="175.56" cy="526.56" r="2.03"/>
<circle class="c7" cx="210.86" cy="512.44" r="2.05"/>
<circle class="c7" cx="158.15" cy="533.85" r="2.26"/>
<circle class="c7" cx="205.2" cy="513.76" r="2.1"/>
<circle class="c7" cx="156.39" cy="533.71" r="2.18"/>
<circle class="c7" cx="182.68" cy="525.6" r="1.8"/>
<circle class="c7" cx="168.04" cy="529.53" r="1.81"/>
<circle class="c7" cx="209.18" cy="510.88" r="1.95"/>
<circle class="c7" cx="149.94" cy="536.34" r="2.24"/>
<circle class="c7" cx="210.39" cy="511.73" r="1.83"/>
<circle class="c7" cx="197.72" cy="517.53" r="2.18"/>
<circle class="c7" cx="154.73" cy="534.67" r="1.93"/>
<circle class="c7" cx="205.33" cy="514" r="2.01"/>
<circle class="c7" cx="160.4" cy="531.45" r="1.9"/>
<circle class="c7" cx="167.2" cy="530.9" r="2.3"/>
<circle class="c7" cx="190.19" cy="520.46" r="1.86"/>
<circle class="c7" cx="161.28" cy="532.65" r="1.97"/>
<circle class="c7" cx="186" cy="524.28" r="1.84"/>
<circle class="c7" cx="188.92" cy="521.74" r="1.91"/>
<circle class="c7" cx="207.57" cy="512.93" r="1.92"/>
<circle class="c7" cx="191.49" cy="520.9" r="1.91"/>
<circle class="c7" cx="155" cy="534.65" r="2.04"/>
<circle class="c7" cx="199.35" cy="516.84" r="2.2"/>
<circle class="c7" cx="158.95" cy="533.01" r="2.01"/>
<circle class="c7" cx="177.76" cy="526.87" r="2.16"/>
<circle class="c7" cx="191.79" cy="520.55" r="2"/>
<circle class="c7" cx="169.07" cy="530.68" r="2.23"/>
<circle class="c7" cx="162.91" cy="532.27" r="2.01"/>
<circle class="c7" cx="164.94" cy="530.9" r="1.92"/>
<circle class="c7" cx="208.78" cy="510.28" r="2.08"/>
<circle class="c7" cx="149.44" cy="537.4" r="2.3"/>
<circle class="c7" cx="202.85" cy="512.69" r="2.22"/>
<circle class="c7" cx="157.31" cy="534.42" r="2.04"/>
<circle class="c7" cx="160.53" cy="533.08" r="1.99"/>
<circle class="c7" cx="164.03" cy="532.21" r="2.19"/>
<circle class="c7" cx="176.94" cy="525.05" r="2.3"/>
<circle class="c7" cx="183.79" cy="523.94" r="2.16"/>
<circle class="c7" cx="156.53" cy="534.42" r="2.09"/>
<circle class="c7" cx="182.87" cy="522.53" r="2.17"/>
<circle class="c7" cx="149.89" cy="536.73" r="2.23"/>
<circle class="c7" cx="156.71" cy="534.54" r="2.28"/>
<circle class="c7" cx="151.45" cy="536.79" r="2.14"/>
<circle class="c7" cx="161.99" cy="531.43" r="1.86"/>
<circle class="c7" cx="206.54" cy="513.67" r="2.11"/>
<circle class="c7" cx="174.51" cy="527.03" r="2.09"/>
<circle class="c7" cx="181.55" cy="525.51" r="2.16"/>
<circle class="c7" cx="162.23" cy="532.62" r="2"/>
<circle class="c7" cx="191.67" cy="520.85" r="2.18"/>
<circle class="c7" cx="150.93" cy="536.59" r="2.03"/>
<circle class="c7" cx="150.98" cy="537.41" r="2.27"/>
<circle class="c7" cx="205.9" cy="513" r="2.24"/>
<circle class="c7" cx="171.13" cy="528.65" r="2.15"/>
<circle class="c7" cx="187.59" cy="521.38" r="2.29"/>
<circle class="c7" cx="190.47" cy="519.38" r="1.95"/>
<circle class="c7" cx="191.11" cy="521.35" r="2.27"/>
<circle class="c7" cx="155.13" cy="535.67" r="2.08"/>
<circle class="c7" cx="164.52" cy="531.92" r="2.1"/>
<circle class="c7" cx="194.8" cy="519.17" r="1.93"/>
<circle class="c7" cx="179.22" cy="525.4" r="2.25"/>
<circle class="c7" cx="203.54" cy="514.08" r="1.94"/>
<circle class="c7" cx="146.24" cy="539.29" r="2.19"/>
<circle class="c7" cx="189.32" cy="522.25" r="2.08"/>
<circle class="c7" cx="175.08" cy="526.44" r="1.8"/>
<circle class="c7" cx="151.12" cy="535.51" r="2.07"/>
<circle class="c7" cx="202.75" cy="513.77" r="2.09"/>
<circle class="c7" cx="156.07" cy="534.87" r="2.25"/>
<circle class="c7" cx="200.14" cy="516.32" r="2.23"/>
<circle class="c7" cx="207.13" cy="513.2" r="1.85"/>
<circle class="c7" cx="199.05" cy="516.7" r="2.24"/>
<circle class="c7" cx="173.63" cy="528.54" r="2.26"/>
<circle class="c7" cx="204.79" cy="514" r="2.29"/>
<circle class="c7" cx="201.13" cy="516.35" r="2.17"/>
<circle class="c7" cx="168.59" cy="530.71" r="2.27"/>
<circle class="c7" cx="200.55" cy="515.33" r="1.93"/>
<circle class="c7" cx="199.54" cy="515.63" r="1.85"/>
<circle class="c7" cx="205.31" cy="513.68" r="2.21"/>
<circle class="c7" cx="177.3" cy="527.1" r="1.95"/>
<circle class="c7" cx="200.08" cy="517.11" r="1.9"/>
<circle class="c7" cx="168.32" cy="530.72" r="2.23"/>
<circle class="c7" cx="164.98" cy="531.38" r="2.29"/>
<circle class="c7" cx="182.46" cy="524.94" r="2.27"/>
<circle class="c7" cx="153.84" cy="535.82" r="2.28"/>
<circle class="c7" cx="164.05" cy="532.31" r="1.85"/>
<circle class="c7" cx="175.55" cy="528.26" r="2.1"/>
<circle class="c7" cx="180.78" cy="525.49" r="1.99"/>
<circle class="c7" cx="185.21" cy="524.81" r="1.8"/>
<circle class="c7" cx="208.94" cy="510.59" r="2.07"/>
<circle class="c7" cx="194.92" cy="519.54" r="1.98"/>
<circle class="c7" cx="150.76" cy="535.79" r="2.13"/>
<circle class="c7" cx="168.45" cy="529.97" r="2.16"/>
<circle class="c7" cx="166.42" cy="529.37" r="1.95"/>
<circle class="c7" cx="173.77" cy="528.15" r="1.86"/>
<circle class="c7" cx="174.59" cy="528.12" r="2.27"/>
<circle class="c7" cx="192.06" cy="519.54" r="1.95"/>
<circle class="c7" cx="183.26" cy="524.63" r="1.8"/>
<circle class="c7" cx="165.51" cy="530.47" r="2.13"/>
<circle class="c7" cx="177.62" cy="526.98" r="2.02"/>
<circle class="c7" cx="160.53" cy="530.69" r="2.2"/>
<circle class="c7" cx="157.54" cy="534.41" r="1.84"/>
<circle class="c7" cx="181.05" cy="525.71" r="2.21"/>
<circle class="c7" cx="197.08" cy="517.73" r="2.14"/>
<circle class="c7" cx="161.28" cy="533.15" r="1.92"/>
<circle class="c7" cx="178.31" cy="527.2" r="2.22"/>
<circle class="c7" cx="150.95" cy="536.08" r="1.9"/>
<circle class="c7" cx="193.35" cy="519.45" r="2.05"/>
<circle class="c7" cx="162.59" cy="532.8" r="2.18"/>
<circle class="c7" cx="198.36" cy="517.87" r="1.85"/>
<circle class="c7" cx="174.91" cy="527.16" r="2.06"/>
<circle class="c7" cx="149.41" cy="535.39" r="1.92"/>
<circle class="c7" cx="203.69" cy="512.88" r="2.13"/>
<circle class="c7" cx="186.49" cy="523.47" r="2.28"/>
<circle class="c7" cx="206.62" cy="512.1" r="2.05"/>
<circle class="c7" cx="202.48" cy="514.46" r="2.07"/>
<circle class="c7" cx="207.01" cy="513.44" r="1.93"/>
<circle class="c7" cx="162.81" cy="531.34" r="2.12"/>
<circle class="c7" cx="198.08" cy="516.32" r="1.94"/>
<circle class="c7" cx="151.27" cy="537.3" r="1.94"/>
<circle class="c7" cx="164.48" cy="531.66" r="1.87"/>
<circle class="c7" cx="161.73" cy="531.65" r="2.15"/>
<circle class="c7" cx="194.04" cy="518.84" r="2.07"/>
<circle class="c7" cx="174.27" cy="528.34" r="1.9"/>
<circle class="c7" cx="174.57" cy="527.33" r="2.15"/>
<circle class="c7" cx="204.26" cy="513.85" r="2.18"/>
<circle class="c7" cx="171.87" cy="528.52" r="2.18"/>
<circle class="c7" cx="204.03" cy="514.9" r="2.28"/>
<circle class="c7" cx="174.49" cy="528.76" r="2.1"/>
<circle class="c7" cx="161" cy="531.69" r="1.91"/>
<circle class="c7" cx="175.64" cy="527.23" r="2.14"/>
<circle class="c7" cx="173.49" cy="528.93" r="1.88"/>
<circle class="c7" cx="177.78" cy="526.39" r="1.81"/>
<circle class="c7" cx="172.79" cy="528.09" r="2.08"/>
<circle class="c7" cx="147.84" cy="538.73" r="2.03"/>
<circle class="c7" cx="149.42" cy="537.77" r="1.99"/>
<circle class="c7" cx="160.39" cy="532.47" r="1.99"/>
<circle class="c7" cx="197.14" cy="516.63" r="2.22"/>
<circle class="c7" cx="163.15" cy="532.49" r="2.07"/>
<circle class="c7" cx="169.8" cy="530.35" r="2.13"/>
<circle class="c7" cx="199.12" cy="516.36" r="2.27"/>
<circle class="c7" cx="159.56" cy="532.05" r="1.81"/>
<circle class="c7" cx="156.36" cy="534.13" r="2.08"/>
<circle class="c7" cx="160.82" cy="531.99" r="2.15"/>
<circle class="c7" cx="198.15" cy="517.21" r="2.17"/>
<circle class="c7" cx="153.79" cy="535.09" r="2.21"/>
<circle class="c7" cx="153.35" cy="535.68" r="2.14"/>
<circle class="c7" cx="211.16" cy="514.7" r="2"/>
<circle class="c7" cx="194.62" cy="518.01" r="2.11"/>
<circle class="c7" cx="152.93" cy="536.03" r="2.19"/>
<circle class="c7" cx="203.82" cy="514.53" r="2.29"/>
<circle class="c7" cx="199.22" cy="517.19" r="1.97"/>
<circle class="c7" cx="175.13" cy="527.5" r="1.97"/>
<circle class="c7" cx="203.77" cy="513.97" r="2.21"/>
<circle class="c7" cx="153.18" cy="535.07" r="2.21"/>
<circle class="c7" cx="194.1" cy="519.58" r="2.02"/>
<circle class="c7" cx="195.9" cy="518.16" r="2.2"/>
<circle class="c7" cx="182.6" cy="525.69" r="2.04"/>
<circle class="c7" cx="175.62" cy="528.27" r="2.23"/>
<circle class="c7" cx="202.49" cy="514.79" r="1.84"/>
<circle class="c7" cx="205.95" cy="513.92" r="2.11"/>
<circle class="c7" cx="171.77" cy="528.31" r="1.81"/>
<circle class="c7" cx="203.86" cy="514.66" r="2.2"/>
<circle class="c7" cx="169.14" cy="529.89" r="2.24"/>
<circle class="c7" cx="193.68" cy="520.2" r="2.27"/>
<circle class="c7" cx="151.82" cy="537.16" r="2.16"/>
<circle class="c7" cx="179.22" cy="527.06" r="2.12"/>
<circle class="c7" cx="179.38" cy="525.12" r="2.2"/>
<circle class="c7" cx="152.33" cy="536.81" r="1.95"/>
<circle class="c7" cx="185.55" cy="522.71" r="2.04"/>
<circle class="c7" cx="182.1" cy="524.18" r="1.97"/>
<circle class="c7" cx="193.79" cy="519.21" r="1.94"/>
<circle class="c7" cx="163.1" cy="532.12" r="1.86"/>
<circle class="c7" cx="182.44" cy="525.39" r="2.18"/>
<circle class="c7" cx="158.59" cy="534.02" r="2.16"/>
<circle class="c7" cx="181.68" cy="524.8" r="1.94"/>
<circle class="c7" cx="152.84" cy="536.66" r="1.89"/>
<circle class="c7" cx="146.96" cy="538.77" r="2.07"/>
<circle class="c7" cx="164.65" cy="530.67" r="2.15"/>
<circle class="c7" cx="154.59" cy="536.08" r="2.23"/>
<circle class="c7" cx="179.38" cy="525.93" r="2.03"/>
<circle class="c7" cx="175.95" cy="527.06" r="1.89"/>
<circle class="c7" cx="149.49" cy="536.89" r="2.21"/>
<circle class="c7" cx="173.25" cy="528.69" r="1.84"/>
<circle class="c7" cx="188.8" cy="522.02" r="2.08"/>
<circle class="c7" cx="166.66" cy="531.36" r="2.3"/>
<circle class="c7" cx="154.05" cy="536.38" r="2.2"/>
<circle class="c7" cx="161.35" cy="531.46" r="2.06"/>
<circle class="c7" cx="176.63" cy="525.63" r="2.3"/>
<circle class="c7" cx="166.77" cy="530.66" r="2.11"/>
<circle class="c7" cx="187.45" cy="523.33" r="1.9"/>
<circle class="c7" cx="160.35" cy="530.35" r="2.13"/>
<circle class="c7" cx="156.68" cy="535.09" r="1.8"/>
<circle class="c7" cx="176.63" cy="527.59" r="2.1"/>
<circle class="c7" cx="165.81" cy="531.67" r="2.15"/>
<circle class="c7" cx="176.87" cy="525.94" r="2.14"/>
<circle class="c7" cx="208.83" cy="512.25" r="2.13"/>
<circle class="c7" cx="209.49" cy="510.98" r="2.01"/>
<circle class="c7" cx="183.03" cy="524.04" r="2.21"/>
<circle class="c7" cx="150.86" cy="535.42" r="1.88"/>
<circle class="c7" cx="166.92" cy="531.5" r="1.94"/>
<circle class="c7" cx="154.46" cy="534.71" r="2.14"/>
<circle class="c7" cx="193.58" cy="518.85" r="2.05"/>
<circle class="c7" cx="151.47" cy="536.93" r="1.82"/>
<circle class="c7" cx="175.38" cy="528.04" r="1.85"/>
<circle class="c7" cx="211.41" cy="516.74" r="2.22"/>
<circle class="c7" cx="185.11" cy="520.05" r="2.14"/>
<circle class="c7" cx="164.33" cy="530.83" r="1.82"/>
<circle class="c7" cx="197.43" cy="516.58" r="2.26"/>
<circle class="c7" cx="158.34" cy="534.11" r="2.09"/>
<circle class="c7" cx="189.17" cy="521.93" r="1.97"/>
<circle class="c7" cx="168.66" cy="530.85" r="2.14"/>
<circle class="c7" cx="204.33" cy="513.82" r="1.94"/>
<circle class="c7" cx="210.27" cy="511.23" r="2.21"/>
<circle class="c7" cx="183.41" cy="524.52" r="1.96"/>
<circle class="c7" cx="173.48" cy="528.83" r="2.06"/>
<circle class="c7" cx="190.72" cy="520.36" r="1.89"/>
<circle class="c7" cx="170.6" cy="529.83" r="2.18"/>
<circle class="c7" cx="188.53" cy="522.83" r="2.07"/>
<circle class="c7" cx="209.08" cy="511.75" r="2.02"/>
<circle class="c7" cx="193.48" cy="517.8" r="2.1"/>
<circle class="c7" cx="162.27" cy="530.55" r="1.88"/>
<circle class="c7" cx="183.46" cy="525.04" r="2.3"/>
<circle class="c7" cx="208.08" cy="512.83" r="2.03"/>
<circle class="c7" cx="153.99" cy="535.81" r="2.16"/>
<circle class="c7" cx="180.6" cy="525.34" r="1.94"/>
<circle class="c7" cx="202.76" cy="514.69" r="2.08"/>
<circle class="c7" cx="172.08" cy="529.53" r="2.26"/>
<circle class="c7" cx="180.56" cy="524.8" r="1.94"/>
<circle class="c7" cx="199.72" cy="515.55" r="2.01"/>
<circle class="c7" cx="209.53" cy="510.35" r="1.94"/>
<circle class="c7" cx="166.3" cy="531.61" r="2.09"/>
<circle class="c7" cx="179.3" cy="526.18" r="1.97"/>
<circle class="c7" cx="183.53" cy="524.26" r="2.07"/>
<circle class="c7" cx="176.96" cy="527.57" r="2.15"/>
<circle class="c7" cx="184.88" cy="524.29" r="1.92"/>
<circle class="c7" cx="198.74" cy="515.74" r="2.15"/>
<circle class="c7" cx="201.18" cy="515.96" r="1.99"/>
<circle class="c7" cx="191.13" cy="519.89" r="2.05"/>
<circle class="c7" cx="148.52" cy="535.5" r="2.05"/>
<circle class="c7" cx="186.13" cy="522.51" r="2.02"/>
<circle class="c7" cx="181.76" cy="524.3" r="2.03"/>
<circle class="c7" cx="195.13" cy="517.94" r="1.88"/>
<circle class="c7" cx="177.93" cy="526.59" r="2.28"/>
<circle class="c7" cx="169.02" cy="530.09" r="2.23"/>
<circle class="c7" cx="203.96" cy="513.22" r="2.23"/>
<circle class="c7" cx="171.84" cy="528.9" r="2.18"/>
<circle class="c7" cx="205.32" cy="512.36" r="1.82"/>
<circle class="c7" cx="150.65" cy="535.78" r="2.3"/>
<circle class="c7" cx="196.78" cy="516.6" r="2.02"/>
<circle class="c7" cx="152.69" cy="535.27" r="2.02"/>
<circle class="c7" cx="193.19" cy="518.5" r="2.25"/>
<circle class="c7" cx="149.13" cy="538.16" r="1.99"/>
<circle class="c7" cx="155.9" cy="534.69" r="2.07"/>
<circle class="c7" cx="184.48" cy="524.99" r="1.84"/>
<circle class="c7" cx="205.22" cy="513.54" r="2.11"/>
<circle class="c7" cx="162.38" cy="532.32" r="2.03"/>
<circle class="c7" cx="163.27" cy="532.31" r="1.93"/>
<circle class="c7" cx="146.64" cy="538.88" r="2.14"/>
<circle class="c7" cx="156.74" cy="532.66" r="2.02"/>
<circle class="c7" cx="169.5" cy="529" r="2.01"/>
<circle class="c7" cx="163.01" cy="531.79" r="2.22"/>
<circle class="c7" cx="159.55" cy="532.72" r="1.92"/>
<circle class="c7" cx="184.89" cy="524.05" r="2.09"/>
<circle class="c7" cx="166.08" cy="529.93" r="1.94"/>
<circle class="c7" cx="184.48" cy="524.93" r="2.14"/>
<circle class="c7" cx="196.64" cy="517.12" r="2.05"/>
<circle class="c7" cx="207.48" cy="512.74" r="1.94"/>
<circle class="c7" cx="200.32" cy="516.07" r="2.12"/>
<circle class="c7" cx="188.22" cy="522.31" r="2.14"/>
<circle class="c7" cx="195.02" cy="518.25" r="2.11"/>
<circle class="c7" cx="207.43" cy="511.22" r="2.12"/>
<circle class="c7" cx="167.01" cy="529.88" r="2.17"/>
<circle class="c7" cx="152.13" cy="536.61" r="1.95"/>
<circle class="c7" cx="196.83" cy="518.41" r="2.07"/>
<circle class="c7" cx="182.1" cy="525.48" r="2.26"/>
<circle class="c7" cx="202.47" cy="515.71" r="2.04"/>
<circle class="c7" cx="200.84" cy="514.31" r="2.17"/>
<circle class="c7" cx="169.03" cy="528.25" r="1.87"/>
<circle class="c7" cx="204.49" cy="512.48" r="2.16"/>
<circle class="c7" cx="200.71" cy="515.27" r="1.81"/>
<circle class="c7" cx="182.49" cy="524.24" r="2.03"/>
<circle class="c7" cx="191.75" cy="520.35" r="2.21"/>
<circle class="c7" cx="209.94" cy="511.36" r="1.85"/>
<circle class="c7" cx="161.9" cy="530.4" r="2.08"/>
<circle class="c7" cx="208.24" cy="512.52" r="1.91"/>
<circle class="c7" cx="150.3" cy="536.62" r="1.95"/>
<circle class="c7" cx="173.76" cy="526.5" r="1.87"/>
<circle class="c7" cx="210.35" cy="512.5" r="1.85"/>
<circle class="c7" cx="206.33" cy="512.37" r="1.87"/>
<circle class="c7" cx="176.85" cy="526.94" r="2.27"/>
<circle class="c7" cx="174.5" cy="526.9" r="2.17"/>
<circle class="c7" cx="156.51" cy="534.91" r="2.04"/>
<circle class="c7" cx="173.75" cy="528.75" r="2.28"/>
<circle class="c7" cx="148.22" cy="537.99" r="2.28"/>
<circle class="c7" cx="204.17" cy="513.84" r="1.85"/>
<circle class="c7" cx="192.63" cy="517.29" r="1.98"/>
<circle class="c7" cx="173.07" cy="528.3" r="1.89"/>
<circle class="c7" cx="154.31" cy="535.62" r="2.13"/>
<circle class="c7" cx="189.64" cy="521.05" r="2.1"/>
<circle class="c7" cx="147.45" cy="539.16" r="1.86"/>
<circle class="c7" cx="184.39" cy="524.29" r="1.83"/>
<circle class="c7" cx="198.03" cy="517.9" r="2.23"/>
<circle class="c7" cx="168.34" cy="530.12" r="1.87"/>
<circle class="c7" cx="207.24" cy="510.82" r="1.87"/>
<circle class="c7" cx="154.84" cy="536.21" r="1.93"/>
<circle class="c7" cx="157.87" cy="534.55" r="1.81"/>
<circle class="c7" cx="199.72" cy="517.08" r="1.92"/>
<circle class="c7" cx="168.02" cy="530.92" r="2.17"/>
<circle class="c7" cx="181.77" cy="525.85" r="2.17"/>
<circle class="c7" cx="178.38" cy="527.18" r="1.85"/>
<circle class="c7" cx="180.26" cy="525.26" r="2.27"/>
<circle class="c7" cx="148.95" cy="538.03" r="2.06"/>
<circle class="c7" cx="177.15" cy="525.32" r="2.28"/>
<circle class="c7" cx="150.14" cy="536.65" r="2.14"/>
<circle class="c7" cx="179.34" cy="526.95" r="2.25"/>
<circle class="c7" cx="151" cy="536.09" r="1.83"/>
<circle class="c7" cx="164.7" cy="531.42" r="2.12"/>
<circle class="c7" cx="183.29" cy="523.74" r="2.07"/>
<circle class="c7" cx="176.85" cy="524.23" r="2.1"/>
<circle class="c7" cx="152.74" cy="536.25" r="2.13"/>
<circle class="c7" cx="198.29" cy="515.59" r="2.16"/>
<circle class="c7" cx="160.62" cy="532.53" r="1.97"/>
<circle class="c7" cx="176.84" cy="527.69" r="2.01"/>
<circle class="c7" cx="152.47" cy="535.39" r="1.99"/>
<circle class="c7" cx="156.38" cy="534.63" r="2.26"/>
<circle class="c7" cx="150.57" cy="537.51" r="1.85"/>
<circle class="c7" cx="196.24" cy="518.5" r="2.21"/>
<circle class="c7" cx="183.83" cy="524.01" r="1.96"/>
<circle class="c7" cx="154.31" cy="535.58" r="1.98"/>
<circle class="c7" cx="191.24" cy="521.4" r="2.16"/>
<circle class="c7" cx="186.83" cy="521.29" r="1.98"/>
<circle class="c7" cx="185.3" cy="524.38" r="1.91"/>
<circle class="c7" cx="153.36" cy="534.94" r="2.22"/>
<circle class="c7" cx="170.99" cy="529.91" r="2.2"/>
<circle class="c7" cx="203.47" cy="513.56" r="2.29"/>
<circle class="c7" cx="201.65" cy="514.86" r="1.81"/>
<circle class="c7" cx="209.18" cy="511.43" r="2.21"/>
<circle class="c7" cx="164.19" cy="531.57" r="1.95"/>
<circle class="c7" cx="169.11" cy="528.89" r="1.8"/>
<circle class="c7" cx="205.15" cy="513.13" r="1.87"/>
<circle class="c7" cx="189.06" cy="522.03" r="1.82"/>
<circle class="c7" cx="196.74" cy="518.47" r="1.97"/>
<circle class="c7" cx="171.16" cy="528.66" r="2.16"/>
<circle class="c7" cx="198.82" cy="517.26" r="1.83"/>
<circle class="c7" cx="156.7" cy="535.09" r="2.11"/>
<circle class="c7" cx="191.83" cy="520.86" r="2.04"/>
<circle class="c7" cx="176.06" cy="526.34" r="1.94"/>
<circle class="c7" cx="197.34" cy="517.44" r="1.94"/>
<circle class="c7" cx="192.14" cy="520.07" r="2.04"/>
<circle class="c7" cx="191.37" cy="520.09" r="2.1"/>
<circle class="c7" cx="146.52" cy="539.52" r="1.95"/>
<circle class="c7" cx="160.36" cy="532.85" r="1.96"/>
<circle class="c7" cx="146.53" cy="539.12" r="2.17"/>
<circle class="c7" cx="157.95" cy="533.19" r="2.05"/>
<circle class="c7" cx="202.67" cy="514.32" r="2.2"/>
<circle class="c7" cx="150.9" cy="537.43" r="1.81"/>
<circle class="c7" cx="208.64" cy="512.47" r="2.23"/>
<circle class="c7" cx="185.15" cy="523.08" r="2.01"/>
<circle class="c7" cx="153.83" cy="535.71" r="1.81"/>
<circle class="c7" cx="168.08" cy="530.52" r="2.22"/>
<circle class="c7" cx="208.54" cy="511.09" r="1.84"/>
<circle class="c7" cx="203.42" cy="515.21" r="2.06"/>
<circle class="c7" cx="172.91" cy="527.62" r="1.96"/>
<circle class="c7" cx="169.09" cy="530.34" r="2.06"/>
<circle class="c7" cx="153.75" cy="535.96" r="2.05"/>
<circle class="c7" cx="207.6" cy="512" r="2.21"/>
<circle class="c7" cx="201.42" cy="514.7" r="1.92"/>
<circle class="c7" cx="155.96" cy="535.13" r="2.18"/>
<circle class="c7" cx="190.57" cy="520.05" r="1.89"/>
<circle class="c7" cx="198.55" cy="515.72" r="2.18"/>
<circle class="c7" cx="176.53" cy="528" r="2.26"/>
<circle class="c7" cx="184.39" cy="524.03" r="2.23"/>
<circle class="c7" cx="188.65" cy="521.44" r="1.88"/>
<circle class="c7" cx="150.64" cy="536.74" r="1.94"/>
<circle class="c7" cx="149.82" cy="537.71" r="2.05"/>
<circle class="c7" cx="167.11" cy="531.02" r="2.22"/>
<circle class="c7" cx="151.22" cy="537.43" r="2.23"/>
<circle class="c7" cx="204.16" cy="513.71" r="2.03"/>
<circle class="c7" cx="183.69" cy="524.47" r="2.2"/>
<circle class="c7" cx="206.92" cy="511.28" r="2.13"/>
<circle class="c7" cx="167.86" cy="530.43" r="2.04"/>
<circle class="c7" cx="156.26" cy="534.98" r="2.25"/>
<circle class="c7" cx="169.35" cy="530.4" r="2.16"/>
<circle class="c7" cx="180.31" cy="526.32" r="2.02"/>
<circle class="c7" cx="175.88" cy="527.43" r="2.06"/>
<circle class="c7" cx="156.79" cy="534.53" r="2"/>
<circle class="c7" cx="169.01" cy="530" r="2.1"/>
<circle class="c7" cx="199.67" cy="517.07" r="1.85"/>
<circle class="c7" cx="192.13" cy="520.59" r="1.94"/>
<circle class="c7" cx="195.21" cy="517.93" r="2.24"/>
<circle class="c7" cx="168.67" cy="528.52" r="2.09"/>
<circle class="c7" cx="155.62" cy="533.88" r="2.15"/>
<circle class="c7" cx="172.65" cy="526.69" r="2.1"/>
<circle class="c7" cx="209.78" cy="512.37" r="2.2"/>
<circle class="c7" cx="201.3" cy="515.3" r="2.14"/>
<circle class="c7" cx="202.37" cy="515.73" r="2.06"/>
<circle class="c7" cx="189.93" cy="520.07" r="2.01"/>
<circle class="c7" cx="170.6" cy="529.65" r="1.91"/>
<circle class="c7" cx="210.44" cy="512.41" r="2.04"/>
<circle class="c7" cx="161.4" cy="532.87" r="2.22"/>
<circle class="c7" cx="152.88" cy="536.57" r="2.19"/>
<circle class="c7" cx="202.79" cy="515.37" r="1.97"/>
<circle class="c7" cx="198.11" cy="517.87" r="1.87"/>
<circle class="c7" cx="171.62" cy="528.53" r="2.19"/>
<circle class="c7" cx="201.01" cy="514.54" r="1.88"/>
<circle class="c7" cx="175.76" cy="526.69" r="1.92"/>
<circle class="c7" cx="176.21" cy="527.15" r="1.94"/>
<circle class="c7" cx="196.9" cy="517.16" r="1.95"/>
<circle class="c7" cx="200.99" cy="516.14" r="2.03"/>
<circle class="c7" cx="202.79" cy="513.51" r="2.29"/>
<circle class="c7" cx="177.39" cy="525.46" r="1.94"/>
<circle class="c7" cx="171.97" cy="526.36" r="2.21"/>
<circle class="c7" cx="200.49" cy="516.35" r="1.87"/>
<circle class="c7" cx="163" cy="531.09" r="2.08"/>
<circle class="c7" cx="152.98" cy="534.88" r="2.22"/>
<circle class="c7" cx="203.88" cy="514.55" r="1.94"/>
<circle class="c7" cx="207.56" cy="511.09" r="1.87"/>
<circle class="c7" cx="175.75" cy="527.48" r="2.03"/>
<circle class="c7" cx="169.77" cy="530.18" r="1.81"/>
<circle class="c7" cx="149.62" cy="537.25" r="2.3"/>
<circle class="c7" cx="171.49" cy="529.85" r="1.81"/>
<circle class="c7" cx="209.3" cy="511.69" r="2.2"/>
<circle class="c7" cx="155.36" cy="534.42" r="1.94"/>
<circle class="c7" cx="202.42" cy="515.61" r="2.15"/>
<circle class="c7" cx="176.5" cy="527.42" r="1.8"/>
<circle class="c7" cx="151.39" cy="537.41" r="2.07"/>
<circle class="c7" cx="195.45" cy="516.92" r="2.06"/>
<circle class="c7" cx="153.56" cy="536.46" r="1.82"/>
<circle class="c7" cx="174.55" cy="527.69" r="2.2"/>
<circle class="c7" cx="177.08" cy="525.73" r="2.1"/>
<circle class="c7" cx="147.12" cy="537.75" r="2.06"/>
<circle class="c7" cx="162.45" cy="532.06" r="2.11"/>
<circle class="c7" cx="162.36" cy="531.86" r="2.01"/>
<circle class="c7" cx="191.18" cy="518.41" r="1.83"/>
<circle class="c7" cx="181.77" cy="524.42" r="2.05"/>
<circle class="c7" cx="183.68" cy="524.37" r="2.12"/>
<circle class="c7" cx="163.25" cy="531.76" r="1.81"/>
<circle class="c7" cx="199.62" cy="516.2" r="2.11"/>
<circle class="c7" cx="198.46" cy="516.19" r="2.17"/>
<circle class="c7" cx="168.61" cy="529.33" r="2.21"/>
<circle class="c7" cx="157.91" cy="534.24" r="2.19"/>
<circle class="c7" cx="177.59" cy="527.1" r="2.21"/>
<circle class="c7" cx="150.29" cy="536.16" r="2.19"/>
<circle class="c7" cx="177.12" cy="527.77" r="1.9"/>
<circle class="c7" cx="148.85" cy="538.25" r="2.27"/>
<circle class="c7" cx="181.05" cy="524.88" r="1.93"/>
<circle class="c7" cx="197.22" cy="518.42" r="1.9"/>
<circle class="c7" cx="170.27" cy="529.8" r="1.97"/>
<circle class="c7" cx="154.46" cy="533.84" r="1.98"/>
<circle class="c7" cx="206.49" cy="513.62" r="1.99"/>
<circle class="c7" cx="179.74" cy="524.23" r="2.05"/>
<circle class="c7" cx="208.85" cy="510.35" r="2.16"/>
<circle class="c7" cx="151.37" cy="537.23" r="2.1"/>
<circle class="c7" cx="201.92" cy="515.03" r="1.84"/>
<circle class="c7" cx="190.94" cy="521.23" r="1.95"/>
<circle class="c7" cx="186.98" cy="522.03" r="1.98"/>
<circle class="c7" cx="148.88" cy="537.72" r="2.24"/>
<circle class="c7" cx="169.97" cy="529.37" r="2.29"/>
<circle class="c7" cx="210.46" cy="513.03" r="1.84"/>
<circle class="c7" cx="189.35" cy="520.86" r="2.14"/>
<circle class="c7" cx="210.79" cy="511.37" r="1.87"/>
<circle class="c7" cx="187.31" cy="523.54" r="1.83"/>
<circle class="c7" cx="198.94" cy="517.37" r="1.98"/>
<circle class="c7" cx="172.03" cy="528.05" r="2.14"/>
<circle class="c7" cx="210.52" cy="512.33" r="1.99"/>
<circle class="c7" cx="197.89" cy="516.79" r="2"/>
<circle class="c8" cx="188.87" cy="520.89" r="1.95"/>
<circle class="c8" cx="194.55" cy="517.05" r="2.05"/>
<circle class="c8" cx="183.07" cy="523.9" r="2"/>
<circle class="c8" cx="175.45" cy="513.86" r="2.01"/>
<circle class="c8" cx="206.49" cy="511.01" r="1.95"/>
<circle class="c8" cx="202.29" cy="513.38" r="2.26"/>
<circle class="c8" cx="175.38" cy="527.15" r="2.17"/>
<circle class="c8" cx="201.8" cy="514.17" r="2.04"/>
<circle class="c8" cx="150.29" cy="534.92" r="2.26"/>
<circle class="c8" cx="202.19" cy="511.89" r="2.27"/>
<circle class="c8" cx="188.09" cy="518.26" r="2.1"/>
<circle class="c8" cx="154.01" cy="534.92" r="1.96"/>
<circle class="c8" cx="198.16" cy="516.92" r="2.12"/>
<circle class="c8" cx="170.35" cy="525.27" r="2.12"/>
<circle class="c8" cx="186.39" cy="522.85" r="2.02"/>
<circle class="c8" cx="193.45" cy="517.46" r="2.21"/>
<circle class="c8" cx="200.34" cy="515.73" r="2.29"/>
<circle class="c8" cx="188.39" cy="520.43" r="2.17"/>
<circle class="c8" cx="168.74" cy="524.71" r="2.21"/>
<circle class="c8" cx="188.23" cy="521.48" r="2.29"/>
<circle class="c8" cx="174.55" cy="521.86" r="1.92"/>
<circle class="c8" cx="154.19" cy="534.99" r="1.97"/>
<circle class="c8" cx="167.3" cy="527.31" r="2.04"/>
<circle class="c8" cx="208.1" cy="506.5" r="2.24"/>
<circle class="c8" cx="162.54" cy="529.37" r="2.12"/>
<circle class="c8" cx="154.26" cy="534.5" r="2.11"/>
<circle class="c8" cx="179.17" cy="525.64" r="2.28"/>
<circle class="c8" cx="156.18" cy="531.91" r="2.19"/>
<circle class="c8" cx="185.94" cy="518.9" r="2.13"/>
<circle class="c8" cx="200.47" cy="515.77" r="1.92"/>
<circle class="c8" cx="188.34" cy="519.83" r="2.16"/>
<circle class="c8" cx="196.62" cy="516.43" r="2.16"/>
<circle class="c8" cx="178.87" cy="523.82" r="2.02"/>
<circle class="c8" cx="209.14" cy="509.96" r="2.22"/>
<circle class="c8" cx="191.21" cy="519.47" r="1.93"/>
<circle class="c8" cx="149.95" cy="535.53" r="2.09"/>
<circle class="c8" cx="159.47" cy="530.54" r="2.03"/>
<circle class="c8" cx="193.41" cy="516.08" r="2.24"/>
<circle class="c8" cx="210.37" cy="511.58" r="2.05"/>
<circle class="c8" cx="183.07" cy="523.71" r="2.09"/>
<circle class="c8" cx="163.65" cy="530.79" r="1.94"/>
<circle class="c8" cx="165.15" cy="529.88" r="2.15"/>
<circle class="c8" cx="162.39" cy="527.02" r="1.96"/>
<circle class="c8" cx="167.61" cy="528.09" r="2.03"/>
<circle class="c8" cx="196.37" cy="516.19" r="2.11"/>
<circle class="c8" cx="178.92" cy="525.28" r="1.91"/>
<circle class="c8" cx="208.39" cy="510.09" r="2.29"/>
<circle class="c8" cx="160.2" cy="531.4" r="1.92"/>
<circle class="c8" cx="178.66" cy="521.12" r="2.16"/>
<circle class="c8" cx="177.06" cy="524.95" r="2.24"/>
<circle class="c8" cx="174.44" cy="522.56" r="2.19"/>
<circle class="c8" cx="196.41" cy="516.73" r="2.06"/>
<circle class="c8" cx="183.64" cy="523.9" r="2.12"/>
<circle class="c8" cx="150.85" cy="534.91" r="2.21"/>
<circle class="c8" cx="164.46" cy="520.41" r="2.17"/>
<circle class="c8" cx="153.84" cy="526.66" r="2.06"/>
<circle class="c8" cx="198.46" cy="515.84" r="2.28"/>
<circle class="c8" cx="195.83" cy="517.57" r="2.1"/>
<circle class="c8" cx="179.01" cy="526.03" r="1.95"/>
<circle class="c8" cx="167.98" cy="528.49" r="2.08"/>
<circle class="c8" cx="186.01" cy="521.55" r="2.03"/>
<circle class="c8" cx="186.46" cy="522.6" r="2.3"/>
<circle class="c8" cx="194.8" cy="517.74" r="2.03"/>
<circle class="c8" cx="200.67" cy="513.9" r="2.18"/>
<circle class="c8" cx="165.79" cy="526.76" r="2.05"/>
<circle class="c8" cx="190.47" cy="511.3" r="2.13"/>
<circle class="c8" cx="198.59" cy="513.68" r="2.18"/>
<circle class="c8" cx="147.76" cy="536.57" r="2.29"/>
<circle class="c8" cx="197.67" cy="513.63" r="2.13"/>
<circle class="c8" cx="193.61" cy="517.06" r="1.97"/>
<circle class="c8" cx="187.52" cy="520.07" r="2.24"/>
<circle class="c8" cx="155.75" cy="531.97" r="1.91"/>
<circle class="c8" cx="208.58" cy="511.41" r="1.91"/>
<circle class="c8" cx="166.7" cy="530.09" r="2.18"/>
<circle class="c8" cx="173.08" cy="524.61" r="2.27"/>
<circle class="c8" cx="203.61" cy="510.89" r="1.92"/>
<circle class="c8" cx="155.11" cy="534.48" r="2.03"/>
<circle class="c8" cx="189.71" cy="519.29" r="2.03"/>
<circle class="c8" cx="157.43" cy="528" r="2.04"/>
<circle class="c8" cx="169.38" cy="525.97" r="2.19"/>
<circle class="c8" cx="188.46" cy="518.99" r="2.14"/>
<circle class="c8" cx="158.69" cy="532.5" r="2.12"/>
<circle class="c8" cx="160.84" cy="523.6" r="2.02"/>
<circle class="c8" cx="165.07" cy="530.52" r="2.18"/>
<circle class="c8" cx="166.92" cy="529.38" r="2.27"/>
<circle class="c8" cx="198.5" cy="516.05" r="1.95"/>
<circle class="c8" cx="190.66" cy="519.44" r="2.29"/>
<circle class="c8" cx="200.01" cy="508.67" r="2.22"/>
<circle class="c8" cx="165.17" cy="530.22" r="2.19"/>
<circle class="c8" cx="168.86" cy="528.31" r="2"/>
<circle class="c8" cx="177.62" cy="526.07" r="2.12"/>
<circle class="c8" cx="207.58" cy="509.28" r="1.95"/>
<circle class="c8" cx="186.63" cy="520.8" r="2"/>
<circle class="c8" cx="190.21" cy="518.98" r="2.16"/>
<circle class="c8" cx="149.46" cy="535.91" r="2.19"/>
<circle class="c8" cx="152.64" cy="532.42" r="1.9"/>
<circle class="c8" cx="182.32" cy="518.57" r="2.06"/>
<circle class="c8" cx="207.71" cy="507.02" r="2.09"/>
<circle class="c8" cx="159.16" cy="524.96" r="2.03"/>
<circle class="c8" cx="188.63" cy="516" r="1.94"/>
<circle class="c8" cx="183.89" cy="522.48" r="2.19"/>
<circle class="c8" cx="207.82" cy="506.16" r="1.97"/>
<circle class="c8" cx="204.23" cy="513.27" r="2.27"/>
<circle class="c8" cx="172.2" cy="526.87" r="2.27"/>
<circle class="c8" cx="209.5" cy="505.4" r="2.25"/>
<circle class="c8" cx="146.61" cy="536.72" r="1.94"/>
<circle class="c8" cx="210.88" cy="511.26" r="2.3"/>
<circle class="c8" cx="181.86" cy="523.46" r="2.28"/>
<circle class="c8" cx="202.17" cy="513.37" r="1.98"/>
<circle class="c8" cx="153.43" cy="535.24" r="2.08"/>
<circle class="c8" cx="162.98" cy="531.17" r="2.19"/>
<circle class="c8" cx="198.19" cy="514.96" r="2.2"/>
<circle class="c8" cx="157.58" cy="529.1" r="2.26"/>
<circle class="c8" cx="200.58" cy="514.04" r="1.93"/>
<circle class="c8" cx="190.17" cy="520.33" r="1.96"/>
<circle class="c8" cx="167.36" cy="529.57" r="2"/>
<circle class="c8" cx="161.54" cy="528.7" r="2.28"/>
<circle class="c8" cx="165.93" cy="527.69" r="1.9"/>
<circle class="c8" cx="189.14" cy="518.58" r="1.92"/>
<circle class="c8" cx="153.8" cy="534.65" r="2.06"/>
<circle class="c8" cx="179.17" cy="520.67" r="2.18"/>
<circle class="c8" cx="166.52" cy="530.25" r="2.27"/>
<circle class="c8" cx="165.47" cy="528.64" r="1.99"/>
<circle class="c8" cx="154.82" cy="534.77" r="2.2"/>
<circle class="c8" cx="185.98" cy="522.02" r="2.12"/>
<circle class="c8" cx="177.07" cy="524.94" r="2.17"/>
<circle class="c8" cx="160.42" cy="531.7" r="2.2"/>
<circle class="c8" cx="203.63" cy="513.86" r="2.08"/>
<circle class="c8" cx="192.45" cy="519.53" r="2.13"/>
<circle class="c8" cx="150.08" cy="534.97" r="2.1"/>
<circle class="c8" cx="183.8" cy="523.97" r="2.03"/>
<circle class="c8" cx="180.34" cy="525.37" r="1.98"/>
<circle class="c8" cx="184.49" cy="523.87" r="2.1"/>
<circle class="c8" cx="199.37" cy="514.95" r="2.11"/>
<circle class="c8" cx="176.15" cy="526.97" r="2.08"/>
<circle class="c8" cx="199.26" cy="513.37" r="2.06"/>
<circle class="c8" cx="199.89" cy="512.87" r="2.13"/>
<circle class="c8" cx="148.99" cy="536.43" r="1.93"/>
<circle class="c8" cx="207.68" cy="511.92" r="2.27"/>
<circle class="c8" cx="148.09" cy="536.67" r="2.21"/>
<circle class="c8" cx="196.54" cy="508.56" r="2.16"/>
<circle class="c8" cx="173.74" cy="516.09" r="2.05"/>
<circle class="c8" cx="203.39" cy="508.5" r="2.05"/>
<circle class="c8" cx="191.06" cy="517.79" r="2.12"/>
<circle class="c8" cx="189.13" cy="520.39" r="1.97"/>
<circle class="c8" cx="181.46" cy="523.44" r="2.19"/>
<circle class="c8" cx="160.7" cy="532.3" r="1.91"/>
<circle class="c8" cx="165.69" cy="528.16" r="2.12"/>
<circle class="c8" cx="181.11" cy="521.22" r="2"/>
<circle class="c8" cx="168.85" cy="528.94" r="2.27"/>
<circle class="c8" cx="193.85" cy="518.76" r="2.22"/>
<circle class="c8" cx="173.67" cy="524.49" r="2.25"/>
<circle class="c8" cx="147.03" cy="537.95" r="1.94"/>
<circle class="c8" cx="148.22" cy="535.68" r="2.18"/>
<circle class="c8" cx="149.21" cy="534.09" r="2.06"/>
<circle class="c8" cx="161.47" cy="531.5" r="2.25"/>
<circle class="c8" cx="149.73" cy="535.37" r="2.02"/>
<circle class="c8" cx="199.84" cy="513.02" r="2.03"/>
<circle class="c8" cx="185.46" cy="520.94" r="2.03"/>
<circle class="c8" cx="165.92" cy="530.4" r="2.16"/>
<circle class="c8" cx="160.59" cy="531.48" r="1.92"/>
<circle class="c8" cx="208.6" cy="506.6" r="2.26"/>
<circle class="c8" cx="187.32" cy="521.17" r="2.1"/>
<circle class="c8" cx="210.17" cy="505.03" r="2.17"/>
<circle class="c8" cx="197.86" cy="516.2" r="2.07"/>
<circle class="c8" cx="155.85" cy="533.53" r="2.2"/>
<circle class="c8" cx="177.25" cy="522.19" r="2.02"/>
<circle class="c8" cx="192.7" cy="515.67" r="2.27"/>
<circle class="c8" cx="183.12" cy="516.37" r="2.12"/>
<circle class="c8" cx="154.85" cy="534.49" r="1.98"/>
<circle class="c8" cx="188.68" cy="515.56" r="2.24"/>
<circle class="c8" cx="152.1" cy="533.05" r="1.98"/>
<circle class="c8" cx="163.72" cy="528.77" r="2.14"/>
<circle class="c8" cx="203.66" cy="513.55" r="2.2"/>
<circle class="c8" cx="193.8" cy="517.11" r="2.09"/>
<circle class="c8" cx="203.39" cy="513.23" r="2.28"/>
<circle class="c8" cx="147.01" cy="531.88" r="2.28"/>
<circle class="c8" cx="153.74" cy="516.94" r="2.09"/>
<circle class="c8" cx="162.01" cy="529.71" r="1.98"/>
<circle class="c8" cx="206.4" cy="510.74" r="2.21"/>
<circle class="c8" cx="171.12" cy="527.06" r="2.04"/>
<circle class="c8" cx="163.26" cy="529.86" r="2.1"/>
<circle class="c8" cx="152.51" cy="526.44" r="2.09"/>
<circle class="c8" cx="201.42" cy="509.41" r="2.05"/>
<circle class="c8" cx="173.32" cy="526.12" r="1.99"/>
<circle class="c8" cx="155.63" cy="534.05" r="2.27"/>
<circle class="c8" cx="184.22" cy="522.9" r="1.96"/>
<circle class="c8" cx="167.77" cy="528.96" r="2.23"/>
<circle class="c8" cx="178.95" cy="523.6" r="2.17"/>
<circle class="c8" cx="162.98" cy="527.53" r="2.29"/>
<circle class="c8" cx="188.35" cy="520.27" r="1.97"/>
<circle class="c8" cx="198.47" cy="516.39" r="2.19"/>
<circle class="c8" cx="178.23" cy="520.43" r="2.12"/>
<circle class="c8" cx="188.36" cy="521.74" r="1.91"/>
<circle class="c8" cx="201.88" cy="508.08" r="2.17"/>
<circle class="c8" cx="196.45" cy="516.53" r="2.24"/>
<circle class="c8" cx="161.27" cy="529.2" r="1.9"/>
<circle class="c9" cx="144.2" cy="519" r="2.1"/>
<circle class="c9" cx="148.2" cy="519" r="2.1"/>
<circle class="c9" cx="144.5" cy="523.5" r="2.1"/>
<circle class="c9" cx="150.5" cy="529" r="2.1"/>
<circle class="c9" cx="147.8" cy="531.5" r="2.1"/>
<circle class="c9" cx="160" cy="526" r="2.1"/>
<circle class="c9" cx="166" cy="527" r="2.1"/>
<circle class="c9" cx="175" cy="525" r="2.1"/>
<circle class="c9" cx="170" cy="524.5" r="2.1"/>
<circle class="c9" cx="186" cy="520" r="2.1"/>
<circle class="c10" cx="208.33" cy="535.04" r="2.49"/>
<circle class="c10" cx="209.57" cy="543.17" r="2.39"/>
<circle class="c10" cx="206.21" cy="534.14" r="2.44"/>
<circle class="c10" cx="211.25" cy="510.1" r="2.22"/>
<circle class="c10" cx="203.03" cy="558.86" r="2.65"/>
<circle class="c10" cx="212.92" cy="543.54" r="2.73"/>
<circle class="c10" cx="209.75" cy="514.9" r="2.12"/>
<circle class="c10" cx="212.98" cy="519.19" r="2.65"/>
<circle class="c10" cx="210.96" cy="523" r="2.3"/>
<circle class="c10" cx="211.16" cy="530" r="2.79"/>
<circle class="c10" cx="214.64" cy="520.91" r="2.68"/>
<circle class="c10" cx="214.64" cy="542.51" r="2.61"/>
<circle class="c10" cx="211.57" cy="514.22" r="2.44"/>
<circle class="c10" cx="209.08" cy="512.33" r="2.14"/>
<circle class="c10" cx="208.9" cy="534.74" r="2.63"/>
<circle class="c10" cx="215.3" cy="538.08" r="2.08"/>
<circle class="c10" cx="206.04" cy="536.17" r="2.17"/>
<circle class="c10" cx="214.59" cy="553.34" r="2.38"/>
<circle class="c10" cx="209.27" cy="511.85" r="2.74"/>
<circle class="c10" cx="207.65" cy="554.92" r="2.03"/>
<circle class="c10" cx="205.19" cy="556.4" r="2.77"/>
<circle class="c10" cx="212.35" cy="539.15" r="2.57"/>
<circle class="c10" cx="207.48" cy="529.61" r="2.13"/>
<circle class="c10" cx="217.72" cy="521.64" r="2.31"/>
<circle class="c10" cx="205.54" cy="554.77" r="2.6"/>
<circle class="c10" cx="231.7" cy="516.57" r="2.58"/>
<circle class="c10" cx="224.35" cy="534.79" r="2.04"/>
<circle class="c10" cx="215.81" cy="531.57" r="2.27"/>
<circle class="c10" cx="219.66" cy="548.33" r="2.32"/>
<circle class="c10" cx="204.29" cy="548.56" r="2.22"/>
<circle class="c10" cx="206.21" cy="559.63" r="2.28"/>
<circle class="c10" cx="206.04" cy="557.03" r="2.54"/>
<circle class="c10" cx="205.27" cy="542.86" r="2.49"/>
<circle class="c10" cx="210.26" cy="549.8" r="2.07"/>
<circle class="c10" cx="215.66" cy="517.29" r="2.51"/>
<circle class="c10" cx="206.22" cy="546.85" r="2.09"/>
<circle class="c10" cx="209.05" cy="509.76" r="2.29"/>
<circle class="c10" cx="209.11" cy="523.12" r="2.15"/>
<circle class="c10" cx="210.61" cy="532.17" r="2.33"/>
<circle class="c10" cx="210.25" cy="510.83" r="2.07"/>
<circle class="c10" cx="207.26" cy="539.7" r="2.31"/>
<circle class="c10" cx="210.62" cy="524.24" r="2.07"/>
<circle class="c10" cx="215.28" cy="555.01" r="2.78"/>
<circle class="c10" cx="206.42" cy="538.38" r="2.3"/>
<circle class="c10" cx="211.17" cy="516.51" r="2.39"/>
<circle class="c10" cx="211.91" cy="512.69" r="2.34"/>
<circle class="c10" cx="206.61" cy="533.95" r="2.2"/>
<circle class="c10" cx="213.56" cy="521.95" r="2.48"/>
<circle class="c10" cx="209.77" cy="519.38" r="2.24"/>
<circle class="c10" cx="205.17" cy="557.42" r="2.5"/>
<circle class="c10" cx="205.99" cy="550.11" r="2.27"/>
<circle class="c10" cx="213.74" cy="550.68" r="2.78"/>
<circle class="c10" cx="211.3" cy="516.37" r="2.76"/>
<circle class="c10" cx="211.03" cy="519.64" r="2.77"/>
<circle class="c10" cx="204.73" cy="558.42" r="2.56"/>
<circle class="c10" cx="210.43" cy="534.3" r="2.19"/>
<circle class="c10" cx="215.78" cy="528.49" r="2.31"/>
<circle class="c10" cx="213.42" cy="515.25" r="2.47"/>
<circle class="c10" cx="211.42" cy="537.05" r="2.44"/>
<circle class="c10" cx="206.22" cy="557.63" r="2.57"/>
<circle class="c10" cx="208.39" cy="531.64" r="2.55"/>
<circle class="c10" cx="211.85" cy="550.86" r="2.33"/>
<circle class="c10" cx="211.07" cy="534.71" r="2.19"/>
<circle class="c10" cx="211.12" cy="542.76" r="2.63"/>
<circle class="c10" cx="232.49" cy="513.24" r="2.38"/>
<circle class="c10" cx="210.58" cy="529.74" r="2.74"/>
<circle class="c10" cx="208.51" cy="544.43" r="2.63"/>
<circle class="c10" cx="218.76" cy="527.66" r="2.43"/>
<circle class="c10" cx="205.43" cy="541.73" r="2.62"/>
<circle class="c10" cx="207.04" cy="542.71" r="2.52"/>
<circle class="c10" cx="229.34" cy="511.74" r="2.54"/>
<circle class="c10" cx="214.05" cy="529.68" r="2.77"/>
<circle class="c10" cx="206.81" cy="531.24" r="2.21"/>
<circle class="c10" cx="209.61" cy="535.29" r="2.46"/>
<circle class="c10" cx="208.42" cy="538.55" r="2.31"/>
<circle class="c10" cx="208.59" cy="548.5" r="2.4"/>
<circle class="c10" cx="207.74" cy="526.92" r="2.08"/>
<circle class="c10" cx="223.21" cy="530.51" r="2.09"/>
<circle class="c10" cx="203.98" cy="557" r="2.25"/>
<circle class="c10" cx="207.66" cy="532.49" r="2.39"/>
<circle class="c10" cx="209.17" cy="533.55" r="2.56"/>
<circle class="c10" cx="209.66" cy="525.6" r="2.65"/>
<circle class="c10" cx="218.73" cy="515.31" r="2.52"/>
<circle class="c10" cx="205.59" cy="543.7" r="2.79"/>
<circle class="c10" cx="209.64" cy="521.82" r="2.13"/>
<circle class="c10" cx="221.49" cy="537.77" r="2.19"/>
<circle class="c10" cx="208.03" cy="529.95" r="2.51"/>
<circle class="c10" cx="206.88" cy="531.32" r="2.49"/>
<circle class="c10" cx="213.67" cy="519.46" r="2.31"/>
<circle class="c10" cx="205.64" cy="545.09" r="2.6"/>
<circle class="c10" cx="204.29" cy="550.34" r="2.08"/>
<circle class="c10" cx="204.68" cy="553.53" r="2.26"/>
<circle class="c10" cx="208" cy="532.61" r="2.69"/>
<circle class="c10" cx="210.92" cy="536.15" r="2.48"/>
<circle class="c10" cx="209.62" cy="540.37" r="2.28"/>
<circle class="c10" cx="208.58" cy="552.2" r="2.65"/>
<circle class="c10" cx="206.25" cy="545.15" r="2.49"/>
<circle class="c10" cx="209.87" cy="513.78" r="2.09"/>
<circle class="c10" cx="209.03" cy="524.92" r="2.55"/>
<circle class="c10" cx="208.66" cy="535.3" r="2.11"/>
<circle class="c10" cx="208.25" cy="528.88" r="2.51"/>
<circle class="c10" cx="209.75" cy="544.52" r="2.8"/>
<circle class="c10" cx="208.98" cy="537.52" r="2.11"/>
<circle class="c10" cx="210.92" cy="525.39" r="2.04"/>
<circle class="c10" cx="207.52" cy="527.63" r="2.11"/>
<circle class="c10" cx="220.53" cy="550.67" r="2.4"/>
<circle class="c10" cx="211.87" cy="534.5" r="2.33"/>
<circle class="c10" cx="207.16" cy="551.91" r="2.07"/>
<circle class="c10" cx="215.4" cy="511.06" r="2.23"/>
<circle class="c10" cx="212.2" cy="523.38" r="2.13"/>
<circle class="c10" cx="213.27" cy="532.59" r="2.61"/>
<circle class="c10" cx="206.26" cy="537.26" r="2.09"/>
<circle class="c10" cx="212.8" cy="548.64" r="2.29"/>
<circle class="c10" cx="204.11" cy="551.04" r="2.58"/>
<circle class="c10" cx="228.6" cy="537.09" r="2.08"/>
<circle class="c10" cx="210.82" cy="551.42" r="2.24"/>
<circle class="c10" cx="205.78" cy="559.97" r="2.28"/>
<circle class="c10" cx="206.82" cy="550.74" r="2.8"/>
<circle class="c10" cx="205.49" cy="548.67" r="2.65"/>
<circle class="c10" cx="207.53" cy="539.19" r="2.57"/>
<circle class="c10" cx="205.94" cy="541.45" r="2.11"/>
<circle class="c10" cx="210.24" cy="519.93" r="2.05"/>
<circle class="c10" cx="209.21" cy="527.22" r="2.43"/>
<circle class="c10" cx="213.92" cy="525.84" r="2.23"/>
<circle class="c10" cx="218.19" cy="523" r="2.79"/>
<circle class="c10" cx="205.18" cy="543.8" r="2.77"/>
<circle class="c10" cx="216.63" cy="549.18" r="2.79"/>
<circle class="c10" cx="204.35" cy="553.29" r="2.69"/>
<circle class="c10" cx="214.83" cy="522.11" r="2.66"/>
<circle class="c10" cx="209.84" cy="547.95" r="2.39"/>
<circle class="c10" cx="207.02" cy="538.66" r="2.33"/>
<circle class="c10" cx="211.56" cy="532.33" r="2.7"/>
<circle class="c10" cx="212.81" cy="514.2" r="2.22"/>
<circle class="c10" cx="205.55" cy="556.78" r="2.76"/>
<circle class="c10" cx="207.81" cy="526.03" r="2.62"/>
<circle class="c10" cx="210.91" cy="546.5" r="2.37"/>
<circle class="c10" cx="207.01" cy="543.04" r="2.05"/>
<circle class="c10" cx="207.01" cy="536.49" r="2.34"/>
<circle class="c10" cx="210.59" cy="520.2" r="2.66"/>
<circle class="c10" cx="212" cy="526.56" r="2.45"/>
<circle class="c10" cx="208.3" cy="534.01" r="2.55"/>
<circle class="c10" cx="209.48" cy="511.94" r="2.63"/>
<circle class="c10" cx="207.12" cy="532.71" r="2.69"/>
<circle class="c10" cx="206.65" cy="531.78" r="2.77"/>
<circle class="c10" cx="214.97" cy="519.72" r="2.11"/>
<circle class="c10" cx="205.77" cy="542.32" r="2.75"/>
<circle class="c10" cx="213.67" cy="523.34" r="2.2"/>
<circle class="c10" cx="219.05" cy="528.28" r="2.13"/>
<circle class="c10" cx="208.92" cy="529.52" r="2.56"/>
<circle class="c10" cx="214.12" cy="521.32" r="2.56"/>
<circle class="c10" cx="210.28" cy="509.55" r="2.11"/>
<circle class="c10" cx="214.57" cy="520.92" r="2.01"/>
<circle class="c10" cx="213.05" cy="544.63" r="2.79"/>
<circle class="c10" cx="207.54" cy="530.83" r="2.06"/>
<circle class="c10" cx="213.79" cy="528.85" r="2.08"/>
<circle class="c10" cx="218.58" cy="525.32" r="2.11"/>
<circle class="c10" cx="211.14" cy="548.56" r="2.11"/>
<circle class="c10" cx="203.61" cy="559.64" r="2.42"/>
<circle class="c10" cx="212.59" cy="509.93" r="2.35"/>
<circle class="c10" cx="209.35" cy="545.98" r="2.12"/>
<circle class="c10" cx="212.74" cy="530.29" r="2.69"/>
<circle class="c10" cx="209.69" cy="513.88" r="2.6"/>
<circle class="c10" cx="207.78" cy="539.27" r="2.77"/>
<circle class="c10" cx="208.68" cy="525.38" r="2.22"/>
<circle class="c10" cx="213.18" cy="513.75" r="2.48"/>
<circle class="c10" cx="212.77" cy="540.18" r="2.55"/>
<circle class="c10" cx="209.14" cy="552.32" r="2.24"/>
<circle class="c10" cx="209.46" cy="535.65" r="2.6"/>
<circle class="c10" cx="208.4" cy="524.42" r="2.72"/>
<circle class="c10" cx="206.53" cy="557.71" r="2.09"/>
<circle class="c10" cx="210.56" cy="534.73" r="2.42"/>
<circle class="c10" cx="224.62" cy="558.87" r="2.75"/>
<circle class="c10" cx="219.21" cy="516.17" r="2.45"/>
<circle class="c10" cx="213.15" cy="527.95" r="2.61"/>
<circle class="c10" cx="210.47" cy="557.7" r="2.01"/>
<circle class="c10" cx="210.6" cy="512.91" r="2.03"/>
<circle class="c10" cx="216.83" cy="512.55" r="2.41"/>
<circle class="c10" cx="208.54" cy="541.24" r="2.33"/>
<circle class="c10" cx="204.94" cy="544.94" r="2.43"/>
<circle class="c10" cx="206.78" cy="540.61" r="2.25"/>
<circle class="c10" cx="207.09" cy="535.32" r="2.65"/>
<circle class="c10" cx="208.24" cy="536.59" r="2.51"/>
<circle class="c10" cx="209.55" cy="551.64" r="2.05"/>
<circle class="c10" cx="211.08" cy="544.78" r="2.68"/>
<circle class="c10" cx="209.49" cy="512.42" r="2.35"/>
<circle class="c10" cx="211.21" cy="532.4" r="2.25"/>
<circle class="c10" cx="211.05" cy="546.96" r="2.1"/>
<circle class="c10" cx="210.52" cy="545.25" r="2.13"/>
<circle class="c10" cx="206.83" cy="557.63" r="2.63"/>
<circle class="c10" cx="205.32" cy="545.9" r="2.1"/>
<circle class="c10" cx="205.67" cy="548.95" r="2.71"/>
<circle class="c10" cx="204.3" cy="548.46" r="2.65"/>
<circle class="c10" cx="208.71" cy="523.24" r="2.57"/>
<circle class="c10" cx="205.86" cy="538.62" r="2.36"/>
<circle class="c10" cx="210.92" cy="527.69" r="2.45"/>
<circle class="c10" cx="208.86" cy="528.07" r="2.08"/>
<circle class="c10" cx="211.89" cy="538.48" r="2.18"/>
<circle class="c10" cx="206.2" cy="535.2" r="2.69"/>
<circle class="c10" cx="211.87" cy="521.85" r="2.31"/>
<circle class="c10" cx="222.8" cy="517.08" r="2.69"/>
<circle class="c10" cx="217.9" cy="537.42" r="2.59"/>
<circle class="c10" cx="208.81" cy="530.68" r="2.33"/>
<circle class="c10" cx="205.99" cy="545.87" r="2.06"/>
<circle class="c10" cx="210.82" cy="528.33" r="2.72"/>
<circle class="c10" cx="217.54" cy="518.56" r="2.79"/>
<circle class="c10" cx="203.47" cy="557.68" r="2.37"/>
<circle class="c10" cx="217.58" cy="523.76" r="2.26"/>
<circle class="c10" cx="205.68" cy="537.43" r="2.16"/>
<circle class="c10" cx="207.37" cy="537.97" r="2.5"/>
<circle class="c10" cx="210.89" cy="532.93" r="2.39"/>
<circle class="c10" cx="205.24" cy="548.52" r="2.72"/>
<circle class="c10" cx="205.62" cy="547.9" r="2.01"/>
<circle class="c10" cx="208.28" cy="530.21" r="2.28"/>
<circle class="c10" cx="214.3" cy="551.9" r="2.76"/>
<circle class="c10" cx="212.41" cy="509.57" r="2.68"/>
<circle class="c10" cx="204.93" cy="546.22" r="2.42"/>
<circle class="c10" cx="212.13" cy="521.53" r="2.05"/>
<circle class="c10" cx="209.03" cy="559.85" r="2.07"/>
<circle class="c10" cx="214.73" cy="556.02" r="2.42"/>
<circle class="c10" cx="206.85" cy="544.89" r="2.78"/>
<circle class="c10" cx="209.65" cy="513.79" r="2.11"/>
<circle class="c10" cx="204.3" cy="550.91" r="2.45"/>
<circle class="c10" cx="223.36" cy="531.47" r="2.19"/>
<circle class="c10" cx="210.39" cy="522.68" r="2.64"/>
<circle class="c10" cx="211.16" cy="544.89" r="2.25"/>
<circle class="c10" cx="208.77" cy="523.23" r="2.16"/>
<circle class="c10" cx="208.51" cy="548.89" r="2.12"/>
<circle class="c10" cx="212.62" cy="517.8" r="2.33"/>
<circle class="c10" cx="222.48" cy="536.56" r="2.17"/>
<circle class="c10" cx="209.53" cy="525.07" r="2.1"/>
<circle class="c10" cx="215.25" cy="517.46" r="2.66"/>
<circle class="c10" cx="204.75" cy="544.69" r="2.67"/>
<circle class="c10" cx="208.27" cy="526.05" r="2.2"/>
<circle class="c10" cx="211.11" cy="527.47" r="2.54"/>
<circle class="c10" cx="231.88" cy="522.64" r="2.02"/>
<circle class="c10" cx="210.02" cy="529.92" r="2.6"/>
<circle class="c10" cx="211.72" cy="522.12" r="2.64"/>
<circle class="c10" cx="209.44" cy="516.56" r="2.66"/>
<circle class="c10" cx="203.61" cy="559.12" r="2.66"/>
<circle class="c10" cx="212.32" cy="528.3" r="2.52"/>
<circle class="c10" cx="206.91" cy="538.91" r="2.65"/>
<circle class="c10" cx="208.21" cy="510.6" r="2.72"/>
<circle class="c10" cx="207.31" cy="531.89" r="2.72"/>
<circle class="c10" cx="205.88" cy="551.38" r="2.03"/>
<circle class="c10" cx="207.36" cy="532.78" r="2.46"/>
<circle class="c10" cx="206.41" cy="551" r="2.02"/>
<circle class="c10" cx="205.6" cy="544" r="2.17"/>
<circle class="c10" cx="210.94" cy="518.95" r="2.71"/>
<circle class="c10" cx="213.23" cy="511.25" r="2.2"/>
<circle class="c10" cx="210.78" cy="524.4" r="2.44"/>
<circle class="c10" cx="210.69" cy="512.58" r="2.11"/>
<circle class="c10" cx="219.96" cy="519.57" r="2.42"/>
<circle class="c10" cx="213.15" cy="541.35" r="2.64"/>
<circle class="c10" cx="210.48" cy="559.46" r="2.29"/>
<circle class="c10" cx="209.02" cy="537" r="2.73"/>
<circle class="c10" cx="208.48" cy="534.87" r="2.14"/>
<circle class="c10" cx="209.12" cy="525.6" r="2.72"/>
<circle class="c10" cx="204.42" cy="548.82" r="2.79"/>
<circle class="c10" cx="213.09" cy="536.24" r="2.8"/>
<circle class="c10" cx="203.5" cy="558.69" r="2.53"/>
<circle class="c10" cx="216.91" cy="522.96" r="2.73"/>
<circle class="c10" cx="218.32" cy="520.58" r="2.64"/>
<circle class="c10" cx="216.66" cy="527.42" r="2.68"/>
<circle class="c10" cx="213.9" cy="518.39" r="2.64"/>
<circle class="c10" cx="216.81" cy="544.73" r="2.02"/>
<circle class="c10" cx="219.26" cy="544.88" r="2.45"/>
<circle class="c10" cx="206.6" cy="537.94" r="2.79"/>
<circle class="c10" cx="206.99" cy="554.02" r="2.25"/>
<circle class="c10" cx="206.62" cy="534.27" r="2.19"/>
<circle class="c10" cx="212.69" cy="520.55" r="2"/>
<circle class="c10" cx="204.5" cy="555.85" r="2.1"/>
<circle class="c10" cx="216.98" cy="545.71" r="2.68"/>
<circle class="c10" cx="207.94" cy="525.84" r="2.47"/>
<circle class="c10" cx="210.83" cy="555.82" r="2.68"/>
<circle class="c10" cx="219.87" cy="552.96" r="2.3"/>
<circle class="c10" cx="205.72" cy="557.07" r="2.08"/>
<circle class="c10" cx="208.79" cy="524.74" r="2.13"/>
<circle class="c10" cx="211" cy="557.41" r="2.77"/>
<circle class="c10" cx="205.86" cy="542.28" r="2.77"/>
<circle class="c10" cx="217.79" cy="544.52" r="2.63"/>
<circle class="c10" cx="213.35" cy="520.77" r="2.14"/>
<circle class="c10" cx="213.83" cy="524.99" r="2.1"/>
<circle class="c10" cx="219.23" cy="546.31" r="2.76"/>
<circle class="c10" cx="232.97" cy="529.28" r="2.77"/>
<circle class="c10" cx="212.92" cy="511.14" r="2.74"/>
<circle class="c10" cx="204.27" cy="558.36" r="2.45"/>
<circle class="c10" cx="204" cy="556.8" r="2.6"/>
<circle class="c10" cx="228.94" cy="521.52" r="2.13"/>
<circle class="c10" cx="204.04" cy="554.21" r="2.57"/>
<circle class="c10" cx="215.87" cy="541.77" r="2.36"/>
<circle class="c10" cx="209.89" cy="522.89" r="2.05"/>
<circle class="c10" cx="209.12" cy="522.46" r="2"/>
<circle class="c10" cx="213.8" cy="528.99" r="2.78"/>
<circle class="c10" cx="206.98" cy="554.17" r="2.3"/>
<circle class="c10" cx="206.22" cy="537.07" r="2.38"/>
<circle class="c10" cx="208.95" cy="553.13" r="2.55"/>
<circle class="c10" cx="209.86" cy="517.71" r="2.68"/>
<circle class="c10" cx="210.05" cy="524.39" r="2.76"/>
<circle class="c10" cx="210.04" cy="513.25" r="2.3"/>
<circle class="c10" cx="208.31" cy="546.47" r="2.72"/>
<circle class="c10" cx="213.69" cy="514.2" r="2.49"/>
<circle class="c10" cx="206.38" cy="533.88" r="2.75"/>
<circle class="c10" cx="220.51" cy="517.83" r="2.13"/>
<circle class="c10" cx="210.37" cy="514.61" r="2.15"/>
<circle class="c10" cx="210.95" cy="544.71" r="2.58"/>
<circle class="c10" cx="210.1" cy="522.9" r="2.19"/>
<circle class="c10" cx="213.24" cy="512.01" r="2.67"/>
<circle class="c10" cx="211.68" cy="517.26" r="2.34"/>
<circle class="c10" cx="213.56" cy="524.37" r="2.48"/>
<circle class="c10" cx="209.29" cy="519.58" r="2.14"/>
<circle class="c10" cx="208.59" cy="524.24" r="2.68"/>
<circle class="c10" cx="210.52" cy="525.07" r="2.39"/>
<circle class="c10" cx="205.3" cy="542.88" r="2.44"/>
<circle class="c10" cx="220.16" cy="518.84" r="2.3"/>
<circle class="c10" cx="208.13" cy="532.01" r="2.37"/>
<circle class="c10" cx="210.44" cy="520.93" r="2.05"/>
<circle class="c10" cx="209.76" cy="547.49" r="2.07"/>
<circle class="c10" cx="211.53" cy="526.86" r="2.78"/>
<circle class="c10" cx="209.39" cy="539.28" r="2.67"/>
<circle class="c10" cx="206.63" cy="550.83" r="2.43"/>
<circle class="c10" cx="206.89" cy="553.28" r="2.71"/>
<circle class="c10" cx="206.7" cy="533.55" r="2.72"/>
<circle class="c10" cx="207.93" cy="545.57" r="2.72"/>
<circle class="c10" cx="209.67" cy="549.92" r="2.5"/>
<circle class="c10" cx="216.38" cy="515.57" r="2.14"/>
<circle class="c10" cx="220.81" cy="559.21" r="2.65"/>
<circle class="c10" cx="212.08" cy="515.87" r="2.79"/>
<circle class="c10" cx="214.06" cy="541.17" r="2.21"/>
<circle class="c10" cx="215.71" cy="555.5" r="2.05"/>
<circle class="c10" cx="209.71" cy="529.1" r="2.26"/>
<circle class="c10" cx="211.4" cy="523.45" r="2.7"/>
<circle class="c10" cx="208.96" cy="549.22" r="2.42"/>
<circle class="c10" cx="209.54" cy="530.69" r="2.12"/>
<circle class="c10" cx="212.47" cy="539.19" r="2.75"/>
<circle class="c10" cx="207.46" cy="556.21" r="2.08"/>
<circle class="c10" cx="212.06" cy="523.95" r="2.28"/>
<circle class="c10" cx="209.36" cy="530.25" r="2.39"/>
<circle class="c10" cx="205.4" cy="540.25" r="2.22"/>
<circle class="c10" cx="214.09" cy="516.76" r="2.55"/>
<circle class="c10" cx="219.58" cy="511.46" r="2.27"/>
<circle class="c10" cx="215.6" cy="521.5" r="2.74"/>
<circle class="c10" cx="203.62" cy="554.8" r="2.65"/>
<circle class="c10" cx="209.69" cy="524.8" r="2.39"/>
<circle class="c10" cx="205.07" cy="544.66" r="2.7"/>
<circle class="c10" cx="227.65" cy="516.29" r="2.35"/>
<circle class="c10" cx="205.45" cy="551.2" r="2.33"/>
<circle class="c10" cx="205.98" cy="542.1" r="2.17"/>
<circle class="c10" cx="210.64" cy="551.11" r="2.61"/>
<circle class="c10" cx="212.27" cy="553.29" r="2.41"/>
<circle class="c10" cx="211.32" cy="517.53" r="2.41"/>
<circle class="c10" cx="218.89" cy="516.35" r="2.7"/>
<circle class="c10" cx="209.24" cy="510.96" r="2.67"/>
<circle class="c10" cx="205.26" cy="551.77" r="2.37"/>
<circle class="c10" cx="209.47" cy="555.86" r="2.22"/>
<circle class="c10" cx="207.41" cy="551.09" r="2.51"/>
<circle class="c10" cx="209.47" cy="515.76" r="2.3"/>
<circle class="c10" cx="206.3" cy="539.5" r="2.7"/>
<circle class="c10" cx="207.53" cy="539.14" r="2.13"/>
<circle class="c10" cx="210.44" cy="554.67" r="2.55"/>
<circle class="c10" cx="210.68" cy="523.9" r="2.13"/>
<circle class="c10" cx="222.24" cy="538.4" r="2.69"/>
<circle class="c10" cx="210.58" cy="542.19" r="2.22"/>
<circle class="c10" cx="207.07" cy="530.18" r="2.62"/>
<circle class="c10" cx="204.22" cy="548.26" r="2.73"/>
<circle class="c10" cx="209.52" cy="542.19" r="2.01"/>
<circle class="c10" cx="216.77" cy="522.25" r="2.24"/>
<circle class="c10" cx="208.17" cy="558.33" r="2.34"/>
<circle class="c10" cx="209.44" cy="528.51" r="2.2"/>
<circle class="c10" cx="212.04" cy="533.07" r="2.66"/>
<circle class="c10" cx="207.63" cy="529.56" r="2.41"/>
<circle class="c10" cx="214.07" cy="542.95" r="2.3"/>
<circle class="c10" cx="209.62" cy="542.19" r="2.24"/>
<circle class="c10" cx="209.58" cy="514.96" r="2.79"/>
<circle class="c10" cx="214.86" cy="541.85" r="2.21"/>
<circle class="c10" cx="215.6" cy="545.41" r="2.24"/>
<circle class="c10" cx="216.67" cy="517.07" r="2.72"/>
<circle class="c10" cx="212.09" cy="550.17" r="2.48"/>
<circle class="c10" cx="210.53" cy="542.86" r="2.58"/>
<circle class="c10" cx="234.76" cy="542.6" r="2.21"/>
<circle class="c10" cx="209.33" cy="530.64" r="2.03"/>
<circle class="c10" cx="208.72" cy="545.26" r="2.15"/>
<circle class="c10" cx="205.64" cy="546.19" r="2.43"/>
<circle class="c10" cx="215.94" cy="549.14" r="2.54"/>
<circle class="c10" cx="215.32" cy="535.12" r="2.67"/>
<circle class="c10" cx="204.62" cy="553.76" r="2.08"/>
<circle class="c10" cx="210.83" cy="515.96" r="2.65"/>
<circle class="c10" cx="205.21" cy="548.03" r="2.54"/>
<circle class="c10" cx="208.18" cy="526.45" r="2.28"/>
<circle class="c10" cx="206.13" cy="547.08" r="2.63"/>
<circle class="c10" cx="209.26" cy="526.23" r="2.24"/>
<circle class="c10" cx="206.93" cy="552.49" r="2.69"/>
<circle class="c10" cx="219.84" cy="538.97" r="2.06"/>
<circle class="c10" cx="207.03" cy="554.42" r="2.69"/>
<circle class="c10" cx="209.02" cy="528.77" r="2.04"/>
<circle class="c10" cx="204.47" cy="552.64" r="2.16"/>
<circle class="c10" cx="211.18" cy="530.16" r="2.73"/>
<circle class="c10" cx="208.38" cy="532.61" r="2.57"/>
<circle class="c10" cx="207.46" cy="548.84" r="2.5"/>
<circle class="c10" cx="214.44" cy="518.43" r="2"/>
<circle class="c10" cx="215.52" cy="523.31" r="2.13"/>
<circle class="c10" cx="207.55" cy="548.11" r="2.61"/>
<circle class="c10" cx="213.93" cy="513.95" r="2.51"/>
<circle class="c10" cx="223.83" cy="529.87" r="2.31"/>
<circle class="c10" cx="209.64" cy="511.41" r="2.3"/>
<circle class="c10" cx="209.51" cy="510.21" r="2.67"/>
<circle class="c10" cx="214.91" cy="519.12" r="2.5"/>
<circle class="c10" cx="214.54" cy="522.07" r="2.28"/>
<circle class="c10" cx="211.75" cy="516.01" r="2.47"/>
<circle class="c10" cx="218.18" cy="517.93" r="2.24"/>
<circle class="c10" cx="214.68" cy="524.19" r="2.48"/>
<circle class="c10" cx="218.63" cy="526.56" r="2.8"/>
<circle class="c10" cx="219.22" cy="526.81" r="2.29"/>
<circle class="c10" cx="224.07" cy="519.02" r="2.73"/>
<circle class="c10" cx="208.32" cy="529.87" r="2.58"/>
<circle class="c10" cx="215.97" cy="516.13" r="2.47"/>
<circle class="c10" cx="211.78" cy="518.03" r="2.52"/>
<circle class="c10" cx="218.97" cy="511.39" r="2.2"/>
<circle class="c10" cx="206.02" cy="536.5" r="2.8"/>
<circle class="c10" cx="210.11" cy="542.93" r="2.02"/>
<circle class="c10" cx="207.3" cy="544.33" r="2.3"/>
<circle class="c10" cx="208.9" cy="537.14" r="2.12"/>
<circle class="c10" cx="209.53" cy="544.61" r="2.24"/>
<circle class="c10" cx="210.24" cy="542.91" r="2.22"/>
<circle class="c10" cx="205.97" cy="540.08" r="2.66"/>
<circle class="c10" cx="215.58" cy="514.8" r="2.09"/>
<circle class="c10" cx="209.83" cy="515.26" r="2.16"/>
<circle class="c10" cx="210.69" cy="519.59" r="2.42"/>
<circle class="c10" cx="215.22" cy="519.68" r="2.24"/>
<circle class="c10" cx="212.02" cy="511.49" r="2.17"/>
<circle class="c10" cx="205.28" cy="556.62" r="2"/>
<circle class="c10" cx="216.61" cy="543.42" r="2.67"/>
<circle class="c10" cx="205.56" cy="543.29" r="2.07"/>
<circle class="c10" cx="212.38" cy="535.34" r="2.08"/>
<circle class="c10" cx="209.87" cy="522.42" r="2.79"/>
<circle class="c10" cx="211.24" cy="524.45" r="2.08"/>
<circle class="c10" cx="209.63" cy="518.32" r="2.23"/>
<circle class="c10" cx="205.88" cy="549.98" r="2.59"/>
<circle class="c10" cx="216.29" cy="514.3" r="2.04"/>
<circle class="c10" cx="209.19" cy="552.53" r="2.14"/>
<circle class="c10" cx="210.37" cy="527.56" r="2.5"/>
<circle class="c10" cx="204.1" cy="553.86" r="2.65"/>
<circle class="c10" cx="211.9" cy="518.73" r="2.77"/>
<circle class="c10" cx="210.82" cy="523.23" r="2.68"/>
<circle class="c10" cx="209.24" cy="549.89" r="2.64"/>
<circle class="c10" cx="215.22" cy="515.21" r="2.05"/>
<circle class="c10" cx="204.07" cy="557.09" r="2.33"/>
<circle class="c10" cx="213.45" cy="539.33" r="2.54"/>
<circle class="c10" cx="211.75" cy="518.65" r="2.29"/>
<circle class="c10" cx="213.93" cy="510.96" r="2.67"/>
<circle class="c10" cx="203.68" cy="558.66" r="2.74"/>
<circle class="c10" cx="211.92" cy="515.2" r="2.04"/>
<circle class="c10" cx="210.38" cy="522.71" r="2.56"/>
<circle class="c10" cx="211.98" cy="543.74" r="2.46"/>
<circle class="c10" cx="224.6" cy="538.03" r="2.54"/>
<circle class="c10" cx="211.39" cy="526.58" r="2.56"/>
<circle class="c10" cx="214.61" cy="514.31" r="2.2"/>
<circle class="c10" cx="213.25" cy="526.96" r="2.31"/>
<circle class="c10" cx="207.9" cy="551.87" r="2.79"/>
<circle class="c10" cx="214.18" cy="512.26" r="2.13"/>
<circle class="c10" cx="213.31" cy="552.37" r="2.7"/>
<circle class="c10" cx="212.49" cy="513.28" r="2.19"/>
<circle class="c10" cx="203.26" cy="558.49" r="2.18"/>
<circle class="c10" cx="207.53" cy="541.99" r="2.19"/>
<circle class="c10" cx="214.54" cy="532.68" r="2.36"/>
<circle class="c10" cx="206.69" cy="552.76" r="2.09"/>
<circle class="c10" cx="211.37" cy="534.62" r="2.08"/>
<circle class="c10" cx="211.01" cy="530.32" r="2"/>
<circle class="c10" cx="213.81" cy="514.09" r="2.5"/>
<circle class="c10" cx="211.58" cy="524.88" r="2.17"/>
<circle class="c10" cx="219.75" cy="543.41" r="2.29"/>
<circle class="c10" cx="210.28" cy="512.24" r="2.36"/>
<circle class="c10" cx="210.42" cy="537.79" r="2.38"/>
<circle class="c10" cx="211.14" cy="542.69" r="2.09"/>
<circle class="c10" cx="205.47" cy="547.85" r="2.27"/>
<circle class="c10" cx="220.54" cy="551.41" r="2.23"/>
<circle class="c10" cx="211.93" cy="535.86" r="2.04"/>
<circle class="c10" cx="210.24" cy="517.79" r="2.57"/>
<circle class="c10" cx="204.97" cy="545.94" r="2.49"/>
<circle class="c10" cx="222.6" cy="518.97" r="2.31"/>
<circle class="c10" cx="214.09" cy="532.58" r="2.57"/>
<circle class="c10" cx="211.92" cy="514.94" r="2.74"/>
<circle class="c10" cx="208.26" cy="551.79" r="2.62"/>
<circle class="c10" cx="211.92" cy="532.25" r="2.76"/>
<circle class="c10" cx="212.81" cy="516.3" r="2.42"/>
<circle class="c10" cx="222.65" cy="511.95" r="2.67"/>
<circle class="c10" cx="209.77" cy="533.89" r="2.74"/>
<circle class="c10" cx="213.72" cy="518.45" r="2.58"/>
<circle class="c10" cx="211.78" cy="515.98" r="2.48"/>
<circle class="c10" cx="207.1" cy="554.08" r="2.31"/>
<circle class="c10" cx="215.31" cy="558.96" r="2.61"/>
<circle class="c10" cx="224.93" cy="523.32" r="2.78"/>
<circle class="c10" cx="207.24" cy="532.37" r="2.33"/>
<circle class="c10" cx="211.42" cy="544.85" r="2.24"/>
<circle class="c10" cx="214.37" cy="544.93" r="2.57"/>
<circle class="c10" cx="208.26" cy="556.74" r="2.16"/>
<circle class="c10" cx="206.81" cy="541.02" r="2.28"/>
<circle class="c10" cx="224.64" cy="543.45" r="2.52"/>
<circle class="c10" cx="206.59" cy="557.9" r="2.56"/>
<circle class="c10" cx="208.46" cy="525.78" r="2.28"/>
<circle class="c10" cx="210.48" cy="533.76" r="2.53"/>
<circle class="c10" cx="213.77" cy="530.58" r="2.67"/>
<circle class="c10" cx="217.62" cy="523.94" r="2.65"/>
<circle class="c10" cx="205.99" cy="535.9" r="2.12"/>
<circle class="c10" cx="205.86" cy="543.35" r="2.6"/>
<circle class="c10" cx="211.16" cy="517.63" r="2.2"/>
<circle class="c10" cx="209.68" cy="551.89" r="2.24"/>
<circle class="c10" cx="204.41" cy="547.56" r="2.65"/>
<circle class="c10" cx="219.35" cy="514.68" r="2.59"/>
<circle class="c10" cx="210.46" cy="553.17" r="2.45"/>
<circle class="c10" cx="216.42" cy="521.5" r="2.64"/>
<circle class="c10" cx="213.67" cy="524.03" r="2.74"/>
<circle class="c10" cx="222.88" cy="529.07" r="2.78"/>
<circle class="c10" cx="211.96" cy="525.29" r="2.01"/>
<circle class="c10" cx="213.45" cy="522.19" r="2.62"/>
<circle class="c10" cx="212.52" cy="553.44" r="2.73"/>
<circle class="c10" cx="209.71" cy="545.08" r="2.6"/>
<circle class="c10" cx="210.31" cy="537.1" r="2.62"/>
<circle class="c10" cx="204.79" cy="558.2" r="2.14"/>
<circle class="c10" cx="205.69" cy="543.97" r="2.14"/>
<circle class="c10" cx="208.3" cy="535.45" r="2.34"/>
<circle class="c10" cx="206.31" cy="537.61" r="2.47"/>
<circle class="c10" cx="210.57" cy="522.38" r="2.57"/>
<circle class="c10" cx="210.28" cy="517.32" r="2.26"/>
<circle class="c10" cx="222.48" cy="512.07" r="2.49"/>
<circle class="c10" cx="208.18" cy="542.93" r="2.46"/>
<circle class="c10" cx="215.15" cy="527.58" r="2.25"/>
<circle class="c10" cx="209.96" cy="520.61" r="2.05"/>
<circle class="c10" cx="208.69" cy="535.01" r="2.43"/>
<circle class="c10" cx="210.43" cy="514.14" r="2.17"/>
<circle class="c10" cx="209.99" cy="526.26" r="2.17"/>
<circle class="c10" cx="208.03" cy="547.51" r="2.8"/>
<circle class="c10" cx="223.74" cy="551.1" r="2.01"/>
<circle class="c10" cx="207.71" cy="543.28" r="2.72"/>
<circle class="c10" cx="210.03" cy="540.49" r="2.77"/>
<circle class="c10" cx="206.59" cy="543.97" r="2.73"/>
<circle class="c10" cx="205.62" cy="557.22" r="2.43"/>
<circle class="c10" cx="220.38" cy="523.78" r="2.66"/>
<circle class="c10" cx="215.43" cy="528.44" r="2.36"/>
<circle class="c10" cx="220.2" cy="511.71" r="2.15"/>
<circle class="c10" cx="220.74" cy="535.45" r="2.13"/>
<circle class="c10" cx="206.96" cy="557.79" r="2.01"/>
<circle class="c10" cx="214.62" cy="512.81" r="2.62"/>
<circle class="c10" cx="206.44" cy="553.18" r="2.08"/>
<circle class="c10" cx="211.82" cy="536.66" r="2.78"/>
<circle class="c10" cx="209.34" cy="548.65" r="2.75"/>
<circle class="c10" cx="205.11" cy="547.22" r="2.37"/>
<circle class="c10" cx="208.21" cy="526.25" r="2.04"/>
<circle class="c10" cx="208.12" cy="549.61" r="2.46"/>
<circle class="c10" cx="210.35" cy="521" r="2.31"/>
<circle class="c10" cx="207.89" cy="541.33" r="2.01"/>
<circle class="c10" cx="208.55" cy="543.5" r="2.51"/>
<circle class="c10" cx="212.19" cy="540.73" r="2.47"/>
<circle class="c10" cx="204.89" cy="544.89" r="2.74"/>
<circle class="c10" cx="216.97" cy="514.86" r="2.24"/>
<circle class="c10" cx="216.4" cy="513.87" r="2.35"/>
<circle class="c10" cx="212.51" cy="529.45" r="2.38"/>
<circle class="c10" cx="206.52" cy="536.44" r="2.31"/>
<circle class="c10" cx="207.97" cy="549.77" r="2.77"/>
<circle class="c10" cx="215.05" cy="516.78" r="2.73"/>
<circle class="c10" cx="210.57" cy="549.65" r="2.3"/>
<circle class="c10" cx="207.18" cy="557.45" r="2.44"/>
<circle class="c10" cx="209.34" cy="515.72" r="2.48"/>
<circle class="c10" cx="220.44" cy="536.63" r="2.24"/>
<circle class="c10" cx="215.96" cy="547.29" r="2.28"/>
<circle class="c10" cx="212.12" cy="530.34" r="2.41"/>
<circle class="c10" cx="210.72" cy="517.63" r="2.67"/>
<circle class="c10" cx="210.22" cy="519.31" r="2.64"/>
<circle class="c10" cx="213.28" cy="552.54" r="2.75"/>
<circle class="c10" cx="205.92" cy="559.71" r="2.44"/>
<circle class="c10" cx="208.52" cy="524.18" r="2.08"/>
<circle class="c10" cx="207.73" cy="546.14" r="2.26"/>
<circle class="c10" cx="214.66" cy="515.97" r="2.08"/>
<circle class="c10" cx="216.65" cy="540.79" r="2.25"/>
<circle class="c10" cx="211.34" cy="532.26" r="2.24"/>
<circle class="c10" cx="209.57" cy="539" r="2.29"/>
<circle class="c10" cx="210.7" cy="525.47" r="2"/>
<circle class="c10" cx="209.91" cy="521.93" r="2.59"/>
<circle class="c10" cx="215.86" cy="531.52" r="2.11"/>
<circle class="c10" cx="214.86" cy="546.52" r="2.37"/>
<circle class="c10" cx="209.3" cy="527.62" r="2.44"/>
<circle class="c10" cx="214.08" cy="518.38" r="2.67"/>
<circle class="c10" cx="204.47" cy="552.87" r="2.43"/>
<circle class="c10" cx="219.35" cy="522.79" r="2.06"/>
<circle class="c10" cx="209.2" cy="513.31" r="2.41"/>
<circle class="c10" cx="212.62" cy="511.08" r="2.32"/>
<circle class="c10" cx="217.19" cy="539.3" r="2.44"/>
<circle class="c10" cx="213.79" cy="533.34" r="2.29"/>
<circle class="c10" cx="216.3" cy="520.78" r="2.59"/>
<circle class="c10" cx="211.3" cy="524.2" r="2.41"/>
<circle class="c10" cx="210.58" cy="529.54" r="2.53"/>
<circle class="c10" cx="211.98" cy="552.32" r="2.49"/>
<circle class="c10" cx="213.1" cy="517.88" r="2.36"/>
<circle class="c10" cx="224.23" cy="518.55" r="2.53"/>
<circle class="c10" cx="209.68" cy="558.37" r="2.39"/>
<circle class="c10" cx="208.71" cy="527.62" r="2.39"/>
<circle class="c10" cx="211.36" cy="512.67" r="2.03"/>
<circle class="c10" cx="221" cy="519.94" r="2.29"/>
<circle class="c10" cx="209.39" cy="533.22" r="2.04"/>
<circle class="c10" cx="204.88" cy="559.02" r="2.56"/>
<circle class="c10" cx="214.73" cy="535.83" r="2.67"/>
<circle class="c10" cx="212.4" cy="522.8" r="2.14"/>
<circle class="c10" cx="207.15" cy="542.51" r="2.52"/>
<circle class="c10" cx="207.47" cy="551.69" r="2.3"/>
<circle class="c10" cx="207.09" cy="555.32" r="2.28"/>
<circle class="c10" cx="207" cy="553.32" r="2.39"/>
<circle class="c10" cx="208.73" cy="540.01" r="2.11"/>
<circle class="c10" cx="209.89" cy="517.86" r="2.51"/>
<circle class="c10" cx="210.07" cy="520.18" r="2.29"/>
<circle class="c10" cx="205.06" cy="545.72" r="2.18"/>
<circle class="c10" cx="210.32" cy="550.46" r="2.39"/>
<circle class="c10" cx="207.45" cy="533.68" r="2.13"/>
<circle class="c10" cx="203.96" cy="551.58" r="2.03"/>
<circle class="c10" cx="206.36" cy="538.46" r="2.5"/>
<circle class="c10" cx="212.83" cy="511.48" r="2.04"/>
<circle class="c10" cx="209.52" cy="522.54" r="2.77"/>
<circle class="c10" cx="209.43" cy="539.77" r="2.01"/>
<circle class="c10" cx="209.84" cy="545.84" r="2.23"/>
<circle class="c11" cx="207.54" cy="508.9" r="2.6"/>
<circle class="c11" cx="221.61" cy="509.49" r="2.5"/>
<circle class="c11" cx="216.82" cy="513.52" r="2.49"/>
<circle class="c11" cx="209.27" cy="510.93" r="2.16"/>
<circle class="c11" cx="219.04" cy="510.35" r="2.27"/>
<circle class="c11" cx="216.63" cy="508.96" r="2.23"/>
<circle class="c11" cx="207.95" cy="507.01" r="2.52"/>
<circle class="c11" cx="215.08" cy="510.17" r="2.09"/>
<circle class="c11" cx="207.73" cy="509.15" r="2.37"/>
<circle class="c11" cx="206.7" cy="511.41" r="2.3"/>
<circle class="c11" cx="208.12" cy="509.28" r="2.08"/>
<circle class="c11" cx="216.86" cy="513.79" r="2.54"/>
<circle class="c11" cx="219.95" cy="512.98" r="2.31"/>
<circle class="c11" cx="212.67" cy="506.68" r="2.32"/>
<circle class="c11" cx="210.13" cy="512.24" r="2.47"/>
<circle class="c11" cx="212.86" cy="511.08" r="2.44"/>
<circle class="c11" cx="219.71" cy="513.32" r="2.06"/>
<circle class="c11" cx="208.41" cy="509.3" r="2.14"/>
<circle class="c11" cx="221.46" cy="510.36" r="2.53"/>
<circle class="c11" cx="213.36" cy="507.98" r="2.43"/>
<circle class="c11" cx="220.21" cy="512.47" r="2.07"/>
<circle class="c11" cx="206.13" cy="510.26" r="2.41"/>
<circle class="c11" cx="211.69" cy="509.04" r="2.09"/>
<circle class="c11" cx="217.73" cy="509.37" r="2.51"/>
<circle class="c11" cx="213.62" cy="509.45" r="2.17"/>
<circle class="c11" cx="218.25" cy="513.49" r="2.25"/>
<circle class="c11" cx="220.11" cy="511.68" r="2.22"/>
<circle class="c11" cx="215.99" cy="509.03" r="2.18"/>
<circle class="c11" cx="212.2" cy="511.88" r="2.44"/>
<circle class="c11" cx="221.39" cy="513.35" r="2.45"/>
<circle class="c12" cx="241.1" cy="494.1" r="3"/>
<circle class="c12" cx="232.5" cy="500.8" r="2.8"/>
<circle class="c12" cx="227.7" cy="506" r="2.8"/>
<circle class="c12" cx="225.1" cy="506.7" r="2.7"/>
<circle class="c12" cx="217.4" cy="506" r="2.6"/>
<circle class="c12" cx="235" cy="512" r="2.8"/>
<circle class="c12" cx="237.3" cy="520.5" r="2.8"/>
<circle class="c12" cx="235.8" cy="525.1" r="2.7"/>
<circle class="c12" cx="230" cy="497.5" r="2.6"/>
<circle class="c12" cx="222" cy="503" r="2.6"/>
<circle class="c12" cx="229" cy="515" r="2.6"/>
<circle class="c12" cx="226" cy="530" r="2.6"/>
<circle class="c12" cx="224" cy="538" r="2.5"/>
<circle class="c12" cx="221" cy="546" r="2.4"/>
<circle class="c12" cx="228" cy="522" r="2.5"/>
<circle class="c13" cx="272" cy="467.2" r="4.6"/>
<circle class="c14" cx="299.9" cy="479.8" r="3.4"/>
<circle cx="299.9" cy="484.5" r="3.0" fill="rgba(60,88,160,0.03)"/>
<circle cx="299.9" cy="484.95" r="3.0" fill="rgba(60,88,160,0.04)"/>
<circle cx="299.9" cy="485.4" r="3.0" fill="rgba(60,88,160,0.05)"/>
<circle cx="299.9" cy="485.85" r="3.0" fill="rgba(60,88,160,0.07)"/>
<circle cx="299.9" cy="486.3" r="3.0" fill="rgba(60,88,160,0.08)"/>
<circle cx="299.9" cy="486.75" r="3.0" fill="rgba(60,88,160,0.09)"/>
<circle cx="299.9" cy="487.2" r="3.0" fill="rgba(60,88,160,0.1)"/>
<circle cx="299.9" cy="487.65" r="3.0" fill="rgba(60,88,160,0.11)"/>
<circle cx="299.9" cy="488.1" r="3.0" fill="rgba(60,88,160,0.13)"/>
<circle cx="299.9" cy="488.55" r="3.0" fill="rgba(60,88,160,0.14)"/>
<circle cx="299.9" cy="489" r="3.0" fill="rgba(60,88,160,0.15)"/>
<circle cx="299.9" cy="489.45" r="3.0" fill="rgba(60,88,160,0.16)"/>
<circle cx="299.9" cy="489.9" r="3.0" fill="rgba(60,88,160,0.17)"/>
<circle cx="299.9" cy="490.35" r="3.0" fill="rgba(60,88,160,0.19)"/>
<circle cx="299.9" cy="490.8" r="3.0" fill="rgba(60,88,160,0.2)"/>
<circle cx="299.9" cy="491.25" r="3.0" fill="rgba(60,88,160,0.21)"/>
<circle cx="299.9" cy="491.7" r="3.0" fill="rgba(60,88,160,0.22)"/>
<circle cx="299.9" cy="492.15" r="3.0" fill="rgba(60,88,160,0.23)"/>
<circle cx="299.9" cy="492.6" r="3.0" fill="rgba(60,88,160,0.25)"/>
<circle cx="299.9" cy="493.05" r="3.0" fill="rgba(60,88,160,0.26)"/>
<circle cx="299.9" cy="493.5" r="3.0" fill="rgba(60,88,160,0.27)"/>
<circle cx="299.9" cy="493.95" r="3.0" fill="rgba(60,88,160,0.28)"/>
<circle cx="299.9" cy="494.4" r="3.0" fill="rgba(60,88,160,0.29)"/>
<circle cx="299.9" cy="494.85" r="3.0" fill="rgba(60,88,160,0.31)"/>
<polygon points="296.9,492 302.9,492 301.5,562 298.29999999999995,562" fill="#4a63a6"/>
<ellipse cx="299.9" cy="492" rx="3.0" ry="1.5" fill="#4a63a6"/>
<circle cx="299.9" cy="564.8" r="1.7" fill="#304d98"/>
<circle cx="299.9" cy="569.3" r="1.7" fill="#304d98"/>
<circle cx="299.9" cy="577" r="1.7" fill="#304d98"/>
<circle cx="327.6" cy="612.8" r="1.6" fill="#6f0d10"/>
<circle cx="338.4" cy="612.8" r="1.6" fill="#6f0d10"/>
<circle cx="344.8" cy="612.8" r="1.6" fill="#6f0d10"/>
<circle cx="349.2" cy="612.8" r="1.6" fill="#6f0d10"/>
<circle cx="352.6" cy="612.8" r="1.6" fill="#6f0d10"/>
<path d="M354.5,611.2 L456,610.5 A2.3,2.3 0 0 1 456,615.1 L354.5,614.4 A1.6,1.6 0 0 1 354.5,611.2 Z" fill="#720c10"/>
<circle cx="456" cy="612.8" r="2.1" fill="rgba(140,20,25,0.32)"/>
<circle cx="456.8" cy="612.8" r="2.1" fill="rgba(140,20,25,0.3)"/>
<circle cx="457.6" cy="612.8" r="2.1" fill="rgba(140,20,25,0.28)"/>
<circle cx="458.4" cy="612.8" r="2.1" fill="rgba(140,20,25,0.26)"/>
<circle cx="459.2" cy="612.8" r="2.1" fill="rgba(140,20,25,0.24)"/>
<circle cx="460" cy="612.8" r="2.1" fill="rgba(140,20,25,0.22)"/>
<circle cx="460.8" cy="612.8" r="2.1" fill="rgba(140,20,25,0.2)"/>
<circle cx="461.6" cy="612.8" r="2.1" fill="rgba(140,20,25,0.18)"/>
<circle cx="462.4" cy="612.8" r="2.1" fill="rgba(140,20,25,0.16)"/>
<circle cx="463.2" cy="612.8" r="2.1" fill="rgba(140,20,25,0.14)"/>
<circle cx="464" cy="612.8" r="2.1" fill="rgba(140,20,25,0.12)"/>
<circle cx="464.8" cy="612.8" r="2.1" fill="rgba(140,20,25,0.1)"/>
<circle cx="465.6" cy="612.8" r="2.1" fill="rgba(140,20,25,0.08)"/>
<circle cx="466.4" cy="612.8" r="2.1" fill="rgba(140,20,25,0.06)"/>
<circle class="c15" cx="468.5" cy="612.8" r="3"/>
<circle class="c16" cx="476.2" cy="612.8" r="3.2"/>
<circle class="c17" cx="485.7" cy="612.8" r="4"/>
<circle class="c12" cx="384.67" cy="528.66" r="2.26"/>
<circle class="c12" cx="412.03" cy="510.24" r="2.48"/>
<circle class="c12" cx="414.09" cy="521.39" r="2.43"/>
<circle class="c12" cx="412.56" cy="528.84" r="2.38"/>
<circle class="c12" cx="386.5" cy="515.55" r="2.34"/>
<circle class="c12" cx="384.28" cy="512.91" r="2.35"/>
<circle class="c12" cx="398.27" cy="509.16" r="2.43"/>
<circle class="c12" cx="406.68" cy="504.28" r="2.49"/>
<circle class="c12" cx="386.5" cy="507.34" r="2.39"/>
<circle class="c12" cx="406" cy="511.48" r="2.45"/>
<circle class="c12" cx="402.36" cy="535.63" r="2.3"/>
<circle class="c12" cx="448.26" cy="523.16" r="2.56"/>
<circle class="c12" cx="378.57" cy="517.17" r="2.3"/>
<circle class="c12" cx="364.63" cy="496.28" r="2.36"/>
<circle class="c12" cx="383.04" cy="520.83" r="2.3"/>
<circle class="c12" cx="377.38" cy="509.5" r="2.34"/>
<circle class="c12" cx="434.84" cy="511.16" r="2.57"/>
<circle class="c12" cx="379.14" cy="500.55" r="2.4"/>
<circle class="c12" cx="406.2" cy="521.2" r="2.39"/>
<circle class="c12" cx="397.09" cy="512.6" r="2.4"/>
<circle class="c12" cx="404.99" cy="513.93" r="2.43"/>
<circle class="c12" cx="399.51" cy="495.1" r="2.51"/>
<circle class="c12" cx="375.39" cy="524.59" r="2.25"/>
<circle class="c12" cx="419.83" cy="530.41" r="2.4"/>
<circle class="c12" cx="394.23" cy="509.92" r="2.41"/>
<circle class="c12" cx="403.56" cy="518" r="2.4"/>
<circle class="c12" cx="446.21" cy="505.87" r="2.65"/>
<circle class="c12" cx="386.84" cy="506" r="2.4"/>
<circle class="c12" cx="394.23" cy="519.13" r="2.36"/>
<circle class="c12" cx="388.45" cy="501.97" r="2.43"/>
<circle class="c12" cx="384.67" cy="514.66" r="2.34"/>
<circle class="c12" cx="425.17" cy="510.85" r="2.53"/>
<circle class="c12" cx="405.09" cy="520.65" r="2.39"/>
<circle class="c12" cx="458.9" cy="505.65" r="2.7"/>
<circle class="c12" cx="338.16" cy="500.74" r="2.22"/>
<circle class="c12" cx="365.98" cy="527.79" r="2.19"/>
<circle class="c12" cx="380.72" cy="501.2" r="2.4"/>
<circle class="c12" cx="391.97" cy="511.81" r="2.39"/>
<circle class="c12" cx="355.22" cy="503.05" r="2.28"/>
<circle class="c12" cx="391.97" cy="526.98" r="2.3"/>
<circle class="c12" cx="407.23" cy="508.96" r="2.47"/>
<circle class="c12" cx="401.07" cy="500.87" r="2.49"/>
<circle class="c12" cx="413.91" cy="498.74" r="2.55"/>
<circle class="c12" cx="397.44" cy="512.82" r="2.4"/>
<circle class="c12" cx="421.14" cy="502.22" r="2.56"/>
<circle class="c12" cx="390.44" cy="494.86" r="2.48"/>
<circle class="c12" cx="401.86" cy="513.88" r="2.42"/>
<circle class="c12" cx="410.27" cy="522.61" r="2.4"/>
<circle class="c12" cx="357.61" cy="493.15" r="2.35"/>
<circle class="c12" cx="426.3" cy="523.27" r="2.47"/>
<circle class="c12" cx="402.49" cy="507.63" r="2.45"/>
<circle class="c12" cx="386.5" cy="499.43" r="2.43"/>
<circle class="c12" cx="386.15" cy="503.89" r="2.41"/>
<circle class="c12" cx="382.6" cy="508.8" r="2.36"/>
<circle class="c12" cx="438.79" cy="509.13" r="2.6"/>
<circle class="c12" cx="386.5" cy="511.69" r="2.36"/>
<circle class="c12" cx="417.58" cy="518.22" r="2.46"/>
<circle class="c12" cx="388.75" cy="496.12" r="2.46"/>
<circle class="c12" cx="434.85" cy="520.65" r="2.52"/>
<circle class="c12" cx="364.63" cy="526.82" r="2.19"/>
<circle class="c12" cx="370.45" cy="516.77" r="2.27"/>
<circle class="c12" cx="396.92" cy="527.96" r="2.32"/>
<circle class="c12" cx="402.85" cy="543.31" r="2.25"/>
<circle class="c12" cx="402.49" cy="497.68" r="2.51"/>
<circle class="c12" cx="367.22" cy="543.31" r="2.11"/>
<circle class="c12" cx="403.21" cy="506.84" r="2.46"/>
<circle class="c12" cx="388.45" cy="511.61" r="2.37"/>
<circle class="c12" cx="432.13" cy="496.84" r="2.64"/>
<circle class="c12" cx="414.32" cy="526.37" r="2.4"/>
<circle class="c12" cx="403.21" cy="524.09" r="2.36"/>
<circle class="c12" cx="398.43" cy="516.39" r="2.39"/>
<circle class="c12" cx="384.28" cy="498.44" r="2.43"/>
<circle class="c12" cx="393.14" cy="528.84" r="2.3"/>
<circle class="c12" cx="408.7" cy="506.98" r="2.48"/>
<circle class="c12" cx="400.24" cy="521.79" r="2.37"/>
<circle class="c12" cx="387.82" cy="519.86" r="2.32"/>
<circle class="c12" cx="385.8" cy="521.01" r="2.31"/>
<circle class="c12" cx="393.14" cy="527.62" r="2.3"/>
<circle class="c12" cx="405.3" cy="521.79" r="2.39"/>
<circle class="c12" cx="421.47" cy="510.06" r="2.52"/>
<circle class="c12" cx="437.66" cy="527.79" r="2.49"/>
<circle class="c12" cx="435.23" cy="515.1" r="2.55"/>
<circle class="c12" cx="414.83" cy="504.93" r="2.52"/>
<circle class="c12" cx="423.64" cy="513.29" r="2.51"/>
<circle class="c12" cx="410.57" cy="514.87" r="2.45"/>
<circle class="c12" cx="417.62" cy="522.94" r="2.43"/>
<circle class="c12" cx="409.35" cy="498.36" r="2.54"/>
<circle class="c12" cx="450.55" cy="503.13" r="2.68"/>
<circle class="c12" cx="436.52" cy="508.64" r="2.59"/>
<circle class="c12" cx="426.03" cy="494.27" r="2.63"/>
<circle class="c12" cx="397.44" cy="529.99" r="2.31"/>
<circle class="c12" cx="394.43" cy="512.03" r="2.4"/>
<circle class="c12" cx="377.99" cy="526.08" r="2.25"/>
<circle class="c12" cx="386.15" cy="526.37" r="2.28"/>
<circle class="c12" cx="422.39" cy="496.69" r="2.6"/>
<circle class="c12" cx="416.26" cy="527.96" r="2.4"/>
<circle class="c12" cx="404.23" cy="522.61" r="2.38"/>
<circle class="c12" cx="406.1" cy="522.29" r="2.39"/>
<circle class="c12" cx="424.2" cy="506.81" r="2.55"/>
<circle class="c12" cx="390.71" cy="508.83" r="2.4"/>
<circle class="c12" cx="400.52" cy="496.46" r="2.51"/>
<circle class="c12" cx="348.92" cy="509.74" r="2.22"/>
<circle class="c12" cx="430.89" cy="517.65" r="2.52"/>
<circle class="c12" cx="386.15" cy="512.11" r="2.36"/>
<circle class="c12" cx="375.39" cy="519.37" r="2.27"/>
<circle class="c12" cx="372.28" cy="515.73" r="2.28"/>
<circle class="c12" cx="344.46" cy="520.03" r="2.14"/>
<circle class="c12" cx="413.25" cy="517.79" r="2.44"/>
<circle class="c12" cx="388.45" cy="504.84" r="2.41"/>
<circle class="c12" cx="439.52" cy="521.39" r="2.53"/>
<circle class="c12" cx="429.91" cy="531.51" r="2.43"/>
<circle class="c12" cx="377.38" cy="508.51" r="2.34"/>
<circle class="c12" cx="405.5" cy="512.73" r="2.44"/>
<circle class="c12" cx="421.14" cy="515.96" r="2.49"/>
<circle class="c12" cx="418.53" cy="518.89" r="2.46"/>
<circle class="c12" cx="382.6" cy="532.98" r="2.23"/>
<circle class="c12" cx="416.32" cy="522.72" r="2.43"/>
<circle class="c12" cx="424.82" cy="503.72" r="2.57"/>
<circle class="c12" cx="393.14" cy="513.05" r="2.38"/>
<circle class="c12" cx="404.01" cy="516.02" r="2.41"/>
<circle class="c12" cx="361.51" cy="499.31" r="2.33"/>
<circle class="c12" cx="384.28" cy="508.57" r="2.37"/>
<circle class="c12" cx="406.39" cy="511" r="2.45"/>
<circle class="c12" cx="404.56" cy="504.7" r="2.48"/>
<circle class="c12" cx="376.74" cy="503.89" r="2.37"/>
<circle class="c12" cx="403.21" cy="513.53" r="2.42"/>
<circle class="c12" cx="388.14" cy="514.39" r="2.36"/>
<circle class="c12" cx="413.79" cy="525.79" r="2.4"/>
<circle class="c12" cx="355.22" cy="516.71" r="2.21"/>
<circle class="c12" cx="416.96" cy="516.97" r="2.46"/>
<circle class="c12" cx="434.19" cy="500.82" r="2.63"/>
<circle class="c12" cx="435" cy="499.25" r="2.64"/>
<circle class="c12" cx="405.7" cy="508.2" r="2.46"/>
<circle class="c12" cx="381.21" cy="540.99" r="2.18"/>
<circle class="c12" cx="409.35" cy="521.69" r="2.4"/>
<circle class="c12" cx="393.8" cy="539.06" r="2.24"/>
<circle class="c12" cx="422.01" cy="515.96" r="2.49"/>
<circle class="c12" cx="383.88" cy="525.65" r="2.27"/>
<circle class="c12" cx="377.99" cy="522.5" r="2.27"/>
<circle class="c12" cx="373.91" cy="528.13" r="2.22"/>
<circle class="c12" cx="393.58" cy="517.37" r="2.36"/>
<circle class="c12" cx="421.03" cy="531.74" r="2.4"/>
<circle class="c12" cx="387.5" cy="522.94" r="2.31"/>
<circle class="c12" cx="407.68" cy="514.44" r="2.44"/>
<circle class="c12" cx="420.77" cy="495.35" r="2.6"/>
<circle class="c12" cx="398.9" cy="508.57" r="2.43"/>
<circle class="c12" cx="379.68" cy="515.21" r="2.32"/>
<circle class="c12" cx="399.51" cy="492.3" r="2.53"/>
<circle class="c12" cx="369.45" cy="515.26" r="2.27"/>
<circle class="c12" cx="399.36" cy="521.59" r="2.36"/>
<circle class="c12" cx="407.94" cy="513.78" r="2.44"/>
<circle class="c12" cx="401.99" cy="521.2" r="2.38"/>
<circle class="c12" cx="417.81" cy="523.39" r="2.43"/>
<circle class="c12" cx="389.33" cy="505.35" r="2.41"/>
<circle class="c12" cx="434.88" cy="521.49" r="2.51"/>
<circle class="c12" cx="414.94" cy="514.77" r="2.47"/>
<circle class="c12" cx="425.79" cy="512.78" r="2.52"/>
<circle class="c12" cx="442.58" cy="498.43" r="2.67"/>
<circle class="c12" cx="373.91" cy="517.23" r="2.28"/>
<circle class="c12" cx="379.68" cy="514.77" r="2.32"/>
<circle class="c12" cx="352.39" cy="530.83" r="2.11"/>
<circle class="c12" cx="425.14" cy="510.47" r="2.53"/>
<circle class="c12" cx="418.31" cy="523.05" r="2.43"/>
<circle class="c12" cx="372.28" cy="515.9" r="2.28"/>
<circle class="c12" cx="434.49" cy="513.15" r="2.56"/>
<circle class="c12" cx="403.56" cy="502.02" r="2.49"/>
<circle class="c12" cx="408.7" cy="512.07" r="2.46"/>
<circle class="c12" cx="409.89" cy="515.84" r="2.44"/>
<circle class="c12" cx="439.4" cy="514.98" r="2.57"/>
<circle class="c12" cx="380.21" cy="507.03" r="2.36"/>
<circle class="c12" cx="423.25" cy="518.66" r="2.48"/>
<circle class="c12" cx="417.53" cy="503.03" r="2.54"/>
<circle class="c12" cx="409.19" cy="523.39" r="2.39"/>
<circle class="c12" cx="442.31" cy="510.66" r="2.6"/>
<circle class="c12" cx="396.19" cy="513.29" r="2.4"/>
<circle class="c12" cx="389.04" cy="520.38" r="2.33"/>
<circle class="c12" cx="401.99" cy="503.79" r="2.47"/>
<circle class="c12" cx="359.69" cy="511.48" r="2.25"/>
<circle class="c12" cx="387.18" cy="513.05" r="2.36"/>
<circle class="c12" cx="379.68" cy="512.46" r="2.33"/>
<circle class="c12" cx="371.39" cy="514.13" r="2.29"/>
<circle class="c12" cx="392.21" cy="530.83" r="2.28"/>
<circle class="c12" cx="409.66" cy="542.09" r="2.29"/>
<circle class="c12" cx="389.33" cy="529.02" r="2.28"/>
<circle class="c12" cx="405.5" cy="517.3" r="2.41"/>
<circle class="c12" cx="419.91" cy="515.96" r="2.48"/>
<circle class="c12" cx="393.36" cy="502.59" r="2.44"/>
<circle class="c12" cx="386.84" cy="514.24" r="2.35"/>
<circle class="c12" cx="435.61" cy="507.23" r="2.6"/>
<circle class="c12" cx="449.94" cy="509.29" r="2.64"/>
<circle class="c12" cx="385.43" cy="503.07" r="2.41"/>
<circle class="c12" cx="422.63" cy="516.71" r="2.49"/>
<circle class="c12" cx="412.81" cy="514.77" r="2.46"/>
<circle class="c12" cx="411.7" cy="513.58" r="2.46"/>
<circle class="c12" cx="395.63" cy="496.85" r="2.49"/>
<circle class="c12" cx="410.64" cy="527.29" r="2.38"/>
<circle class="c12" cx="404.23" cy="516.97" r="2.41"/>
<circle class="c12" cx="406.95" cy="511.48" r="2.45"/>
<circle class="c12" cx="408.37" cy="531.05" r="2.35"/>
<circle class="c12" cx="357.61" cy="499.77" r="2.31"/>
<circle class="c12" cx="398.27" cy="500.39" r="2.48"/>
<circle class="c12" cx="412.49" cy="519.29" r="2.43"/>
<circle class="c12" cx="355.22" cy="508.73" r="2.25"/>
<circle class="c12" cx="412.23" cy="496.23" r="2.56"/>
<circle class="c12" cx="393.58" cy="513.15" r="2.39"/>
<circle class="c12" cx="352.39" cy="520.03" r="2.17"/>
<circle class="c12" cx="405.2" cy="517.44" r="2.41"/>
<circle class="c12" cx="376.08" cy="499.59" r="2.39"/>
<circle class="c12" cx="440.15" cy="524.72" r="2.52"/>
<circle class="c12" cx="401.47" cy="518.29" r="2.39"/>
<circle class="c12" cx="437.11" cy="511.52" r="2.58"/>
<circle class="c12" cx="414.26" cy="523.39" r="2.42"/>
<circle class="c12" cx="433.07" cy="516.97" r="2.53"/>
<circle class="c12" cx="446.85" cy="502.88" r="2.67"/>
<circle class="c12" cx="382.15" cy="508.61" r="2.36"/>
<circle class="c12" cx="405.2" cy="516.15" r="2.42"/>
<circle class="c12" cx="418.22" cy="514.18" r="2.48"/>
<circle class="c12" cx="399.66" cy="520.29" r="2.37"/>
<circle class="c12" cx="379.68" cy="513.15" r="2.33"/>
<circle class="c12" cx="403.44" cy="503.05" r="2.48"/>
<circle class="c12" cx="364.63" cy="512.78" r="2.27"/>
<circle class="c12" cx="439.93" cy="520.74" r="2.54"/>
<circle class="c12" cx="372.28" cy="523.27" r="2.24"/>
<circle class="c12" cx="419.26" cy="526.67" r="2.42"/>
<circle class="c12" cx="399.36" cy="520.65" r="2.37"/>
<circle class="c12" cx="384.28" cy="517.04" r="2.33"/>
<circle class="c12" cx="389.33" cy="517.65" r="2.34"/>
<circle class="c12" cx="397.44" cy="511.2" r="2.41"/>
<circle class="c12" cx="387.18" cy="509.16" r="2.38"/>
<circle class="c12" cx="386.5" cy="518.51" r="2.33"/>
<circle class="c12" cx="399.95" cy="531.28" r="2.31"/>
<circle class="c12" cx="377.99" cy="520.65" r="2.28"/>
<circle class="c12" cx="372.28" cy="516.27" r="2.28"/>
<circle class="c12" cx="380.21" cy="523.16" r="2.27"/>
<circle class="c12" cx="425.05" cy="492.87" r="2.63"/>
<circle class="c12" cx="424.5" cy="510.92" r="2.53"/>
<circle class="c12" cx="427.84" cy="510.73" r="2.54"/>
<circle class="c12" cx="392.21" cy="512.78" r="2.38"/>
<circle class="c12" cx="390.17" cy="536.31" r="2.24"/>
<circle class="c12" cx="377.38" cy="522.29" r="2.27"/>
<circle class="c12" cx="411.35" cy="518.82" r="2.43"/>
<circle class="c12" cx="352.39" cy="514.24" r="2.21"/>
<circle class="c12" cx="406.29" cy="506.15" r="2.48"/>
<circle class="c12" cx="408.28" cy="489.76" r="2.58"/>
<circle class="c12" cx="376.74" cy="500.62" r="2.39"/>
<circle class="c12" cx="422.59" cy="520.38" r="2.47"/>
<circle class="c12" cx="395.63" cy="521.49" r="2.35"/>
<circle class="c12" cx="395.63" cy="518.44" r="2.36"/>
<circle class="c12" cx="387.5" cy="513.98" r="2.36"/>
<circle class="c12" cx="372.28" cy="502.55" r="2.36"/>
<circle class="c12" cx="421.51" cy="520.92" r="2.46"/>
<circle class="c12" cx="421.11" cy="524.59" r="2.44"/>
<circle class="c12" cx="352.39" cy="510.73" r="2.23"/>
<circle class="c12" cx="412.94" cy="521.39" r="2.42"/>
<circle class="c12" cx="412.43" cy="494.11" r="2.57"/>
<circle class="c12" cx="407.32" cy="526.37" r="2.37"/>
<circle class="c12" cx="421.03" cy="512.96" r="2.5"/>
<circle class="c12" cx="371.39" cy="516.02" r="2.28"/>
<circle class="c12" cx="364.63" cy="520.38" r="2.22"/>
<circle class="c12" cx="391.97" cy="511.65" r="2.39"/>
<circle class="c12" cx="338.16" cy="514.6" r="2.15"/>
<circle class="c12" cx="407.32" cy="518.22" r="2.42"/>
<circle class="c12" cx="381.21" cy="505.35" r="2.38"/>
<circle class="c12" cx="397.94" cy="516.15" r="2.39"/>
<circle class="c12" cx="416.21" cy="512.64" r="2.48"/>
<circle class="c12" cx="394.64" cy="507.17" r="2.42"/>
<circle class="c12" cx="363.15" cy="516.02" r="2.24"/>
<circle class="c12" cx="431.17" cy="535.63" r="2.42"/>
<circle class="c12" cx="378.57" cy="512.33" r="2.33"/>
<circle class="c12" cx="404.78" cy="517.3" r="2.41"/>
<circle class="c12" cx="409.97" cy="522.94" r="2.4"/>
<circle class="c12" cx="424.1" cy="511.94" r="2.52"/>
<circle class="c12" cx="445.62" cy="505.35" r="2.65"/>
<circle class="c12" cx="413.13" cy="499.61" r="2.54"/>
<circle class="c12" cx="377.99" cy="516.9" r="2.3"/>
<circle class="c12" cx="352.39" cy="505.12" r="2.26"/>
<circle class="c12" cx="441.47" cy="518.82" r="2.56"/>
<circle class="c12" cx="367.22" cy="502.55" r="2.34"/>
<circle class="c12" cx="379.68" cy="519.05" r="2.29"/>
<circle class="c12" cx="438.53" cy="517.58" r="2.55"/>
<circle class="c12" cx="394.01" cy="497.63" r="2.48"/>
<circle class="c12" cx="414.09" cy="524.72" r="2.41"/>
<circle class="c12" cx="437.65" cy="531.51" r="2.47"/>
<circle class="c12" cx="424.82" cy="508.96" r="2.54"/>
<circle class="c12" cx="385.43" cy="521.79" r="2.3"/>
<circle class="c12" cx="370.45" cy="496.45" r="2.38"/>
<circle class="c12" cx="402.11" cy="520.29" r="2.38"/>
<circle class="c12" cx="413.68" cy="501.75" r="2.53"/>
<circle class="c12" cx="407.14" cy="506.87" r="2.48"/>
<circle class="c12" cx="423.45" cy="513.34" r="2.51"/>
<circle class="c12" cx="407.05" cy="515.1" r="2.43"/>
<circle class="c12" cx="373.12" cy="526.67" r="2.22"/>
<circle class="c12" cx="410.49" cy="521.11" r="2.41"/>
<circle class="c12" cx="398.43" cy="516.46" r="2.39"/>
<circle class="c12" cx="423.89" cy="511.08" r="2.52"/>
<circle class="c12" cx="406.77" cy="516.84" r="2.42"/>
<circle class="c12" cx="395.44" cy="517.37" r="2.37"/>
<circle class="c12" cx="405.3" cy="531.28" r="2.33"/>
<circle class="c12" cx="398.43" cy="510.21" r="2.42"/>
<circle class="c12" cx="409.03" cy="524.85" r="2.38"/>
<circle class="c12" cx="388.14" cy="517.79" r="2.34"/>
<circle class="c12" cx="385.06" cy="526.22" r="2.28"/>
<circle class="c12" cx="371.39" cy="513.83" r="2.29"/>
<circle class="c12" cx="408.78" cy="512.42" r="2.45"/>
<circle class="c12" cx="376.74" cy="510.03" r="2.33"/>
<circle class="c12" cx="393.8" cy="518.97" r="2.35"/>
<circle class="c12" cx="375.39" cy="519.05" r="2.28"/>
<circle class="c12" cx="417.34" cy="515.79" r="2.47"/>
<circle class="c12" cx="395.82" cy="524.09" r="2.33"/>
<circle class="c12" cx="344.46" cy="519.21" r="2.15"/>
<circle class="c12" cx="404.01" cy="496" r="2.53"/>
<circle class="c12" cx="412.1" cy="510.89" r="2.48"/>
<circle class="c12" cx="422.56" cy="512.96" r="2.51"/>
<circle class="c12" cx="348.92" cy="511.36" r="2.21"/>
<circle class="c12" cx="404.45" cy="491.99" r="2.55"/>
<circle class="c12" cx="380.21" cy="501.22" r="2.4"/>
<circle class="c12" cx="363.15" cy="498.43" r="2.34"/>
<circle class="c12" cx="402.36" cy="505.48" r="2.47"/>
<circle class="c12" cx="417.01" cy="507.06" r="2.52"/>
<circle class="c12" cx="401.47" cy="520.56" r="2.38"/>
<circle class="c12" cx="394.84" cy="521.69" r="2.34"/>
<circle class="c12" cx="396.01" cy="530.2" r="2.3"/>
<circle class="c12" cx="403.33" cy="504.04" r="2.48"/>
<circle class="c12" cx="429.83" cy="500.65" r="2.61"/>
<circle class="c12" cx="402.85" cy="515.49" r="2.41"/>
<circle class="c12" cx="392.21" cy="509.96" r="2.4"/>
<circle class="c12" cx="417.34" cy="510.5" r="2.5"/>
<circle class="c12" cx="364.63" cy="499.99" r="2.34"/>
<circle class="c12" cx="411.21" cy="503.91" r="2.51"/>
<circle class="c12" cx="400.24" cy="516.58" r="2.39"/>
<circle class="c12" cx="448.77" cy="524.72" r="2.55"/>
<circle class="c12" cx="355.22" cy="493.75" r="2.33"/>
<circle class="c12" cx="405.09" cy="518.29" r="2.41"/>
<circle class="c12" cx="383.88" cy="534.09" r="2.23"/>
<circle class="c12" cx="446.96" cy="506.78" r="2.65"/>
<circle class="c12" cx="412.03" cy="505.6" r="2.51"/>
<circle class="c12" cx="375.39" cy="509.29" r="2.33"/>
<circle class="c12" cx="426.85" cy="536.31" r="2.4"/>
<circle class="c12" cx="414.26" cy="506.38" r="2.51"/>
<circle class="c12" cx="401.47" cy="522.83" r="2.36"/>
<circle class="c12" cx="394.64" cy="518.59" r="2.36"/>
<circle class="c12" cx="408.2" cy="519.29" r="2.41"/>
<circle class="c12" cx="418.57" cy="519.13" r="2.46"/>
<circle class="c12" cx="385.43" cy="502.11" r="2.41"/>
<circle class="c12" cx="394.84" cy="508.54" r="2.42"/>
<circle class="c12" cx="365.98" cy="498.55" r="2.35"/>
<circle class="c12" cx="361.51" cy="512.96" r="2.25"/>
<circle class="c12" cx="393.14" cy="521.59" r="2.34"/>
<circle class="c12" cx="391.73" cy="501.44" r="2.44"/>
<circle class="c12" cx="443.66" cy="516.33" r="2.58"/>
<circle class="c12" cx="389.62" cy="532.98" r="2.26"/>
<circle class="c12" cx="443.04" cy="524.72" r="2.53"/>
<circle class="c12" cx="375.39" cy="512.87" r="2.31"/>
<circle class="c12" cx="417.81" cy="498.52" r="2.57"/>
<circle class="c12" cx="454.87" cy="506.31" r="2.68"/>
<circle class="c12" cx="386.5" cy="520.56" r="2.31"/>
<circle class="c12" cx="394.23" cy="505.8" r="2.43"/>
<circle class="c12" cx="423.48" cy="507.69" r="2.54"/>
<circle class="c12" cx="348.92" cy="519.61" r="2.16"/>
<circle class="c12" cx="436.4" cy="519.29" r="2.53"/>
<circle class="c12" cx="396.92" cy="499.54" r="2.48"/>
<circle class="c12" cx="446.23" cy="506.25" r="2.65"/>
<circle class="c12" cx="387.82" cy="537.03" r="2.23"/>
<circle class="c12" cx="376.74" cy="507.43" r="2.35"/>
<circle class="c12" cx="414.15" cy="502.07" r="2.53"/>
<circle class="c12" cx="370.45" cy="511.9" r="2.3"/>
<circle class="c12" cx="344.46" cy="522.83" r="2.13"/>
<circle class="c12" cx="412.49" cy="535.96" r="2.34"/>
<circle class="c12" cx="419.91" cy="495.42" r="2.6"/>
<circle class="c12" cx="361.51" cy="516.52" r="2.23"/>
<circle class="c12" cx="443.13" cy="508.86" r="2.62"/>
<circle class="c12" cx="409.11" cy="512.82" r="2.45"/>
<circle class="c12" cx="363.15" cy="515.32" r="2.25"/>
<circle class="c12" cx="432.02" cy="513.05" r="2.55"/>
<circle class="c12" cx="417.48" cy="517.58" r="2.46"/>
<circle class="c12" cx="376.74" cy="518.29" r="2.29"/>
<circle class="c12" cx="371.39" cy="527.62" r="2.21"/>
<circle class="c12" cx="398.43" cy="516.21" r="2.39"/>
<circle class="c12" cx="374.67" cy="506.89" r="2.34"/>
<circle class="c12" cx="374.67" cy="509.64" r="2.33"/>
<circle class="c12" cx="411.7" cy="497.09" r="2.55"/>
<circle class="c12" cx="407.68" cy="505.95" r="2.49"/>
<circle class="c12" cx="400.8" cy="528.13" r="2.33"/>
<circle class="c12" cx="420.92" cy="496.95" r="2.59"/>
<circle class="c12" cx="395.63" cy="492.76" r="2.51"/>
<circle class="c12" cx="422.69" cy="493.7" r="2.62"/>
<circle class="c12" cx="394.23" cy="522.83" r="2.33"/>
<circle class="c12" cx="400.38" cy="521.3" r="2.37"/>
<circle class="c12" cx="404.01" cy="516.39" r="2.41"/>
<circle class="c12" cx="403.09" cy="514.82" r="2.42"/>
<circle class="c12" cx="373.91" cy="519.29" r="2.27"/>
<circle class="c12" cx="431.57" cy="514.55" r="2.54"/>
<circle class="c12" cx="364.63" cy="534.38" r="2.15"/>
<circle class="c12" cx="390.71" cy="511.12" r="2.39"/>
<circle class="c12" cx="368.37" cy="531.98" r="2.17"/>
<circle class="c12" cx="421.33" cy="523.97" r="2.44"/>
<circle class="c12" cx="395.82" cy="515.15" r="2.38"/>
<circle class="c12" cx="365.98" cy="528.13" r="2.19"/>
<circle class="c12" cx="395.24" cy="505.95" r="2.43"/>
<circle class="c12" cx="405.4" cy="520.83" r="2.39"/>
<circle class="c12" cx="412.03" cy="508.67" r="2.49"/>
<circle class="c12" cx="373.91" cy="526.22" r="2.23"/>
<circle class="c12" cx="415.48" cy="502.44" r="2.54"/>
<circle class="c12" cx="409.35" cy="502" r="2.52"/>
<circle class="c12" cx="436.66" cy="529.4" r="2.48"/>
<circle class="c12" cx="411.21" cy="500.62" r="2.53"/>
<circle class="c12" cx="428.08" cy="499.49" r="2.61"/>
<circle class="c12" cx="383.88" cy="507.03" r="2.38"/>
<circle class="c12" cx="418.87" cy="519.95" r="2.45"/>
<circle class="c12" cx="403.79" cy="527.46" r="2.35"/>
<circle class="c12" cx="376.74" cy="510.62" r="2.33"/>
<circle class="c12" cx="425.98" cy="513.93" r="2.52"/>
<circle class="c12" cx="438.39" cy="498.87" r="2.65"/>
<circle class="c12" cx="373.91" cy="514.93" r="2.29"/>
<circle class="c12" cx="385.8" cy="505.6" r="2.4"/>
<circle class="c12" cx="417.39" cy="521.99" r="2.44"/>
<circle class="c12" cx="422.69" cy="527.29" r="2.43"/>
<circle class="c12" cx="429.22" cy="538.63" r="2.39"/>
<circle class="c12" cx="394.23" cy="521.11" r="2.34"/>
<circle class="c12" cx="416.32" cy="511.36" r="2.49"/>
<circle class="c12" cx="344.46" cy="527.46" r="2.1"/>
<circle class="c12" cx="383.88" cy="501.97" r="2.41"/>
<circle class="c12" cx="440.89" cy="507.03" r="2.62"/>
<circle class="c12" cx="435.53" cy="521.49" r="2.52"/>
<circle class="c12" cx="409.66" cy="512.64" r="2.46"/>
<circle class="c12" cx="371.39" cy="517.44" r="2.27"/>
<circle class="c12" cx="389.62" cy="509.33" r="2.39"/>
<circle class="c12" cx="411.63" cy="519.45" r="2.43"/>
<circle class="c12" cx="385.06" cy="533.25" r="2.24"/>
<circle class="c12" cx="411.9" cy="514.98" r="2.45"/>
<circle class="c12" cx="398.1" cy="508.42" r="2.43"/>
<circle class="c12" cx="386.15" cy="523.62" r="2.3"/>
<circle class="c12" cx="383.46" cy="517.37" r="2.32"/>
<circle class="c12" cx="404.45" cy="520.03" r="2.39"/>
<circle class="c12" cx="387.5" cy="527.29" r="2.28"/>
<circle class="c12" cx="388.45" cy="531.51" r="2.26"/>
<circle class="c12" cx="381.69" cy="508.48" r="2.36"/>
<circle class="c12" cx="403.33" cy="515.49" r="2.41"/>
<circle class="c12" cx="393.14" cy="504.82" r="2.43"/>
<circle class="c12" cx="368.37" cy="509.47" r="2.3"/>
<circle class="c12" cx="380.21" cy="511.12" r="2.34"/>
<circle class="c8" cx="379.68" cy="568.69" r="2.02"/>
<circle class="c8" cx="411.49" cy="550.1" r="2.25"/>
<circle class="c8" cx="413.91" cy="551.32" r="2.26"/>
<circle class="c8" cx="425.92" cy="568.69" r="2.21"/>
<circle class="c8" cx="384.28" cy="551.32" r="2.13"/>
<circle class="c8" cx="443.95" cy="576.7" r="2.24"/>
<circle class="c8" cx="364.63" cy="564.01" r="1.98"/>
<circle class="c8" cx="374.67" cy="576.7" r="1.95"/>
<circle class="c8" cx="380.72" cy="554.22" r="2.1"/>
<circle class="c8" cx="364.63" cy="576.7" r="1.91"/>
<circle class="c8" cx="414.32" cy="568.69" r="2.16"/>
<circle class="c8" cx="393.36" cy="556" r="2.14"/>
<circle class="c8" cx="414.49" cy="550.1" r="2.27"/>
<circle class="c8" cx="338.16" cy="542.69" r="1.99"/>
<circle class="c8" cx="406.1" cy="524.46" r="2.37"/>
<circle class="c8" cx="387.82" cy="545.42" r="2.18"/>
<circle class="c8" cx="444.25" cy="524.46" r="2.53"/>
<circle class="c8" cx="363.15" cy="550.1" r="2.05"/>
<circle class="c8" cx="367.22" cy="556" r="2.03"/>
<circle class="c8" cx="451.9" cy="564.01" r="2.34"/>
<circle class="c8" cx="344.46" cy="552.68" r="1.96"/>
<circle class="c8" cx="392.45" cy="549" r="2.18"/>
<circle class="c8" cx="389.04" cy="568.69" r="2.05"/>
<circle class="c8" cx="403.67" cy="543.97" r="2.25"/>
<circle class="c8" cx="449.93" cy="576.7" r="2.26"/>
<circle class="c8" cx="327.4" cy="549" r="1.91"/>
<circle class="c8" cx="344.46" cy="534.38" r="2.06"/>
<circle class="c8" cx="427.45" cy="523.62" r="2.47"/>
<circle class="c8" cx="379.14" cy="564.01" r="2.04"/>
<circle class="c8" cx="397.61" cy="547.99" r="2.21"/>
<circle class="c8" cx="327.4" cy="568.69" r="1.82"/>
<circle class="c8" cx="363.15" cy="538.63" r="2.11"/>
<circle class="c8" cx="365.98" cy="556" r="2.03"/>
<circle class="c8" cx="368.37" cy="576.7" r="1.93"/>
<circle class="c8" cx="413.19" cy="564.01" r="2.18"/>
<circle class="c8" cx="418.04" cy="550.1" r="2.28"/>
<circle class="c8" cx="327.4" cy="576.7" r="1.8"/>
<circle class="c8" cx="368.37" cy="564.01" r="2"/>
<circle class="c8" cx="411.56" cy="529.6" r="2.37"/>
<circle class="c8" cx="427.15" cy="547.99" r="2.33"/>
<circle class="c8" cx="387.5" cy="549" r="2.16"/>
<circle class="c8" cx="439.02" cy="554.22" r="2.35"/>
<circle class="c8" cx="369.45" cy="539.06" r="2.14"/>
<circle class="c8" cx="379.14" cy="541.53" r="2.17"/>
<circle class="c8" cx="431.89" cy="568.69" r="2.23"/>
<circle class="c8" cx="418.13" cy="568.69" r="2.18"/>
<circle class="c8" cx="394.43" cy="568.69" r="2.08"/>
<circle class="c8" cx="413.19" cy="537.8" r="2.33"/>
<circle class="c8" cx="438.52" cy="564.01" r="2.29"/>
<circle class="c8" cx="448.72" cy="568.69" r="2.3"/>
<circle class="c8" cx="327.4" cy="524.72" r="2.04"/>
<circle class="c8" cx="405.8" cy="534.99" r="2.31"/>
<circle class="c8" cx="398.9" cy="564.01" r="2.12"/>
<circle class="c8" cx="401.86" cy="533.25" r="2.31"/>
<circle class="c8" cx="421.44" cy="543.97" r="2.33"/>
<circle class="c8" cx="367.22" cy="576.7" r="1.92"/>
<circle class="c8" cx="379.14" cy="556" r="2.08"/>
<circle class="c8" cx="357.61" cy="558.11" r="1.98"/>
<circle class="c8" cx="446.36" cy="568.69" r="2.29"/>
<circle class="c8" cx="364.63" cy="576.7" r="1.91"/>
<circle class="c8" cx="425.62" cy="539.06" r="2.37"/>
<circle class="c8" cx="441.68" cy="560.69" r="2.32"/>
<circle class="c8" cx="327.4" cy="558.11" r="1.87"/>
<circle class="c8" cx="389.9" cy="568.69" r="2.06"/>
<circle class="c8" cx="442.97" cy="542.09" r="2.43"/>
<circle class="c8" cx="392.91" cy="539.51" r="2.23"/>
<circle class="c8" cx="344.46" cy="532.72" r="2.07"/>
<circle class="c8" cx="430.27" cy="528.13" r="2.46"/>
<circle class="c8" cx="412.1" cy="576.7" r="2.11"/>
<circle class="c8" cx="418.08" cy="558.11" r="2.24"/>
<circle class="c8" cx="416.71" cy="556" r="2.24"/>
<circle class="c8" cx="327.4" cy="528.48" r="2.02"/>
<circle class="c8" cx="413.37" cy="551.32" r="2.25"/>
<circle class="c8" cx="338.16" cy="558.11" r="1.91"/>
<circle class="c8" cx="327.4" cy="556" r="1.88"/>
<circle class="c8" cx="409.89" cy="568.69" r="2.14"/>
<circle class="c8" cx="399.66" cy="568.69" r="2.1"/>
<circle class="c8" cx="439.03" cy="564.01" r="2.29"/>
<circle class="c8" cx="352.39" cy="568.69" r="1.91"/>
<circle class="c8" cx="367.22" cy="560.69" r="2.01"/>
<circle class="c8" cx="344.46" cy="576.7" r="1.84"/>
<circle class="c8" cx="361.51" cy="576.7" r="1.9"/>
<circle class="c8" cx="405.3" cy="556" r="2.19"/>
<circle class="c8" cx="352.39" cy="564.01" r="1.93"/>
<circle class="c8" cx="367.22" cy="576.7" r="1.92"/>
<circle class="c8" cx="415.54" cy="568.69" r="2.17"/>
<circle class="c8" cx="357.61" cy="576.7" r="1.89"/>
<circle class="c8" cx="404.12" cy="564.01" r="2.14"/>
<circle class="c8" cx="383.04" cy="576.7" r="1.99"/>
<circle class="c8" cx="386.15" cy="546.21" r="2.17"/>
<circle class="c8" cx="338.16" cy="576.7" r="1.82"/>
<circle class="c8" cx="380.72" cy="568.69" r="2.02"/>
<circle class="c8" cx="401.99" cy="551.32" r="2.21"/>
<circle class="c8" cx="432.04" cy="544.67" r="2.37"/>
<circle class="c8" cx="404.56" cy="568.69" r="2.12"/>
<circle class="c8" cx="429.68" cy="543.31" r="2.37"/>
<circle class="c8" cx="411.35" cy="554.22" r="2.23"/>
<circle class="c8" cx="449.23" cy="540.99" r="2.46"/>
<circle class="c8" cx="385.8" cy="576.7" r="2"/>
<circle class="c8" cx="429.11" cy="529.4" r="2.44"/>
<circle class="c8" cx="386.15" cy="558.11" r="2.1"/>
<circle class="c8" cx="413.06" cy="543.97" r="2.29"/>
<circle class="c8" cx="385.8" cy="568.69" r="2.04"/>
<circle class="c8" cx="355.22" cy="533.52" r="2.11"/>
<circle class="c8" cx="404.56" cy="529.79" r="2.34"/>
<circle class="c8" cx="376.74" cy="544.67" r="2.14"/>
<circle class="c8" cx="410.64" cy="538.63" r="2.31"/>
<circle class="c8" cx="437.81" cy="558.11" r="2.32"/>
<circle class="c8" cx="327.4" cy="558.11" r="1.87"/>
<circle class="c8" cx="371.39" cy="558.11" r="2.04"/>
<circle class="c8" cx="348.92" cy="539.99" r="2.05"/>
<circle class="c8" cx="402.97" cy="576.7" r="2.07"/>
<circle class="c8" cx="338.16" cy="536.66" r="2.02"/>
<circle class="c8" cx="427.1" cy="564.01" r="2.24"/>
<circle class="c8" cx="408.7" cy="538.21" r="2.31"/>
<circle class="c8" cx="394.01" cy="560.69" r="2.12"/>
<circle class="c8" cx="379.14" cy="549" r="2.12"/>
<circle class="c8" cx="396.01" cy="525.38" r="2.33"/>
<circle class="c8" cx="375.39" cy="564.01" r="2.02"/>
<circle class="c8" cx="429.24" cy="551.32" r="2.32"/>
<circle class="c8" cx="425.54" cy="560.69" r="2.25"/>
<circle class="c8" cx="425.92" cy="554.22" r="2.29"/>
<circle class="c8" cx="357.61" cy="547.07" r="2.04"/>
<circle class="c8" cx="338.16" cy="528.66" r="2.07"/>
<circle class="c8" cx="399.21" cy="558.11" r="2.16"/>
<circle class="c8" cx="401.47" cy="558.11" r="2.17"/>
<circle class="c8" cx="396.92" cy="536.31" r="2.27"/>
<circle class="c8" cx="348.92" cy="526.82" r="2.12"/>
<circle class="c8" cx="338.16" cy="576.7" r="1.82"/>
<circle class="c8" cx="429.27" cy="539.51" r="2.39"/>
<circle class="c8" cx="374.67" cy="556" r="2.07"/>
<circle class="c8" cx="409.97" cy="576.7" r="2.1"/>
<circle class="c8" cx="429.64" cy="531.74" r="2.43"/>
<circle class="c8" cx="440.42" cy="547.99" r="2.39"/>
<circle class="c8" cx="327.4" cy="576.7" r="1.8"/>
<circle class="c8" cx="344.46" cy="554.22" r="1.95"/>
<circle class="c8" cx="376.08" cy="552.68" r="2.09"/>
<circle class="c8" cx="352.39" cy="545.42" r="2.03"/>
<circle class="c8" cx="367.22" cy="552.68" r="2.05"/>
<circle class="c8" cx="441.66" cy="568.69" r="2.27"/>
<circle class="c8" cx="445.44" cy="560.69" r="2.34"/>
<circle class="c8" cx="450.34" cy="564.01" r="2.34"/>
<circle class="c8" cx="338.16" cy="576.7" r="1.82"/>
<circle class="c8" cx="450.82" cy="560.69" r="2.36"/>
<circle class="c8" cx="344.46" cy="568.69" r="1.88"/>
<circle class="c8" cx="373.91" cy="554.22" r="2.07"/>
<circle class="c8" cx="338.16" cy="543.97" r="1.98"/>
<circle class="c8" cx="430.1" cy="564.01" r="2.25"/>
<circle class="c8" cx="435.17" cy="533.25" r="2.45"/>
<circle class="c8" cx="357.61" cy="543.97" r="2.06"/>
<circle class="c12" cx="381.69" cy="576.7" r="1.98"/>
<circle class="c12" cx="373.12" cy="576.7" r="1.95"/>
<circle class="c12" cx="380.72" cy="576.7" r="1.98"/>
<circle class="c12" cx="380.21" cy="576.7" r="1.97"/>
<circle class="c12" cx="398.59" cy="576.7" r="2.05"/>
<circle class="c12" cx="411.56" cy="576.7" r="2.1"/>
<circle class="c12" cx="390.71" cy="576.7" r="2.02"/>
<circle class="c12" cx="359.69" cy="576.7" r="1.89"/>
<circle class="c12" cx="380.72" cy="576.7" r="1.98"/>
<circle class="c12" cx="440.58" cy="576.7" r="2.22"/>
<circle class="c12" cx="431.2" cy="576.7" r="2.19"/>
<circle class="c12" cx="355.22" cy="576.7" r="1.88"/>
<circle class="c12" cx="448.67" cy="576.7" r="2.26"/>
<circle class="c12" cx="412.36" cy="576.7" r="2.11"/>
<circle class="c12" cx="352.39" cy="576.7" r="1.87"/>
<circle class="c12" cx="344.46" cy="576.7" r="1.84"/>
<circle class="c12" cx="338.16" cy="576.7" r="1.82"/>
<circle class="c12" cx="418.08" cy="576.7" r="2.13"/>
<circle class="c12" cx="391.97" cy="576.7" r="2.02"/>
<circle class="c12" cx="386.5" cy="576.7" r="2"/>
<circle class="c12" cx="447.86" cy="576.7" r="2.26"/>
<circle class="c12" cx="348.92" cy="576.7" r="1.85"/>
<circle class="c12" cx="409.27" cy="576.7" r="2.09"/>
<circle class="c12" cx="384.28" cy="576.7" r="1.99"/>
<circle class="c12" cx="388.75" cy="576.7" r="2.01"/>
<circle class="c12" cx="425.56" cy="576.7" r="2.16"/>
<circle class="c12" cx="405.09" cy="576.7" r="2.08"/>
<circle class="c12" cx="385.43" cy="576.7" r="2"/>
<circle class="c12" cx="357.61" cy="576.7" r="1.89"/>
<circle class="c12" cx="394.64" cy="576.7" r="2.03"/>
<circle class="c12" cx="399.36" cy="576.7" r="2.05"/>
<circle class="c12" cx="388.14" cy="576.7" r="2.01"/>
<circle class="c12" cx="377.38" cy="576.7" r="1.96"/>
<circle class="c12" cx="359.69" cy="576.7" r="1.89"/>
<circle class="c12" cx="405.09" cy="576.7" r="2.08"/>
<circle class="c12" cx="402.11" cy="576.7" r="2.06"/>
<circle class="c12" cx="431.98" cy="576.7" r="2.19"/>
<circle class="c12" cx="364.63" cy="576.7" r="1.91"/>
<circle class="c12" cx="393.8" cy="576.7" r="2.03"/>
<circle class="c12" cx="383.46" cy="576.7" r="1.99"/>
<circle class="c12" cx="398.59" cy="576.7" r="2.05"/>
<circle class="c12" cx="378.57" cy="576.7" r="1.97"/>
<circle class="c12" cx="446.53" cy="576.7" r="2.25"/>
<circle class="c12" cx="401.07" cy="576.7" r="2.06"/>
<circle class="c12" cx="416.26" cy="576.7" r="2.12"/>
<circle class="c18" cx="359.69" cy="568.69" r="1.93"/>
<circle class="c18" cx="393.58" cy="568.69" r="2.07"/>
<circle class="c18" cx="413" cy="568.69" r="2.15"/>
<circle class="c18" cx="361.51" cy="568.69" r="1.94"/>
<circle class="c18" cx="416.81" cy="568.69" r="2.17"/>
<circle class="c18" cx="440.28" cy="568.69" r="2.27"/>
<circle class="c18" cx="440.28" cy="568.69" r="2.27"/>
<circle class="c18" cx="421.25" cy="568.69" r="2.19"/>
<circle class="c18" cx="391.97" cy="568.69" r="2.07"/>
<circle class="c18" cx="355.22" cy="568.69" r="1.92"/>
<circle class="c18" cx="431.57" cy="568.69" r="2.23"/>
<circle class="c18" cx="357.61" cy="568.69" r="1.93"/>
<circle class="c18" cx="392.68" cy="568.69" r="2.07"/>
<circle class="c18" cx="417.81" cy="568.69" r="2.17"/>
<circle class="c18" cx="438.11" cy="568.69" r="2.26"/>
<circle class="c19" cx="327.4" cy="576.7" r="1.8"/>
<circle class="c19" cx="338.2" cy="576.7" r="1.8"/>
<circle class="c19" cx="344.5" cy="576.7" r="1.8"/>
<circle class="c19" cx="348.9" cy="576.7" r="1.8"/>
<circle class="c19" cx="352.4" cy="576.7" r="1.8"/>
<circle class="c20" cx="453.5" cy="484.6" r="3.4"/>
<circle class="c20" cx="461.8" cy="516.9" r="3"/>
<circle class="c20" cx="453.5" cy="524.3" r="3"/>
<circle class="c20" cx="476.2" cy="465.1" r="4.6"/>
<line x1="79.3" y1="618.7" x2="81" y2="618.7" stroke="#111" stroke-width="0.95"/>
<line x1="79.3" y1="616.92" x2="81" y2="616.92" stroke="#111" stroke-width="0.95"/>
<line x1="79.3" y1="615.38" x2="81" y2="615.38" stroke="#111" stroke-width="0.95"/>
<line x1="79.3" y1="614.02" x2="81" y2="614.02" stroke="#111" stroke-width="0.95"/>
<line x1="77.8" y1="612.8" x2="81" y2="612.8" stroke="#111" stroke-width="0.95"/>
<line x1="79.3" y1="604.79" x2="81" y2="604.79" stroke="#111" stroke-width="0.95"/>
<line x1="79.3" y1="600.11" x2="81" y2="600.11" stroke="#111" stroke-width="0.95"/>
<line x1="79.3" y1="596.79" x2="81" y2="596.79" stroke="#111" stroke-width="0.95"/>
<line x1="78.6" y1="594.21" x2="81" y2="594.21" stroke="#111" stroke-width="0.95"/>
<line x1="79.3" y1="592.1" x2="81" y2="592.1" stroke="#111" stroke-width="0.95"/>
<line x1="79.3" y1="590.32" x2="81" y2="590.32" stroke="#111" stroke-width="0.95"/>
<line x1="79.3" y1="588.78" x2="81" y2="588.78" stroke="#111" stroke-width="0.95"/>
<line x1="79.3" y1="587.42" x2="81" y2="587.42" stroke="#111" stroke-width="0.95"/>
<line x1="77.8" y1="586.2" x2="81" y2="586.2" stroke="#111" stroke-width="0.95"/>
<line x1="79.3" y1="578.19" x2="81" y2="578.19" stroke="#111" stroke-width="0.95"/>
<line x1="79.3" y1="573.51" x2="81" y2="573.51" stroke="#111" stroke-width="0.95"/>
<line x1="79.3" y1="570.19" x2="81" y2="570.19" stroke="#111" stroke-width="0.95"/>
<line x1="78.6" y1="567.61" x2="81" y2="567.61" stroke="#111" stroke-width="0.95"/>
<line x1="79.3" y1="565.5" x2="81" y2="565.5" stroke="#111" stroke-width="0.95"/>
<line x1="79.3" y1="563.72" x2="81" y2="563.72" stroke="#111" stroke-width="0.95"/>
<line x1="79.3" y1="562.18" x2="81" y2="562.18" stroke="#111" stroke-width="0.95"/>
<line x1="79.3" y1="560.82" x2="81" y2="560.82" stroke="#111" stroke-width="0.95"/>
<line x1="77.8" y1="559.6" x2="81" y2="559.6" stroke="#111" stroke-width="0.95"/>
<line x1="79.3" y1="551.59" x2="81" y2="551.59" stroke="#111" stroke-width="0.95"/>
<line x1="79.3" y1="546.91" x2="81" y2="546.91" stroke="#111" stroke-width="0.95"/>
<line x1="79.3" y1="543.59" x2="81" y2="543.59" stroke="#111" stroke-width="0.95"/>
<line x1="78.6" y1="541.01" x2="81" y2="541.01" stroke="#111" stroke-width="0.95"/>
<line x1="79.3" y1="538.9" x2="81" y2="538.9" stroke="#111" stroke-width="0.95"/>
<line x1="79.3" y1="537.12" x2="81" y2="537.12" stroke="#111" stroke-width="0.95"/>
<line x1="79.3" y1="535.58" x2="81" y2="535.58" stroke="#111" stroke-width="0.95"/>
<line x1="79.3" y1="534.22" x2="81" y2="534.22" stroke="#111" stroke-width="0.95"/>
<line x1="77.8" y1="533" x2="81" y2="533" stroke="#111" stroke-width="0.95"/>
<line x1="79.3" y1="524.99" x2="81" y2="524.99" stroke="#111" stroke-width="0.95"/>
<line x1="79.3" y1="520.31" x2="81" y2="520.31" stroke="#111" stroke-width="0.95"/>
<line x1="79.3" y1="516.99" x2="81" y2="516.99" stroke="#111" stroke-width="0.95"/>
<line x1="78.6" y1="514.41" x2="81" y2="514.41" stroke="#111" stroke-width="0.95"/>
<line x1="79.3" y1="512.3" x2="81" y2="512.3" stroke="#111" stroke-width="0.95"/>
<line x1="79.3" y1="510.52" x2="81" y2="510.52" stroke="#111" stroke-width="0.95"/>
<line x1="79.3" y1="508.98" x2="81" y2="508.98" stroke="#111" stroke-width="0.95"/>
<line x1="79.3" y1="507.62" x2="81" y2="507.62" stroke="#111" stroke-width="0.95"/>
<line x1="77.8" y1="506.4" x2="81" y2="506.4" stroke="#111" stroke-width="0.95"/>
<line x1="79.3" y1="498.39" x2="81" y2="498.39" stroke="#111" stroke-width="0.95"/>
<line x1="79.3" y1="493.71" x2="81" y2="493.71" stroke="#111" stroke-width="0.95"/>
<line x1="79.3" y1="490.39" x2="81" y2="490.39" stroke="#111" stroke-width="0.95"/>
<line x1="78.6" y1="487.81" x2="81" y2="487.81" stroke="#111" stroke-width="0.95"/>
<line x1="79.3" y1="485.7" x2="81" y2="485.7" stroke="#111" stroke-width="0.95"/>
<line x1="79.3" y1="483.92" x2="81" y2="483.92" stroke="#111" stroke-width="0.95"/>
<line x1="79.3" y1="482.38" x2="81" y2="482.38" stroke="#111" stroke-width="0.95"/>
<line x1="79.3" y1="481.02" x2="81" y2="481.02" stroke="#111" stroke-width="0.95"/>
<line x1="77.8" y1="479.8" x2="81" y2="479.8" stroke="#111" stroke-width="0.95"/>
<line x1="79.3" y1="471.79" x2="81" y2="471.79" stroke="#111" stroke-width="0.95"/>
<line x1="79.3" y1="467.11" x2="81" y2="467.11" stroke="#111" stroke-width="0.95"/>
<line x1="79.3" y1="463.79" x2="81" y2="463.79" stroke="#111" stroke-width="0.95"/>
<line x1="78.6" y1="461.21" x2="81" y2="461.21" stroke="#111" stroke-width="0.95"/>
<line x1="79.3" y1="459.1" x2="81" y2="459.1" stroke="#111" stroke-width="0.95"/>
<line x1="82.66" y1="619.5" x2="82.66" y2="621.2" stroke="#111" stroke-width="0.95"/>
<line x1="85.05" y1="619.5" x2="85.05" y2="621.2" stroke="#111" stroke-width="0.95"/>
<line x1="87.13" y1="619.5" x2="87.13" y2="621.2" stroke="#111" stroke-width="0.95"/>
<line x1="88.96" y1="619.5" x2="88.96" y2="621.2" stroke="#111" stroke-width="0.95"/>
<line x1="90.6" y1="619.5" x2="90.6" y2="622.7" stroke="#111" stroke-width="0.95"/>
<line x1="101.38" y1="619.5" x2="101.38" y2="621.2" stroke="#111" stroke-width="0.95"/>
<line x1="107.68" y1="619.5" x2="107.68" y2="621.2" stroke="#111" stroke-width="0.95"/>
<line x1="112.15" y1="619.5" x2="112.15" y2="621.2" stroke="#111" stroke-width="0.95"/>
<line x1="115.62" y1="619.5" x2="115.62" y2="621.9" stroke="#111" stroke-width="0.95"/>
<line x1="118.46" y1="619.5" x2="118.46" y2="621.2" stroke="#111" stroke-width="0.95"/>
<line x1="120.85" y1="619.5" x2="120.85" y2="621.2" stroke="#111" stroke-width="0.95"/>
<line x1="122.93" y1="619.5" x2="122.93" y2="621.2" stroke="#111" stroke-width="0.95"/>
<line x1="124.76" y1="619.5" x2="124.76" y2="621.2" stroke="#111" stroke-width="0.95"/>
<line x1="126.4" y1="619.5" x2="126.4" y2="622.7" stroke="#111" stroke-width="0.95"/>
<line x1="137.18" y1="619.5" x2="137.18" y2="621.2" stroke="#111" stroke-width="0.95"/>
<line x1="143.48" y1="619.5" x2="143.48" y2="621.2" stroke="#111" stroke-width="0.95"/>
<line x1="147.95" y1="619.5" x2="147.95" y2="621.2" stroke="#111" stroke-width="0.95"/>
<line x1="151.42" y1="619.5" x2="151.42" y2="621.9" stroke="#111" stroke-width="0.95"/>
<line x1="154.26" y1="619.5" x2="154.26" y2="621.2" stroke="#111" stroke-width="0.95"/>
<line x1="156.65" y1="619.5" x2="156.65" y2="621.2" stroke="#111" stroke-width="0.95"/>
<line x1="158.73" y1="619.5" x2="158.73" y2="621.2" stroke="#111" stroke-width="0.95"/>
<line x1="160.56" y1="619.5" x2="160.56" y2="621.2" stroke="#111" stroke-width="0.95"/>
<line x1="162.2" y1="619.5" x2="162.2" y2="622.7" stroke="#111" stroke-width="0.95"/>
<line x1="172.98" y1="619.5" x2="172.98" y2="621.2" stroke="#111" stroke-width="0.95"/>
<line x1="179.28" y1="619.5" x2="179.28" y2="621.2" stroke="#111" stroke-width="0.95"/>
<line x1="183.75" y1="619.5" x2="183.75" y2="621.2" stroke="#111" stroke-width="0.95"/>
<line x1="187.22" y1="619.5" x2="187.22" y2="621.9" stroke="#111" stroke-width="0.95"/>
<line x1="190.06" y1="619.5" x2="190.06" y2="621.2" stroke="#111" stroke-width="0.95"/>
<line x1="192.45" y1="619.5" x2="192.45" y2="621.2" stroke="#111" stroke-width="0.95"/>
<line x1="194.53" y1="619.5" x2="194.53" y2="621.2" stroke="#111" stroke-width="0.95"/>
<line x1="196.36" y1="619.5" x2="196.36" y2="621.2" stroke="#111" stroke-width="0.95"/>
<line x1="198" y1="619.5" x2="198" y2="622.7" stroke="#111" stroke-width="0.95"/>
<line x1="208.78" y1="619.5" x2="208.78" y2="621.2" stroke="#111" stroke-width="0.95"/>
<line x1="215.08" y1="619.5" x2="215.08" y2="621.2" stroke="#111" stroke-width="0.95"/>
<line x1="219.55" y1="619.5" x2="219.55" y2="621.2" stroke="#111" stroke-width="0.95"/>
<line x1="223.02" y1="619.5" x2="223.02" y2="621.9" stroke="#111" stroke-width="0.95"/>
<line x1="225.86" y1="619.5" x2="225.86" y2="621.2" stroke="#111" stroke-width="0.95"/>
<line x1="228.25" y1="619.5" x2="228.25" y2="621.2" stroke="#111" stroke-width="0.95"/>
<line x1="230.33" y1="619.5" x2="230.33" y2="621.2" stroke="#111" stroke-width="0.95"/>
<line x1="232.16" y1="619.5" x2="232.16" y2="621.2" stroke="#111" stroke-width="0.95"/>
<line x1="233.8" y1="619.5" x2="233.8" y2="622.7" stroke="#111" stroke-width="0.95"/>
<line x1="244.58" y1="619.5" x2="244.58" y2="621.2" stroke="#111" stroke-width="0.95"/>
<line x1="250.88" y1="619.5" x2="250.88" y2="621.2" stroke="#111" stroke-width="0.95"/>
<line x1="255.35" y1="619.5" x2="255.35" y2="621.2" stroke="#111" stroke-width="0.95"/>
<line x1="258.82" y1="619.5" x2="258.82" y2="621.9" stroke="#111" stroke-width="0.95"/>
<line x1="261.66" y1="619.5" x2="261.66" y2="621.2" stroke="#111" stroke-width="0.95"/>
<line x1="264.05" y1="619.5" x2="264.05" y2="621.2" stroke="#111" stroke-width="0.95"/>
<line x1="266.13" y1="619.5" x2="266.13" y2="621.2" stroke="#111" stroke-width="0.95"/>
<line x1="267.96" y1="619.5" x2="267.96" y2="621.2" stroke="#111" stroke-width="0.95"/>
<line x1="269.6" y1="619.5" x2="269.6" y2="622.7" stroke="#111" stroke-width="0.95"/>
<line x1="280.38" y1="619.5" x2="280.38" y2="621.2" stroke="#111" stroke-width="0.95"/>
<rect x="81" y="458.5" width="203.4" height="161" fill="none" stroke="#111" stroke-width="1.35"/>
<line x1="126.4" y1="619.5" x2="126.4" y2="622.5" stroke="#222" stroke-width="1"/>
<text x="126.4" y="634.2" font-size="8.3" text-anchor="middle" font-weight="normal" fill="#111"  stroke="#111" stroke-width="0.2">1e−06</text>
<line x1="198" y1="619.5" x2="198" y2="622.5" stroke="#222" stroke-width="1"/>
<text x="198" y="634.2" font-size="8.3" text-anchor="middle" font-weight="normal" fill="#111"  stroke="#111" stroke-width="0.2">1e−04</text>
<line x1="269.6" y1="619.5" x2="269.6" y2="622.5" stroke="#222" stroke-width="1"/>
<text x="269.6" y="634.2" font-size="8.3" text-anchor="middle" font-weight="normal" fill="#111"  stroke="#111" stroke-width="0.2">1e−02</text>
<line x1="289.3" y1="618.7" x2="291" y2="618.7" stroke="#111" stroke-width="0.95"/>
<line x1="289.3" y1="616.92" x2="291" y2="616.92" stroke="#111" stroke-width="0.95"/>
<line x1="289.3" y1="615.38" x2="291" y2="615.38" stroke="#111" stroke-width="0.95"/>
<line x1="289.3" y1="614.02" x2="291" y2="614.02" stroke="#111" stroke-width="0.95"/>
<line x1="287.8" y1="612.8" x2="291" y2="612.8" stroke="#111" stroke-width="0.95"/>
<line x1="289.3" y1="604.79" x2="291" y2="604.79" stroke="#111" stroke-width="0.95"/>
<line x1="289.3" y1="600.11" x2="291" y2="600.11" stroke="#111" stroke-width="0.95"/>
<line x1="289.3" y1="596.79" x2="291" y2="596.79" stroke="#111" stroke-width="0.95"/>
<line x1="288.6" y1="594.21" x2="291" y2="594.21" stroke="#111" stroke-width="0.95"/>
<line x1="289.3" y1="592.1" x2="291" y2="592.1" stroke="#111" stroke-width="0.95"/>
<line x1="289.3" y1="590.32" x2="291" y2="590.32" stroke="#111" stroke-width="0.95"/>
<line x1="289.3" y1="588.78" x2="291" y2="588.78" stroke="#111" stroke-width="0.95"/>
<line x1="289.3" y1="587.42" x2="291" y2="587.42" stroke="#111" stroke-width="0.95"/>
<line x1="287.8" y1="586.2" x2="291" y2="586.2" stroke="#111" stroke-width="0.95"/>
<line x1="289.3" y1="578.19" x2="291" y2="578.19" stroke="#111" stroke-width="0.95"/>
<line x1="289.3" y1="573.51" x2="291" y2="573.51" stroke="#111" stroke-width="0.95"/>
<line x1="289.3" y1="570.19" x2="291" y2="570.19" stroke="#111" stroke-width="0.95"/>
<line x1="288.6" y1="567.61" x2="291" y2="567.61" stroke="#111" stroke-width="0.95"/>
<line x1="289.3" y1="565.5" x2="291" y2="565.5" stroke="#111" stroke-width="0.95"/>
<line x1="289.3" y1="563.72" x2="291" y2="563.72" stroke="#111" stroke-width="0.95"/>
<line x1="289.3" y1="562.18" x2="291" y2="562.18" stroke="#111" stroke-width="0.95"/>
<line x1="289.3" y1="560.82" x2="291" y2="560.82" stroke="#111" stroke-width="0.95"/>
<line x1="287.8" y1="559.6" x2="291" y2="559.6" stroke="#111" stroke-width="0.95"/>
<line x1="289.3" y1="551.59" x2="291" y2="551.59" stroke="#111" stroke-width="0.95"/>
<line x1="289.3" y1="546.91" x2="291" y2="546.91" stroke="#111" stroke-width="0.95"/>
<line x1="289.3" y1="543.59" x2="291" y2="543.59" stroke="#111" stroke-width="0.95"/>
<line x1="288.6" y1="541.01" x2="291" y2="541.01" stroke="#111" stroke-width="0.95"/>
<line x1="289.3" y1="538.9" x2="291" y2="538.9" stroke="#111" stroke-width="0.95"/>
<line x1="289.3" y1="537.12" x2="291" y2="537.12" stroke="#111" stroke-width="0.95"/>
<line x1="289.3" y1="535.58" x2="291" y2="535.58" stroke="#111" stroke-width="0.95"/>
<line x1="289.3" y1="534.22" x2="291" y2="534.22" stroke="#111" stroke-width="0.95"/>
<line x1="287.8" y1="533" x2="291" y2="533" stroke="#111" stroke-width="0.95"/>
<line x1="289.3" y1="524.99" x2="291" y2="524.99" stroke="#111" stroke-width="0.95"/>
<line x1="289.3" y1="520.31" x2="291" y2="520.31" stroke="#111" stroke-width="0.95"/>
<line x1="289.3" y1="516.99" x2="291" y2="516.99" stroke="#111" stroke-width="0.95"/>
<line x1="288.6" y1="514.41" x2="291" y2="514.41" stroke="#111" stroke-width="0.95"/>
<line x1="289.3" y1="512.3" x2="291" y2="512.3" stroke="#111" stroke-width="0.95"/>
<line x1="289.3" y1="510.52" x2="291" y2="510.52" stroke="#111" stroke-width="0.95"/>
<line x1="289.3" y1="508.98" x2="291" y2="508.98" stroke="#111" stroke-width="0.95"/>
<line x1="289.3" y1="507.62" x2="291" y2="507.62" stroke="#111" stroke-width="0.95"/>
<line x1="287.8" y1="506.4" x2="291" y2="506.4" stroke="#111" stroke-width="0.95"/>
<line x1="289.3" y1="498.39" x2="291" y2="498.39" stroke="#111" stroke-width="0.95"/>
<line x1="289.3" y1="493.71" x2="291" y2="493.71" stroke="#111" stroke-width="0.95"/>
<line x1="289.3" y1="490.39" x2="291" y2="490.39" stroke="#111" stroke-width="0.95"/>
<line x1="288.6" y1="487.81" x2="291" y2="487.81" stroke="#111" stroke-width="0.95"/>
<line x1="289.3" y1="485.7" x2="291" y2="485.7" stroke="#111" stroke-width="0.95"/>
<line x1="289.3" y1="483.92" x2="291" y2="483.92" stroke="#111" stroke-width="0.95"/>
<line x1="289.3" y1="482.38" x2="291" y2="482.38" stroke="#111" stroke-width="0.95"/>
<line x1="289.3" y1="481.02" x2="291" y2="481.02" stroke="#111" stroke-width="0.95"/>
<line x1="287.8" y1="479.8" x2="291" y2="479.8" stroke="#111" stroke-width="0.95"/>
<line x1="289.3" y1="471.79" x2="291" y2="471.79" stroke="#111" stroke-width="0.95"/>
<line x1="289.3" y1="467.11" x2="291" y2="467.11" stroke="#111" stroke-width="0.95"/>
<line x1="289.3" y1="463.79" x2="291" y2="463.79" stroke="#111" stroke-width="0.95"/>
<line x1="288.6" y1="461.21" x2="291" y2="461.21" stroke="#111" stroke-width="0.95"/>
<line x1="289.3" y1="459.1" x2="291" y2="459.1" stroke="#111" stroke-width="0.95"/>
<line x1="293.12" y1="619.5" x2="293.12" y2="621.2" stroke="#111" stroke-width="0.95"/>
<line x1="295.51" y1="619.5" x2="295.51" y2="621.2" stroke="#111" stroke-width="0.95"/>
<line x1="297.59" y1="619.5" x2="297.59" y2="621.2" stroke="#111" stroke-width="0.95"/>
<line x1="299.41" y1="619.5" x2="299.41" y2="621.2" stroke="#111" stroke-width="0.95"/>
<line x1="301.05" y1="619.5" x2="301.05" y2="622.7" stroke="#111" stroke-width="0.95"/>
<line x1="311.81" y1="619.5" x2="311.81" y2="621.2" stroke="#111" stroke-width="0.95"/>
<line x1="318.11" y1="619.5" x2="318.11" y2="621.2" stroke="#111" stroke-width="0.95"/>
<line x1="322.57" y1="619.5" x2="322.57" y2="621.2" stroke="#111" stroke-width="0.95"/>
<line x1="326.04" y1="619.5" x2="326.04" y2="621.9" stroke="#111" stroke-width="0.95"/>
<line x1="328.87" y1="619.5" x2="328.87" y2="621.2" stroke="#111" stroke-width="0.95"/>
<line x1="331.26" y1="619.5" x2="331.26" y2="621.2" stroke="#111" stroke-width="0.95"/>
<line x1="333.34" y1="619.5" x2="333.34" y2="621.2" stroke="#111" stroke-width="0.95"/>
<line x1="335.16" y1="619.5" x2="335.16" y2="621.2" stroke="#111" stroke-width="0.95"/>
<line x1="336.8" y1="619.5" x2="336.8" y2="622.7" stroke="#111" stroke-width="0.95"/>
<line x1="347.56" y1="619.5" x2="347.56" y2="621.2" stroke="#111" stroke-width="0.95"/>
<line x1="353.86" y1="619.5" x2="353.86" y2="621.2" stroke="#111" stroke-width="0.95"/>
<line x1="358.32" y1="619.5" x2="358.32" y2="621.2" stroke="#111" stroke-width="0.95"/>
<line x1="361.79" y1="619.5" x2="361.79" y2="621.9" stroke="#111" stroke-width="0.95"/>
<line x1="364.62" y1="619.5" x2="364.62" y2="621.2" stroke="#111" stroke-width="0.95"/>
<line x1="367.01" y1="619.5" x2="367.01" y2="621.2" stroke="#111" stroke-width="0.95"/>
<line x1="369.09" y1="619.5" x2="369.09" y2="621.2" stroke="#111" stroke-width="0.95"/>
<line x1="370.91" y1="619.5" x2="370.91" y2="621.2" stroke="#111" stroke-width="0.95"/>
<line x1="372.55" y1="619.5" x2="372.55" y2="622.7" stroke="#111" stroke-width="0.95"/>
<line x1="383.31" y1="619.5" x2="383.31" y2="621.2" stroke="#111" stroke-width="0.95"/>
<line x1="389.61" y1="619.5" x2="389.61" y2="621.2" stroke="#111" stroke-width="0.95"/>
<line x1="394.07" y1="619.5" x2="394.07" y2="621.2" stroke="#111" stroke-width="0.95"/>
<line x1="397.54" y1="619.5" x2="397.54" y2="621.9" stroke="#111" stroke-width="0.95"/>
<line x1="400.37" y1="619.5" x2="400.37" y2="621.2" stroke="#111" stroke-width="0.95"/>
<line x1="402.76" y1="619.5" x2="402.76" y2="621.2" stroke="#111" stroke-width="0.95"/>
<line x1="404.84" y1="619.5" x2="404.84" y2="621.2" stroke="#111" stroke-width="0.95"/>
<line x1="406.66" y1="619.5" x2="406.66" y2="621.2" stroke="#111" stroke-width="0.95"/>
<line x1="408.3" y1="619.5" x2="408.3" y2="622.7" stroke="#111" stroke-width="0.95"/>
<line x1="419.06" y1="619.5" x2="419.06" y2="621.2" stroke="#111" stroke-width="0.95"/>
<line x1="425.36" y1="619.5" x2="425.36" y2="621.2" stroke="#111" stroke-width="0.95"/>
<line x1="429.82" y1="619.5" x2="429.82" y2="621.2" stroke="#111" stroke-width="0.95"/>
<line x1="433.29" y1="619.5" x2="433.29" y2="621.9" stroke="#111" stroke-width="0.95"/>
<line x1="436.12" y1="619.5" x2="436.12" y2="621.2" stroke="#111" stroke-width="0.95"/>
<line x1="438.51" y1="619.5" x2="438.51" y2="621.2" stroke="#111" stroke-width="0.95"/>
<line x1="440.59" y1="619.5" x2="440.59" y2="621.2" stroke="#111" stroke-width="0.95"/>
<line x1="442.41" y1="619.5" x2="442.41" y2="621.2" stroke="#111" stroke-width="0.95"/>
<line x1="444.05" y1="619.5" x2="444.05" y2="622.7" stroke="#111" stroke-width="0.95"/>
<line x1="454.81" y1="619.5" x2="454.81" y2="621.2" stroke="#111" stroke-width="0.95"/>
<line x1="461.11" y1="619.5" x2="461.11" y2="621.2" stroke="#111" stroke-width="0.95"/>
<line x1="465.57" y1="619.5" x2="465.57" y2="621.2" stroke="#111" stroke-width="0.95"/>
<line x1="469.04" y1="619.5" x2="469.04" y2="621.9" stroke="#111" stroke-width="0.95"/>
<line x1="471.87" y1="619.5" x2="471.87" y2="621.2" stroke="#111" stroke-width="0.95"/>
<line x1="474.26" y1="619.5" x2="474.26" y2="621.2" stroke="#111" stroke-width="0.95"/>
<line x1="476.34" y1="619.5" x2="476.34" y2="621.2" stroke="#111" stroke-width="0.95"/>
<line x1="478.16" y1="619.5" x2="478.16" y2="621.2" stroke="#111" stroke-width="0.95"/>
<line x1="479.8" y1="619.5" x2="479.8" y2="622.7" stroke="#111" stroke-width="0.95"/>
<line x1="490.56" y1="619.5" x2="490.56" y2="621.2" stroke="#111" stroke-width="0.95"/>
<rect x="291" y="458.5" width="203.6" height="161" fill="none" stroke="#111" stroke-width="1.35"/>
<line x1="336.8" y1="619.5" x2="336.8" y2="622.5" stroke="#222" stroke-width="1"/>
<text x="336.8" y="634.2" font-size="8.3" text-anchor="middle" font-weight="normal" fill="#111"  stroke="#111" stroke-width="0.2">1e−06</text>
<line x1="408.3" y1="619.5" x2="408.3" y2="622.5" stroke="#222" stroke-width="1"/>
<text x="408.3" y="634.2" font-size="8.3" text-anchor="middle" font-weight="normal" fill="#111"  stroke="#111" stroke-width="0.2">1e−04</text>
<line x1="479.8" y1="619.5" x2="479.8" y2="622.5" stroke="#222" stroke-width="1"/>
<text x="479.8" y="634.2" font-size="8.3" text-anchor="middle" font-weight="normal" fill="#111"  stroke="#111" stroke-width="0.2">1e−02</text>
<line x1="78" y1="479.8" x2="81" y2="479.8" stroke="#222" stroke-width="1"/>
<text x="74.8" y="482.7" font-size="8.3" text-anchor="end" font-weight="normal" fill="#111"  stroke="#111" stroke-width="0.2">1e−02</text>
<line x1="78" y1="533" x2="81" y2="533" stroke="#222" stroke-width="1"/>
<text x="74.8" y="535.9" font-size="8.3" text-anchor="end" font-weight="normal" fill="#111"  stroke="#111" stroke-width="0.2">1e−04</text>
<line x1="78" y1="586.2" x2="81" y2="586.2" stroke="#222" stroke-width="1"/>
<text x="74.8" y="589.1" font-size="8.3" text-anchor="end" font-weight="normal" fill="#111"  stroke="#111" stroke-width="0.2">1e−06</text>
<text x="163" y="472.1" font-size="7.7" text-anchor="middle" font-weight="normal" fill="#111" textLength="73.9" lengthAdjust="spacingAndGlyphs" stroke="#111" stroke-width="0.2">Correlation coefficient</text>
<text x="162.7" y="481.6" font-size="7.8" text-anchor="middle" font-weight="normal" fill="#111"  stroke="#111" stroke-width="0.2">r = 0.84</text>
<text x="373.5" y="472.1" font-size="7.7" text-anchor="middle" font-weight="normal" fill="#111" textLength="73.9" lengthAdjust="spacingAndGlyphs" stroke="#111" stroke-width="0.2">Correlation coefficient</text>
<text x="373.5" y="481.6" font-size="7.8" text-anchor="middle" font-weight="normal" fill="#111"  stroke="#111" stroke-width="0.2">r = 0.21</text>
<text transform="translate(33.6,538.65) rotate(-90)" font-size="10.5" text-anchor="middle" fill="#111" stroke="#111" stroke-width="0.3" textLength="117.7" lengthAdjust="spacingAndGlyphs">TRA clone frequency in experiment T6</text>
<text transform="translate(44.2,539) rotate(-90)" font-size="10.5" text-anchor="middle" fill="#111" stroke="#111" stroke-width="0.3" textLength="58.6" lengthAdjust="spacingAndGlyphs">(location: stanford)</text>
<text x="288.15" y="647.6" font-size="10.4" text-anchor="middle" fill="#111" stroke="#111" stroke-width="0.3" textLength="117.5" lengthAdjust="spacingAndGlyphs">TRA clone frequency in experiment T3</text>
<text x="287.8" y="658.0" font-size="10.4" text-anchor="middle" fill="#111" stroke="#111" stroke-width="0.3" textLength="64.4" lengthAdjust="spacingAndGlyphs">(location: minnesota)</text>
<text x="180" y="678.2" font-size="7.5" text-anchor="start" font-weight="normal" fill="#111" textLength="23" lengthAdjust="spacingAndGlyphs" stroke="#111" stroke-width="0.2">Clones</text>
<circle cx="215" cy="675.6" r="2.5" fill="#111"/>
<text x="220.75" y="678.2" font-size="7.5" text-anchor="start" font-weight="normal" fill="#111" textLength="71" lengthAdjust="spacingAndGlyphs" stroke="#111" stroke-width="0.2">Shared by T3 and T6</text>
<circle cx="304.25" cy="675.6" r="2.5" fill="#7a1418"/>
<text x="309.5" y="678.2" font-size="7.5" text-anchor="start" font-weight="normal" fill="#111" textLength="33.75" lengthAdjust="spacingAndGlyphs" stroke="#111" stroke-width="0.2">Only in T3</text>
<circle cx="356.25" cy="675.6" r="2.5" fill="#8a9cc9"/>
<text x="361.75" y="678.2" font-size="7.5" text-anchor="start" font-weight="normal" fill="#111" textLength="34.5" lengthAdjust="spacingAndGlyphs" stroke="#111" stroke-width="0.2">Only in T6</text>
</svg>
</body></html>
